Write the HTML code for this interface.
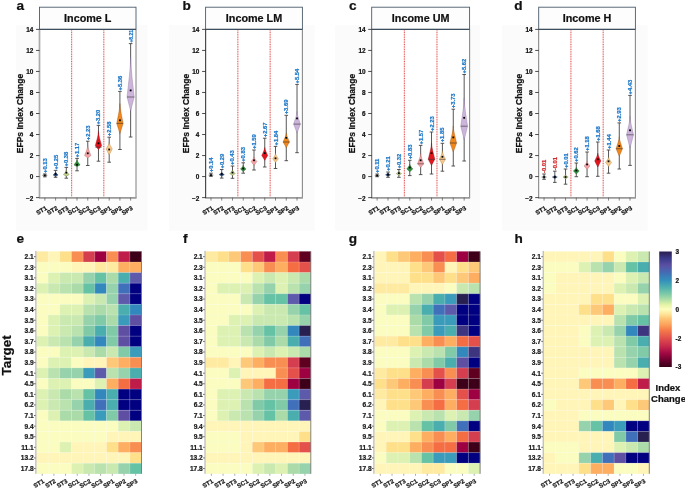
<!DOCTYPE html>
<html><head><meta charset="utf-8"><style>
html,body{margin:0;padding:0;background:#fff;overflow:hidden;}
svg{display:block;will-change:transform;}
text{font-family:"Liberation Sans", sans-serif;}
</style></head><body>
<svg width="685" height="489" viewBox="0 0 685 489">
<rect x="0" y="0" width="685" height="489" fill="#fff"/>
<rect x="16" y="25.2" width="131.5" height="205.5" fill="#fbfbfb"/>
<rect x="169" y="25.2" width="145.7" height="205.5" fill="#fbfbfb"/>
<rect x="335.2" y="25.2" width="144.8" height="205.5" fill="#fbfbfb"/>
<rect x="502" y="25.2" width="145.6" height="205.5" fill="#fbfbfb"/>
<rect x="39.50" y="29.40" width="96.50" height="168.20" fill="#fff"/>
<rect x="39.50" y="7.2" width="96.50" height="22.20" fill="#fdfdfd" stroke="#4a5b6b" stroke-width="0.9"/>
<text x="87.75" y="22.4" font-family="Liberation Sans" font-weight="bold" font-size="10.8" text-anchor="middle" fill="#111" stroke="#111" stroke-width="0.22">Income L</text>
<text x="16.6" y="10.4" font-family="Liberation Sans" font-weight="bold" font-size="13.6" fill="#111" stroke="#111" stroke-width="0.22">a</text>
<line x1="71.67" y1="30.4" x2="71.67" y2="197.6" stroke="#e02828" stroke-width="0.9" stroke-dasharray="1,0.7"/>
<line x1="103.83" y1="30.4" x2="103.83" y2="197.6" stroke="#e02828" stroke-width="0.9" stroke-dasharray="1,0.7"/>
<line x1="136.00" y1="29.4" x2="136.00" y2="198.1" stroke="#8a8a8a" stroke-width="1.1"/>
<line x1="39.00" y1="197.9" x2="136.50" y2="197.9" stroke="#9a9a9a" stroke-width="1.7"/>
<line x1="39.50" y1="29.4" x2="39.50" y2="198.1" stroke="#aaaaaa" stroke-width="1.7"/>
<line x1="39.50" y1="29.4" x2="136.00" y2="29.4" stroke="#3d4f5f" stroke-width="1.1"/>
<line x1="36.00" y1="197.60" x2="39.50" y2="197.60" stroke="#222" stroke-width="0.8"/>
<text x="33.30" y="200.50" font-family="Liberation Sans" font-weight="bold" font-size="6.4" text-anchor="end" fill="#111" stroke="#111" stroke-width="0.22">−2</text>
<line x1="36.00" y1="176.57" x2="39.50" y2="176.57" stroke="#222" stroke-width="0.8"/>
<text x="33.30" y="179.47" font-family="Liberation Sans" font-weight="bold" font-size="6.4" text-anchor="end" fill="#111" stroke="#111" stroke-width="0.22">0</text>
<line x1="36.00" y1="155.55" x2="39.50" y2="155.55" stroke="#222" stroke-width="0.8"/>
<text x="33.30" y="158.45" font-family="Liberation Sans" font-weight="bold" font-size="6.4" text-anchor="end" fill="#111" stroke="#111" stroke-width="0.22">2</text>
<line x1="36.00" y1="134.53" x2="39.50" y2="134.53" stroke="#222" stroke-width="0.8"/>
<text x="33.30" y="137.43" font-family="Liberation Sans" font-weight="bold" font-size="6.4" text-anchor="end" fill="#111" stroke="#111" stroke-width="0.22">4</text>
<line x1="36.00" y1="113.50" x2="39.50" y2="113.50" stroke="#222" stroke-width="0.8"/>
<text x="33.30" y="116.40" font-family="Liberation Sans" font-weight="bold" font-size="6.4" text-anchor="end" fill="#111" stroke="#111" stroke-width="0.22">6</text>
<line x1="36.00" y1="92.47" x2="39.50" y2="92.47" stroke="#222" stroke-width="0.8"/>
<text x="33.30" y="95.38" font-family="Liberation Sans" font-weight="bold" font-size="6.4" text-anchor="end" fill="#111" stroke="#111" stroke-width="0.22">8</text>
<line x1="36.00" y1="71.45" x2="39.50" y2="71.45" stroke="#222" stroke-width="0.8"/>
<text x="33.30" y="74.35" font-family="Liberation Sans" font-weight="bold" font-size="6.4" text-anchor="end" fill="#111" stroke="#111" stroke-width="0.22">10</text>
<line x1="36.00" y1="50.43" x2="39.50" y2="50.43" stroke="#222" stroke-width="0.8"/>
<text x="33.30" y="53.33" font-family="Liberation Sans" font-weight="bold" font-size="6.4" text-anchor="end" fill="#111" stroke="#111" stroke-width="0.22">12</text>
<line x1="36.00" y1="29.40" x2="39.50" y2="29.40" stroke="#222" stroke-width="0.8"/>
<text x="33.30" y="32.30" font-family="Liberation Sans" font-weight="bold" font-size="6.4" text-anchor="end" fill="#111" stroke="#111" stroke-width="0.22">14</text>
<text transform="translate(22.90,113.5) rotate(-90)" font-family="Liberation Sans" font-weight="bold" font-size="8.5" text-anchor="middle" fill="#111" stroke="#111" stroke-width="0.22">EFPs Index Change</text>
<line x1="44.86" y1="197.6" x2="44.86" y2="200.6" stroke="#555" stroke-width="0.7"/>
<text transform="translate(47.46,209.40) rotate(-30)" font-family="Liberation Sans" font-weight="bold" font-size="6.1" text-anchor="end" fill="#111" stroke="#111" stroke-width="0.22">ST1</text>
<line x1="55.58" y1="197.6" x2="55.58" y2="200.6" stroke="#555" stroke-width="0.7"/>
<text transform="translate(58.18,209.40) rotate(-30)" font-family="Liberation Sans" font-weight="bold" font-size="6.1" text-anchor="end" fill="#111" stroke="#111" stroke-width="0.22">ST2</text>
<line x1="66.31" y1="197.6" x2="66.31" y2="200.6" stroke="#555" stroke-width="0.7"/>
<text transform="translate(68.91,209.40) rotate(-30)" font-family="Liberation Sans" font-weight="bold" font-size="6.1" text-anchor="end" fill="#111" stroke="#111" stroke-width="0.22">ST3</text>
<line x1="77.03" y1="197.6" x2="77.03" y2="200.6" stroke="#555" stroke-width="0.7"/>
<text transform="translate(79.63,209.40) rotate(-30)" font-family="Liberation Sans" font-weight="bold" font-size="6.1" text-anchor="end" fill="#111" stroke="#111" stroke-width="0.22">SC1</text>
<line x1="87.75" y1="197.6" x2="87.75" y2="200.6" stroke="#555" stroke-width="0.7"/>
<text transform="translate(90.35,209.40) rotate(-30)" font-family="Liberation Sans" font-weight="bold" font-size="6.1" text-anchor="end" fill="#111" stroke="#111" stroke-width="0.22">SC2</text>
<line x1="98.47" y1="197.6" x2="98.47" y2="200.6" stroke="#555" stroke-width="0.7"/>
<text transform="translate(101.07,209.40) rotate(-30)" font-family="Liberation Sans" font-weight="bold" font-size="6.1" text-anchor="end" fill="#111" stroke="#111" stroke-width="0.22">SC3</text>
<line x1="109.19" y1="197.6" x2="109.19" y2="200.6" stroke="#555" stroke-width="0.7"/>
<text transform="translate(111.79,209.40) rotate(-30)" font-family="Liberation Sans" font-weight="bold" font-size="6.1" text-anchor="end" fill="#111" stroke="#111" stroke-width="0.22">SP1</text>
<line x1="119.92" y1="197.6" x2="119.92" y2="200.6" stroke="#555" stroke-width="0.7"/>
<text transform="translate(122.52,209.40) rotate(-30)" font-family="Liberation Sans" font-weight="bold" font-size="6.1" text-anchor="end" fill="#111" stroke="#111" stroke-width="0.22">SP2</text>
<line x1="130.64" y1="197.6" x2="130.64" y2="200.6" stroke="#555" stroke-width="0.7"/>
<text transform="translate(133.24,209.40) rotate(-30)" font-family="Liberation Sans" font-weight="bold" font-size="6.1" text-anchor="end" fill="#111" stroke="#111" stroke-width="0.22">SP3</text>
<line x1="44.86" y1="174.00" x2="44.86" y2="176.80" stroke="#444" stroke-width="0.9"/>
<line x1="43.06" y1="174.00" x2="46.66" y2="174.00" stroke="#444" stroke-width="0.9"/>
<line x1="43.06" y1="176.80" x2="46.66" y2="176.80" stroke="#444" stroke-width="0.9"/>
<path d="M44.86,173.80 C44.98,174.28 46.30,174.84 47.26,175.40 L44.86,177.00 L42.46,175.40 C43.42,174.84 44.74,174.28 44.86,173.80 Z" fill="#9a9a9a" stroke="#555" stroke-width="0.4"/>
<rect x="43.96" y="174.50" width="1.8" height="1.8" fill="#000"/>
<text transform="translate(46.86,173.00) rotate(-90)" font-family="Liberation Sans" font-weight="bold" font-size="5.8" text-anchor="start" fill="#1f78c8" stroke="#1f78c8" stroke-width="0.22">+0.13</text>
<line x1="55.58" y1="170.40" x2="55.58" y2="177.30" stroke="#444" stroke-width="0.9"/>
<line x1="53.78" y1="170.40" x2="57.38" y2="170.40" stroke="#444" stroke-width="0.9"/>
<line x1="53.78" y1="177.30" x2="57.38" y2="177.30" stroke="#444" stroke-width="0.9"/>
<path d="M55.58,172.00 C55.71,172.90 57.08,173.95 58.08,175.00 L55.58,176.60 L53.08,175.00 C54.08,173.95 55.46,172.90 55.58,172.00 Z" fill="#2b4f86" stroke="#1a2a4a" stroke-width="0.4"/>
<rect x="54.68" y="173.10" width="1.8" height="1.8" fill="#000"/>
<text transform="translate(57.58,169.40) rotate(-90)" font-family="Liberation Sans" font-weight="bold" font-size="5.8" text-anchor="start" fill="#1f78c8" stroke="#1f78c8" stroke-width="0.22">+0.25</text>
<line x1="66.31" y1="167.40" x2="66.31" y2="178.20" stroke="#444" stroke-width="0.9"/>
<line x1="64.51" y1="167.40" x2="68.11" y2="167.40" stroke="#444" stroke-width="0.9"/>
<line x1="64.51" y1="178.20" x2="68.11" y2="178.20" stroke="#444" stroke-width="0.9"/>
<path d="M66.31,170.50 C66.45,171.73 67.99,173.16 69.11,174.60 L66.31,176.20 L63.51,174.60 C64.63,173.16 66.17,171.73 66.31,170.50 Z" fill="#c9d78e" stroke="#556b2f" stroke-width="0.4"/>
<rect x="65.41" y="171.80" width="1.8" height="1.8" fill="#000"/>
<text transform="translate(68.31,166.40) rotate(-90)" font-family="Liberation Sans" font-weight="bold" font-size="5.8" text-anchor="start" fill="#1f78c8" stroke="#1f78c8" stroke-width="0.22">+0.38</text>
<line x1="77.03" y1="158.40" x2="77.03" y2="170.80" stroke="#444" stroke-width="0.9"/>
<line x1="75.23" y1="158.40" x2="78.83" y2="158.40" stroke="#444" stroke-width="0.9"/>
<line x1="75.23" y1="170.80" x2="78.83" y2="170.80" stroke="#444" stroke-width="0.9"/>
<path d="M77.03,159.80 C77.18,161.36 78.83,163.18 80.03,165.00 L77.03,166.60 L74.03,165.00 C75.23,163.18 76.88,161.36 77.03,159.80 Z" fill="#2f8f3a" stroke="#1d5a24" stroke-width="0.4"/>
<rect x="76.13" y="163.80" width="1.8" height="1.8" fill="#000"/>
<text transform="translate(79.03,157.40) rotate(-90)" font-family="Liberation Sans" font-weight="bold" font-size="5.8" text-anchor="start" fill="#1f78c8" stroke="#1f78c8" stroke-width="0.22">+1.17</text>
<line x1="87.75" y1="141.20" x2="87.75" y2="165.50" stroke="#444" stroke-width="0.9"/>
<line x1="85.95" y1="141.20" x2="89.55" y2="141.20" stroke="#444" stroke-width="0.9"/>
<line x1="85.95" y1="165.50" x2="89.55" y2="165.50" stroke="#444" stroke-width="0.9"/>
<path d="M87.75,145.60 C87.91,148.57 89.67,152.03 90.95,155.50 L87.75,157.90 L84.55,155.50 C85.83,152.03 87.59,148.57 87.75,145.60 Z" fill="#f4a3a6" stroke="#b06a70" stroke-width="0.4"/>
<rect x="86.85" y="152.40" width="1.8" height="1.8" fill="#000"/>
<text transform="translate(89.75,140.20) rotate(-90)" font-family="Liberation Sans" font-weight="bold" font-size="5.8" text-anchor="start" fill="#1f78c8" stroke="#1f78c8" stroke-width="0.22">+2.23</text>
<line x1="98.47" y1="125.40" x2="98.47" y2="161.20" stroke="#444" stroke-width="0.9"/>
<line x1="96.67" y1="125.40" x2="100.27" y2="125.40" stroke="#444" stroke-width="0.9"/>
<line x1="96.67" y1="161.20" x2="100.27" y2="161.20" stroke="#444" stroke-width="0.9"/>
<path d="M98.47,131.50 C98.63,135.79 100.39,140.80 101.67,145.80 L98.47,149.50 L95.27,145.80 C96.55,140.80 98.31,135.79 98.47,131.50 Z" fill="#e3161f" stroke="#8a0f14" stroke-width="0.4"/>
<line x1="95.27" y1="147.20" x2="101.67" y2="147.20" stroke="#333" stroke-width="0.6"/>
<rect x="97.57" y="142.40" width="1.8" height="1.8" fill="#000"/>
<text transform="translate(100.47,124.40) rotate(-90)" font-family="Liberation Sans" font-weight="bold" font-size="5.8" text-anchor="start" fill="#1f78c8" stroke="#1f78c8" stroke-width="0.22">+3.20</text>
<line x1="109.19" y1="137.20" x2="109.19" y2="162.20" stroke="#444" stroke-width="0.9"/>
<line x1="107.39" y1="137.20" x2="110.99" y2="137.20" stroke="#444" stroke-width="0.9"/>
<line x1="107.39" y1="162.20" x2="110.99" y2="162.20" stroke="#444" stroke-width="0.9"/>
<path d="M109.19,142.40 C109.35,144.35 111.05,146.62 112.29,148.90 L109.19,155.00 L106.09,148.90 C107.33,146.62 109.04,144.35 109.19,142.40 Z" fill="#f7c98b" stroke="#b08040" stroke-width="0.4"/>
<rect x="108.29" y="148.60" width="1.8" height="1.8" fill="#000"/>
<text transform="translate(111.19,136.20) rotate(-90)" font-family="Liberation Sans" font-weight="bold" font-size="5.8" text-anchor="start" fill="#1f78c8" stroke="#1f78c8" stroke-width="0.22">+2.58</text>
<line x1="119.92" y1="91.40" x2="119.92" y2="149.50" stroke="#444" stroke-width="0.9"/>
<line x1="118.12" y1="91.40" x2="121.72" y2="91.40" stroke="#444" stroke-width="0.9"/>
<line x1="118.12" y1="149.50" x2="121.72" y2="149.50" stroke="#444" stroke-width="0.9"/>
<path d="M119.92,103.50 C120.08,109.47 121.84,116.44 123.12,123.40 L119.92,133.60 L116.72,123.40 C118.00,116.44 119.76,109.47 119.92,103.50 Z" fill="#f2871c" stroke="#9a5210" stroke-width="0.4"/>
<line x1="116.72" y1="123.40" x2="123.12" y2="123.40" stroke="#333" stroke-width="0.6"/>
<rect x="119.02" y="119.40" width="1.8" height="1.8" fill="#000"/>
<text transform="translate(121.92,90.40) rotate(-90)" font-family="Liberation Sans" font-weight="bold" font-size="5.8" text-anchor="start" fill="#1f78c8" stroke="#1f78c8" stroke-width="0.22">+5.36</text>
<line x1="130.64" y1="43.60" x2="130.64" y2="137.00" stroke="#444" stroke-width="0.9"/>
<line x1="128.84" y1="43.60" x2="132.44" y2="43.60" stroke="#444" stroke-width="0.9"/>
<line x1="128.84" y1="137.00" x2="132.44" y2="137.00" stroke="#444" stroke-width="0.9"/>
<path d="M130.64,57.50 C130.82,69.35 132.80,83.17 134.24,97.00 L130.64,110.80 L127.04,97.00 C128.48,83.17 130.46,69.35 130.64,57.50 Z" fill="#cdb4da" stroke="#8a7aa0" stroke-width="0.4"/>
<line x1="127.04" y1="97.00" x2="134.24" y2="97.00" stroke="#333" stroke-width="0.6"/>
<rect x="129.74" y="89.50" width="1.8" height="1.8" fill="#000"/>
<text transform="translate(132.64,42.60) rotate(-90)" font-family="Liberation Sans" font-weight="bold" font-size="5.0" text-anchor="start" fill="#1f78c8" stroke="#1f78c8" stroke-width="0.22">+8.21</text>
<rect x="205.60" y="29.40" width="96.80" height="168.20" fill="#fff"/>
<rect x="205.60" y="7.2" width="96.80" height="22.20" fill="#fdfdfd" stroke="#4a5b6b" stroke-width="0.9"/>
<text x="254.00" y="22.4" font-family="Liberation Sans" font-weight="bold" font-size="10.8" text-anchor="middle" fill="#111" stroke="#111" stroke-width="0.22">Income LM</text>
<text x="182.6" y="10.4" font-family="Liberation Sans" font-weight="bold" font-size="13.6" fill="#111" stroke="#111" stroke-width="0.22">b</text>
<line x1="237.87" y1="30.4" x2="237.87" y2="197.6" stroke="#e02828" stroke-width="0.9" stroke-dasharray="1,0.7"/>
<line x1="270.13" y1="30.4" x2="270.13" y2="197.6" stroke="#e02828" stroke-width="0.9" stroke-dasharray="1,0.7"/>
<line x1="302.40" y1="29.4" x2="302.40" y2="198.1" stroke="#8a8a8a" stroke-width="1.1"/>
<line x1="205.10" y1="197.9" x2="302.90" y2="197.9" stroke="#9a9a9a" stroke-width="1.7"/>
<line x1="205.60" y1="29.4" x2="205.60" y2="198.1" stroke="#4a4a4a" stroke-width="1.2"/>
<line x1="205.60" y1="29.4" x2="302.40" y2="29.4" stroke="#3d4f5f" stroke-width="1.1"/>
<line x1="202.10" y1="197.60" x2="205.60" y2="197.60" stroke="#222" stroke-width="0.8"/>
<text x="199.40" y="200.50" font-family="Liberation Sans" font-weight="bold" font-size="6.4" text-anchor="end" fill="#111" stroke="#111" stroke-width="0.22">−2</text>
<line x1="202.10" y1="176.57" x2="205.60" y2="176.57" stroke="#222" stroke-width="0.8"/>
<text x="199.40" y="179.47" font-family="Liberation Sans" font-weight="bold" font-size="6.4" text-anchor="end" fill="#111" stroke="#111" stroke-width="0.22">0</text>
<line x1="202.10" y1="155.55" x2="205.60" y2="155.55" stroke="#222" stroke-width="0.8"/>
<text x="199.40" y="158.45" font-family="Liberation Sans" font-weight="bold" font-size="6.4" text-anchor="end" fill="#111" stroke="#111" stroke-width="0.22">2</text>
<line x1="202.10" y1="134.53" x2="205.60" y2="134.53" stroke="#222" stroke-width="0.8"/>
<text x="199.40" y="137.43" font-family="Liberation Sans" font-weight="bold" font-size="6.4" text-anchor="end" fill="#111" stroke="#111" stroke-width="0.22">4</text>
<line x1="202.10" y1="113.50" x2="205.60" y2="113.50" stroke="#222" stroke-width="0.8"/>
<text x="199.40" y="116.40" font-family="Liberation Sans" font-weight="bold" font-size="6.4" text-anchor="end" fill="#111" stroke="#111" stroke-width="0.22">6</text>
<line x1="202.10" y1="92.47" x2="205.60" y2="92.47" stroke="#222" stroke-width="0.8"/>
<text x="199.40" y="95.38" font-family="Liberation Sans" font-weight="bold" font-size="6.4" text-anchor="end" fill="#111" stroke="#111" stroke-width="0.22">8</text>
<line x1="202.10" y1="71.45" x2="205.60" y2="71.45" stroke="#222" stroke-width="0.8"/>
<text x="199.40" y="74.35" font-family="Liberation Sans" font-weight="bold" font-size="6.4" text-anchor="end" fill="#111" stroke="#111" stroke-width="0.22">10</text>
<line x1="202.10" y1="50.43" x2="205.60" y2="50.43" stroke="#222" stroke-width="0.8"/>
<text x="199.40" y="53.33" font-family="Liberation Sans" font-weight="bold" font-size="6.4" text-anchor="end" fill="#111" stroke="#111" stroke-width="0.22">12</text>
<line x1="202.10" y1="29.40" x2="205.60" y2="29.40" stroke="#222" stroke-width="0.8"/>
<text x="199.40" y="32.30" font-family="Liberation Sans" font-weight="bold" font-size="6.4" text-anchor="end" fill="#111" stroke="#111" stroke-width="0.22">14</text>
<text transform="translate(189.00,113.5) rotate(-90)" font-family="Liberation Sans" font-weight="bold" font-size="8.5" text-anchor="middle" fill="#111" stroke="#111" stroke-width="0.22">EFPs Index Change</text>
<line x1="210.98" y1="197.6" x2="210.98" y2="200.6" stroke="#555" stroke-width="0.7"/>
<text transform="translate(213.58,209.40) rotate(-30)" font-family="Liberation Sans" font-weight="bold" font-size="6.1" text-anchor="end" fill="#111" stroke="#111" stroke-width="0.22">ST1</text>
<line x1="221.73" y1="197.6" x2="221.73" y2="200.6" stroke="#555" stroke-width="0.7"/>
<text transform="translate(224.33,209.40) rotate(-30)" font-family="Liberation Sans" font-weight="bold" font-size="6.1" text-anchor="end" fill="#111" stroke="#111" stroke-width="0.22">ST2</text>
<line x1="232.49" y1="197.6" x2="232.49" y2="200.6" stroke="#555" stroke-width="0.7"/>
<text transform="translate(235.09,209.40) rotate(-30)" font-family="Liberation Sans" font-weight="bold" font-size="6.1" text-anchor="end" fill="#111" stroke="#111" stroke-width="0.22">ST3</text>
<line x1="243.24" y1="197.6" x2="243.24" y2="200.6" stroke="#555" stroke-width="0.7"/>
<text transform="translate(245.84,209.40) rotate(-30)" font-family="Liberation Sans" font-weight="bold" font-size="6.1" text-anchor="end" fill="#111" stroke="#111" stroke-width="0.22">SC1</text>
<line x1="254.00" y1="197.6" x2="254.00" y2="200.6" stroke="#555" stroke-width="0.7"/>
<text transform="translate(256.60,209.40) rotate(-30)" font-family="Liberation Sans" font-weight="bold" font-size="6.1" text-anchor="end" fill="#111" stroke="#111" stroke-width="0.22">SC2</text>
<line x1="264.76" y1="197.6" x2="264.76" y2="200.6" stroke="#555" stroke-width="0.7"/>
<text transform="translate(267.36,209.40) rotate(-30)" font-family="Liberation Sans" font-weight="bold" font-size="6.1" text-anchor="end" fill="#111" stroke="#111" stroke-width="0.22">SC3</text>
<line x1="275.51" y1="197.6" x2="275.51" y2="200.6" stroke="#555" stroke-width="0.7"/>
<text transform="translate(278.11,209.40) rotate(-30)" font-family="Liberation Sans" font-weight="bold" font-size="6.1" text-anchor="end" fill="#111" stroke="#111" stroke-width="0.22">SP1</text>
<line x1="286.27" y1="197.6" x2="286.27" y2="200.6" stroke="#555" stroke-width="0.7"/>
<text transform="translate(288.87,209.40) rotate(-30)" font-family="Liberation Sans" font-weight="bold" font-size="6.1" text-anchor="end" fill="#111" stroke="#111" stroke-width="0.22">SP2</text>
<line x1="297.02" y1="197.6" x2="297.02" y2="200.6" stroke="#555" stroke-width="0.7"/>
<text transform="translate(299.62,209.40) rotate(-30)" font-family="Liberation Sans" font-weight="bold" font-size="6.1" text-anchor="end" fill="#111" stroke="#111" stroke-width="0.22">SP3</text>
<line x1="210.98" y1="173.20" x2="210.98" y2="176.30" stroke="#444" stroke-width="0.9"/>
<line x1="209.18" y1="173.20" x2="212.78" y2="173.20" stroke="#444" stroke-width="0.9"/>
<line x1="209.18" y1="176.30" x2="212.78" y2="176.30" stroke="#444" stroke-width="0.9"/>
<path d="M210.98,173.60 C211.09,174.08 212.36,174.64 213.28,175.20 L210.98,176.60 L208.68,175.20 C209.60,174.64 210.86,174.08 210.98,173.60 Z" fill="#9a9a9a" stroke="#555" stroke-width="0.4"/>
<rect x="210.08" y="174.30" width="1.8" height="1.8" fill="#000"/>
<text transform="translate(212.98,172.20) rotate(-90)" font-family="Liberation Sans" font-weight="bold" font-size="5.8" text-anchor="start" fill="#1f78c8" stroke="#1f78c8" stroke-width="0.22">+0.14</text>
<line x1="221.73" y1="169.50" x2="221.73" y2="178.10" stroke="#444" stroke-width="0.9"/>
<line x1="219.93" y1="169.50" x2="223.53" y2="169.50" stroke="#444" stroke-width="0.9"/>
<line x1="219.93" y1="178.10" x2="223.53" y2="178.10" stroke="#444" stroke-width="0.9"/>
<path d="M221.73,172.40 C221.86,173.06 223.29,173.83 224.33,174.60 L221.73,176.20 L219.13,174.60 C220.17,173.83 221.60,173.06 221.73,172.40 Z" fill="#2b4f86" stroke="#1a2a4a" stroke-width="0.4"/>
<rect x="220.83" y="173.10" width="1.8" height="1.8" fill="#000"/>
<text transform="translate(223.73,168.50) rotate(-90)" font-family="Liberation Sans" font-weight="bold" font-size="5.8" text-anchor="start" fill="#1f78c8" stroke="#1f78c8" stroke-width="0.22">+0.29</text>
<line x1="232.49" y1="166.00" x2="232.49" y2="178.30" stroke="#444" stroke-width="0.9"/>
<line x1="230.69" y1="166.00" x2="234.29" y2="166.00" stroke="#444" stroke-width="0.9"/>
<line x1="230.69" y1="178.30" x2="234.29" y2="178.30" stroke="#444" stroke-width="0.9"/>
<path d="M232.49,170.00 C232.62,171.08 234.11,172.34 235.19,173.60 L232.49,175.60 L229.79,173.60 C230.87,172.34 232.35,171.08 232.49,170.00 Z" fill="#c9d78e" stroke="#556b2f" stroke-width="0.4"/>
<rect x="231.59" y="171.70" width="1.8" height="1.8" fill="#000"/>
<text transform="translate(234.49,165.00) rotate(-90)" font-family="Liberation Sans" font-weight="bold" font-size="5.8" text-anchor="start" fill="#1f78c8" stroke="#1f78c8" stroke-width="0.22">+0.43</text>
<line x1="243.24" y1="162.80" x2="243.24" y2="173.20" stroke="#444" stroke-width="0.9"/>
<line x1="241.44" y1="162.80" x2="245.04" y2="162.80" stroke="#444" stroke-width="0.9"/>
<line x1="241.44" y1="173.20" x2="245.04" y2="173.20" stroke="#444" stroke-width="0.9"/>
<path d="M243.24,165.40 C243.38,166.48 244.92,167.74 246.04,169.00 L243.24,171.60 L240.44,169.00 C241.56,167.74 243.10,166.48 243.24,165.40 Z" fill="#2f8f3a" stroke="#1d5a24" stroke-width="0.4"/>
<rect x="242.34" y="167.60" width="1.8" height="1.8" fill="#000"/>
<text transform="translate(245.24,161.80) rotate(-90)" font-family="Liberation Sans" font-weight="bold" font-size="5.8" text-anchor="start" fill="#1f78c8" stroke="#1f78c8" stroke-width="0.22">+0.83</text>
<line x1="254.00" y1="150.00" x2="254.00" y2="170.00" stroke="#444" stroke-width="0.9"/>
<line x1="252.20" y1="150.00" x2="255.80" y2="150.00" stroke="#444" stroke-width="0.9"/>
<line x1="252.20" y1="170.00" x2="255.80" y2="170.00" stroke="#444" stroke-width="0.9"/>
<path d="M254.00,157.00 C254.15,158.35 255.74,159.93 256.90,161.50 L254.00,165.40 L251.10,161.50 C252.26,159.93 253.85,158.35 254.00,157.00 Z" fill="#f4a3a6" stroke="#b06a70" stroke-width="0.4"/>
<rect x="253.10" y="159.40" width="1.8" height="1.8" fill="#000"/>
<text transform="translate(256.00,149.00) rotate(-90)" font-family="Liberation Sans" font-weight="bold" font-size="5.8" text-anchor="start" fill="#1f78c8" stroke="#1f78c8" stroke-width="0.22">+1.59</text>
<line x1="264.76" y1="138.20" x2="264.76" y2="167.00" stroke="#444" stroke-width="0.9"/>
<line x1="262.96" y1="138.20" x2="266.56" y2="138.20" stroke="#444" stroke-width="0.9"/>
<line x1="262.96" y1="167.00" x2="266.56" y2="167.00" stroke="#444" stroke-width="0.9"/>
<path d="M264.76,147.50 C264.91,149.90 266.56,152.70 267.76,155.50 L264.76,160.30 L261.76,155.50 C262.96,152.70 264.61,149.90 264.76,147.50 Z" fill="#e3161f" stroke="#8a0f14" stroke-width="0.4"/>
<rect x="263.86" y="152.30" width="1.8" height="1.8" fill="#000"/>
<text transform="translate(266.76,137.20) rotate(-90)" font-family="Liberation Sans" font-weight="bold" font-size="5.8" text-anchor="start" fill="#1f78c8" stroke="#1f78c8" stroke-width="0.22">+2.67</text>
<line x1="275.51" y1="146.40" x2="275.51" y2="168.50" stroke="#444" stroke-width="0.9"/>
<line x1="273.71" y1="146.40" x2="277.31" y2="146.40" stroke="#444" stroke-width="0.9"/>
<line x1="273.71" y1="168.50" x2="277.31" y2="168.50" stroke="#444" stroke-width="0.9"/>
<path d="M275.51,153.50 C275.66,155.09 277.25,156.95 278.41,158.80 L275.51,162.40 L272.61,158.80 C273.77,156.95 275.37,155.09 275.51,153.50 Z" fill="#f7c98b" stroke="#b08040" stroke-width="0.4"/>
<rect x="274.61" y="157.40" width="1.8" height="1.8" fill="#000"/>
<text transform="translate(277.51,145.40) rotate(-90)" font-family="Liberation Sans" font-weight="bold" font-size="5.8" text-anchor="start" fill="#1f78c8" stroke="#1f78c8" stroke-width="0.22">+1.84</text>
<line x1="286.27" y1="115.30" x2="286.27" y2="160.70" stroke="#444" stroke-width="0.9"/>
<line x1="284.47" y1="115.30" x2="288.07" y2="115.30" stroke="#444" stroke-width="0.9"/>
<line x1="284.47" y1="160.70" x2="288.07" y2="160.70" stroke="#444" stroke-width="0.9"/>
<path d="M286.27,133.00 C286.43,135.70 288.19,138.85 289.47,142.00 L286.27,147.60 L283.07,142.00 C284.35,138.85 286.11,135.70 286.27,133.00 Z" fill="#f2871c" stroke="#9a5210" stroke-width="0.4"/>
<line x1="283.07" y1="142.00" x2="289.47" y2="142.00" stroke="#333" stroke-width="0.6"/>
<rect x="285.37" y="136.90" width="1.8" height="1.8" fill="#000"/>
<text transform="translate(288.27,114.30) rotate(-90)" font-family="Liberation Sans" font-weight="bold" font-size="5.8" text-anchor="start" fill="#1f78c8" stroke="#1f78c8" stroke-width="0.22">+3.69</text>
<line x1="297.02" y1="84.40" x2="297.02" y2="152.70" stroke="#444" stroke-width="0.9"/>
<line x1="295.22" y1="84.40" x2="298.82" y2="84.40" stroke="#444" stroke-width="0.9"/>
<line x1="295.22" y1="152.70" x2="298.82" y2="152.70" stroke="#444" stroke-width="0.9"/>
<path d="M297.02,111.50 C297.19,115.28 299.06,119.69 300.42,124.10 L297.02,133.00 L293.62,124.10 C294.98,119.69 296.85,115.28 297.02,111.50 Z" fill="#cdb4da" stroke="#8a7aa0" stroke-width="0.4"/>
<line x1="293.62" y1="124.10" x2="300.42" y2="124.10" stroke="#333" stroke-width="0.6"/>
<rect x="296.12" y="117.50" width="1.8" height="1.8" fill="#000"/>
<text transform="translate(299.02,83.40) rotate(-90)" font-family="Liberation Sans" font-weight="bold" font-size="5.8" text-anchor="start" fill="#1f78c8" stroke="#1f78c8" stroke-width="0.22">+5.54</text>
<rect x="371.70" y="29.40" width="97.90" height="168.20" fill="#fff"/>
<rect x="371.70" y="7.2" width="97.90" height="22.20" fill="#fdfdfd" stroke="#4a5b6b" stroke-width="0.9"/>
<text x="420.65" y="22.4" font-family="Liberation Sans" font-weight="bold" font-size="10.8" text-anchor="middle" fill="#111" stroke="#111" stroke-width="0.22">Income UM</text>
<text x="348.9" y="10.4" font-family="Liberation Sans" font-weight="bold" font-size="13.6" fill="#111" stroke="#111" stroke-width="0.22">c</text>
<line x1="404.33" y1="30.4" x2="404.33" y2="197.6" stroke="#e02828" stroke-width="0.9" stroke-dasharray="1,0.7"/>
<line x1="436.97" y1="30.4" x2="436.97" y2="197.6" stroke="#e02828" stroke-width="0.9" stroke-dasharray="1,0.7"/>
<line x1="469.60" y1="29.4" x2="469.60" y2="198.1" stroke="#8a8a8a" stroke-width="1.1"/>
<line x1="371.20" y1="197.9" x2="470.10" y2="197.9" stroke="#9a9a9a" stroke-width="1.7"/>
<line x1="371.70" y1="29.4" x2="371.70" y2="198.1" stroke="#666" stroke-width="1.1"/>
<line x1="371.70" y1="29.4" x2="469.60" y2="29.4" stroke="#3d4f5f" stroke-width="1.1"/>
<line x1="368.20" y1="197.60" x2="371.70" y2="197.60" stroke="#222" stroke-width="0.8"/>
<text x="365.50" y="200.50" font-family="Liberation Sans" font-weight="bold" font-size="6.4" text-anchor="end" fill="#111" stroke="#111" stroke-width="0.22">−2</text>
<line x1="368.20" y1="176.57" x2="371.70" y2="176.57" stroke="#222" stroke-width="0.8"/>
<text x="365.50" y="179.47" font-family="Liberation Sans" font-weight="bold" font-size="6.4" text-anchor="end" fill="#111" stroke="#111" stroke-width="0.22">0</text>
<line x1="368.20" y1="155.55" x2="371.70" y2="155.55" stroke="#222" stroke-width="0.8"/>
<text x="365.50" y="158.45" font-family="Liberation Sans" font-weight="bold" font-size="6.4" text-anchor="end" fill="#111" stroke="#111" stroke-width="0.22">2</text>
<line x1="368.20" y1="134.53" x2="371.70" y2="134.53" stroke="#222" stroke-width="0.8"/>
<text x="365.50" y="137.43" font-family="Liberation Sans" font-weight="bold" font-size="6.4" text-anchor="end" fill="#111" stroke="#111" stroke-width="0.22">4</text>
<line x1="368.20" y1="113.50" x2="371.70" y2="113.50" stroke="#222" stroke-width="0.8"/>
<text x="365.50" y="116.40" font-family="Liberation Sans" font-weight="bold" font-size="6.4" text-anchor="end" fill="#111" stroke="#111" stroke-width="0.22">6</text>
<line x1="368.20" y1="92.47" x2="371.70" y2="92.47" stroke="#222" stroke-width="0.8"/>
<text x="365.50" y="95.38" font-family="Liberation Sans" font-weight="bold" font-size="6.4" text-anchor="end" fill="#111" stroke="#111" stroke-width="0.22">8</text>
<line x1="368.20" y1="71.45" x2="371.70" y2="71.45" stroke="#222" stroke-width="0.8"/>
<text x="365.50" y="74.35" font-family="Liberation Sans" font-weight="bold" font-size="6.4" text-anchor="end" fill="#111" stroke="#111" stroke-width="0.22">10</text>
<line x1="368.20" y1="50.43" x2="371.70" y2="50.43" stroke="#222" stroke-width="0.8"/>
<text x="365.50" y="53.33" font-family="Liberation Sans" font-weight="bold" font-size="6.4" text-anchor="end" fill="#111" stroke="#111" stroke-width="0.22">12</text>
<line x1="368.20" y1="29.40" x2="371.70" y2="29.40" stroke="#222" stroke-width="0.8"/>
<text x="365.50" y="32.30" font-family="Liberation Sans" font-weight="bold" font-size="6.4" text-anchor="end" fill="#111" stroke="#111" stroke-width="0.22">14</text>
<text transform="translate(355.10,113.5) rotate(-90)" font-family="Liberation Sans" font-weight="bold" font-size="8.5" text-anchor="middle" fill="#111" stroke="#111" stroke-width="0.22">EFPs Index Change</text>
<line x1="377.14" y1="197.6" x2="377.14" y2="200.6" stroke="#555" stroke-width="0.7"/>
<text transform="translate(379.74,209.40) rotate(-30)" font-family="Liberation Sans" font-weight="bold" font-size="6.1" text-anchor="end" fill="#111" stroke="#111" stroke-width="0.22">ST1</text>
<line x1="388.02" y1="197.6" x2="388.02" y2="200.6" stroke="#555" stroke-width="0.7"/>
<text transform="translate(390.62,209.40) rotate(-30)" font-family="Liberation Sans" font-weight="bold" font-size="6.1" text-anchor="end" fill="#111" stroke="#111" stroke-width="0.22">ST2</text>
<line x1="398.89" y1="197.6" x2="398.89" y2="200.6" stroke="#555" stroke-width="0.7"/>
<text transform="translate(401.49,209.40) rotate(-30)" font-family="Liberation Sans" font-weight="bold" font-size="6.1" text-anchor="end" fill="#111" stroke="#111" stroke-width="0.22">ST3</text>
<line x1="409.77" y1="197.6" x2="409.77" y2="200.6" stroke="#555" stroke-width="0.7"/>
<text transform="translate(412.37,209.40) rotate(-30)" font-family="Liberation Sans" font-weight="bold" font-size="6.1" text-anchor="end" fill="#111" stroke="#111" stroke-width="0.22">SC1</text>
<line x1="420.65" y1="197.6" x2="420.65" y2="200.6" stroke="#555" stroke-width="0.7"/>
<text transform="translate(423.25,209.40) rotate(-30)" font-family="Liberation Sans" font-weight="bold" font-size="6.1" text-anchor="end" fill="#111" stroke="#111" stroke-width="0.22">SC2</text>
<line x1="431.53" y1="197.6" x2="431.53" y2="200.6" stroke="#555" stroke-width="0.7"/>
<text transform="translate(434.13,209.40) rotate(-30)" font-family="Liberation Sans" font-weight="bold" font-size="6.1" text-anchor="end" fill="#111" stroke="#111" stroke-width="0.22">SC3</text>
<line x1="442.41" y1="197.6" x2="442.41" y2="200.6" stroke="#555" stroke-width="0.7"/>
<text transform="translate(445.01,209.40) rotate(-30)" font-family="Liberation Sans" font-weight="bold" font-size="6.1" text-anchor="end" fill="#111" stroke="#111" stroke-width="0.22">SP1</text>
<line x1="453.28" y1="197.6" x2="453.28" y2="200.6" stroke="#555" stroke-width="0.7"/>
<text transform="translate(455.88,209.40) rotate(-30)" font-family="Liberation Sans" font-weight="bold" font-size="6.1" text-anchor="end" fill="#111" stroke="#111" stroke-width="0.22">SP2</text>
<line x1="464.16" y1="197.6" x2="464.16" y2="200.6" stroke="#555" stroke-width="0.7"/>
<text transform="translate(466.76,209.40) rotate(-30)" font-family="Liberation Sans" font-weight="bold" font-size="6.1" text-anchor="end" fill="#111" stroke="#111" stroke-width="0.22">SP3</text>
<line x1="377.14" y1="174.00" x2="377.14" y2="176.70" stroke="#444" stroke-width="0.9"/>
<line x1="375.34" y1="174.00" x2="378.94" y2="174.00" stroke="#444" stroke-width="0.9"/>
<line x1="375.34" y1="176.70" x2="378.94" y2="176.70" stroke="#444" stroke-width="0.9"/>
<path d="M377.14,174.20 C377.25,174.62 378.52,175.11 379.44,175.60 L377.14,176.80 L374.84,175.60 C375.76,175.11 377.02,174.62 377.14,174.20 Z" fill="#9a9a9a" stroke="#555" stroke-width="0.4"/>
<rect x="376.24" y="174.70" width="1.8" height="1.8" fill="#000"/>
<text transform="translate(379.14,173.00) rotate(-90)" font-family="Liberation Sans" font-weight="bold" font-size="5.8" text-anchor="start" fill="#1f78c8" stroke="#1f78c8" stroke-width="0.22">+0.11</text>
<line x1="388.02" y1="172.00" x2="388.02" y2="177.30" stroke="#444" stroke-width="0.9"/>
<line x1="386.22" y1="172.00" x2="389.82" y2="172.00" stroke="#444" stroke-width="0.9"/>
<line x1="386.22" y1="177.30" x2="389.82" y2="177.30" stroke="#444" stroke-width="0.9"/>
<path d="M388.02,173.00 C388.14,173.54 389.52,174.17 390.52,174.80 L388.02,176.40 L385.52,174.80 C386.52,174.17 387.89,173.54 388.02,173.00 Z" fill="#2b4f86" stroke="#1a2a4a" stroke-width="0.4"/>
<rect x="387.12" y="173.70" width="1.8" height="1.8" fill="#000"/>
<text transform="translate(390.02,171.00) rotate(-90)" font-family="Liberation Sans" font-weight="bold" font-size="5.8" text-anchor="start" fill="#1f78c8" stroke="#1f78c8" stroke-width="0.22">+0.21</text>
<line x1="398.89" y1="169.50" x2="398.89" y2="177.30" stroke="#444" stroke-width="0.9"/>
<line x1="397.09" y1="169.50" x2="400.69" y2="169.50" stroke="#444" stroke-width="0.9"/>
<line x1="397.09" y1="177.30" x2="400.69" y2="177.30" stroke="#444" stroke-width="0.9"/>
<path d="M398.89,171.50 C399.02,172.13 400.45,172.87 401.49,173.60 L398.89,175.50 L396.29,173.60 C397.33,172.87 398.76,172.13 398.89,171.50 Z" fill="#c9d78e" stroke="#556b2f" stroke-width="0.4"/>
<rect x="397.99" y="172.30" width="1.8" height="1.8" fill="#000"/>
<text transform="translate(400.89,168.50) rotate(-90)" font-family="Liberation Sans" font-weight="bold" font-size="5.8" text-anchor="start" fill="#1f78c8" stroke="#1f78c8" stroke-width="0.22">+0.32</text>
<line x1="409.77" y1="160.30" x2="409.77" y2="175.60" stroke="#444" stroke-width="0.9"/>
<line x1="407.97" y1="160.30" x2="411.57" y2="160.30" stroke="#444" stroke-width="0.9"/>
<line x1="407.97" y1="175.60" x2="411.57" y2="175.60" stroke="#444" stroke-width="0.9"/>
<path d="M409.77,164.20 C409.92,165.64 411.57,167.32 412.77,169.00 L409.77,171.80 L406.77,169.00 C407.97,167.32 409.62,165.64 409.77,164.20 Z" fill="#2f8f3a" stroke="#1d5a24" stroke-width="0.4"/>
<rect x="408.87" y="166.60" width="1.8" height="1.8" fill="#000"/>
<text transform="translate(411.77,159.30) rotate(-90)" font-family="Liberation Sans" font-weight="bold" font-size="5.8" text-anchor="start" fill="#1f78c8" stroke="#1f78c8" stroke-width="0.22">+0.83</text>
<line x1="420.65" y1="145.40" x2="420.65" y2="174.60" stroke="#444" stroke-width="0.9"/>
<line x1="418.85" y1="145.40" x2="422.45" y2="145.40" stroke="#444" stroke-width="0.9"/>
<line x1="418.85" y1="174.60" x2="422.45" y2="174.60" stroke="#444" stroke-width="0.9"/>
<path d="M420.65,153.50 C420.80,156.59 422.51,160.20 423.75,163.80 L420.65,167.50 L417.55,163.80 C418.79,160.20 420.50,156.59 420.65,153.50 Z" fill="#f4a3a6" stroke="#b06a70" stroke-width="0.4"/>
<line x1="417.55" y1="163.80" x2="423.75" y2="163.80" stroke="#333" stroke-width="0.6"/>
<rect x="419.75" y="159.40" width="1.8" height="1.8" fill="#000"/>
<text transform="translate(422.65,144.40) rotate(-90)" font-family="Liberation Sans" font-weight="bold" font-size="5.8" text-anchor="start" fill="#1f78c8" stroke="#1f78c8" stroke-width="0.22">+1.57</text>
<line x1="431.53" y1="132.00" x2="431.53" y2="174.00" stroke="#444" stroke-width="0.9"/>
<line x1="429.73" y1="132.00" x2="433.33" y2="132.00" stroke="#444" stroke-width="0.9"/>
<line x1="429.73" y1="174.00" x2="433.33" y2="174.00" stroke="#444" stroke-width="0.9"/>
<path d="M431.53,143.00 C431.69,147.89 433.51,153.59 434.83,159.30 L431.53,165.40 L428.23,159.30 C429.55,153.59 431.36,147.89 431.53,143.00 Z" fill="#e3161f" stroke="#8a0f14" stroke-width="0.4"/>
<line x1="428.23" y1="159.30" x2="434.83" y2="159.30" stroke="#333" stroke-width="0.6"/>
<rect x="430.63" y="152.30" width="1.8" height="1.8" fill="#000"/>
<text transform="translate(433.53,131.00) rotate(-90)" font-family="Liberation Sans" font-weight="bold" font-size="5.8" text-anchor="start" fill="#1f78c8" stroke="#1f78c8" stroke-width="0.22">+2.23</text>
<line x1="442.41" y1="143.30" x2="442.41" y2="171.20" stroke="#444" stroke-width="0.9"/>
<line x1="440.61" y1="143.30" x2="444.21" y2="143.30" stroke="#444" stroke-width="0.9"/>
<line x1="440.61" y1="171.20" x2="444.21" y2="171.20" stroke="#444" stroke-width="0.9"/>
<path d="M442.41,151.00 C442.56,153.49 444.21,156.40 445.41,159.30 L442.41,164.40 L439.41,159.30 C440.61,156.40 442.26,153.49 442.41,151.00 Z" fill="#f7c98b" stroke="#b08040" stroke-width="0.4"/>
<line x1="439.41" y1="159.30" x2="445.41" y2="159.30" stroke="#333" stroke-width="0.6"/>
<rect x="441.51" y="155.90" width="1.8" height="1.8" fill="#000"/>
<text transform="translate(444.41,142.30) rotate(-90)" font-family="Liberation Sans" font-weight="bold" font-size="5.8" text-anchor="start" fill="#1f78c8" stroke="#1f78c8" stroke-width="0.22">+1.85</text>
<line x1="453.28" y1="109.20" x2="453.28" y2="166.00" stroke="#444" stroke-width="0.9"/>
<line x1="451.48" y1="109.20" x2="455.08" y2="109.20" stroke="#444" stroke-width="0.9"/>
<line x1="451.48" y1="166.00" x2="455.08" y2="166.00" stroke="#444" stroke-width="0.9"/>
<path d="M453.28,126.00 C453.45,131.10 455.26,137.05 456.58,143.00 L453.28,152.00 L449.98,143.00 C451.30,137.05 453.12,131.10 453.28,126.00 Z" fill="#f2871c" stroke="#9a5210" stroke-width="0.4"/>
<line x1="449.98" y1="143.00" x2="456.58" y2="143.00" stroke="#333" stroke-width="0.6"/>
<rect x="452.38" y="136.50" width="1.8" height="1.8" fill="#000"/>
<text transform="translate(455.28,108.20) rotate(-90)" font-family="Liberation Sans" font-weight="bold" font-size="5.8" text-anchor="start" fill="#1f78c8" stroke="#1f78c8" stroke-width="0.22">+3.73</text>
<line x1="464.16" y1="74.50" x2="464.16" y2="161.00" stroke="#444" stroke-width="0.9"/>
<line x1="462.36" y1="74.50" x2="465.96" y2="74.50" stroke="#444" stroke-width="0.9"/>
<line x1="462.36" y1="161.00" x2="465.96" y2="161.00" stroke="#444" stroke-width="0.9"/>
<path d="M464.16,98.00 C464.33,106.46 466.20,116.33 467.56,126.20 L464.16,140.00 L460.76,126.20 C462.12,116.33 463.99,106.46 464.16,98.00 Z" fill="#cdb4da" stroke="#8a7aa0" stroke-width="0.4"/>
<line x1="460.76" y1="126.20" x2="467.56" y2="126.20" stroke="#333" stroke-width="0.6"/>
<rect x="463.26" y="116.90" width="1.8" height="1.8" fill="#000"/>
<text transform="translate(466.16,73.50) rotate(-90)" font-family="Liberation Sans" font-weight="bold" font-size="5.8" text-anchor="start" fill="#1f78c8" stroke="#1f78c8" stroke-width="0.22">+5.62</text>
<rect x="538.70" y="29.40" width="96.70" height="168.20" fill="#fff"/>
<rect x="538.70" y="7.2" width="96.70" height="22.20" fill="#fdfdfd" stroke="#4a5b6b" stroke-width="0.9"/>
<text x="587.05" y="22.4" font-family="Liberation Sans" font-weight="bold" font-size="10.8" text-anchor="middle" fill="#111" stroke="#111" stroke-width="0.22">Income H</text>
<text x="514.2" y="10.4" font-family="Liberation Sans" font-weight="bold" font-size="13.6" fill="#111" stroke="#111" stroke-width="0.22">d</text>
<line x1="570.93" y1="30.4" x2="570.93" y2="197.6" stroke="#e02828" stroke-width="0.9" stroke-dasharray="1,0.7"/>
<line x1="603.17" y1="30.4" x2="603.17" y2="197.6" stroke="#e02828" stroke-width="0.9" stroke-dasharray="1,0.7"/>
<line x1="635.40" y1="29.4" x2="635.40" y2="198.1" stroke="#8a8a8a" stroke-width="1.1"/>
<line x1="538.20" y1="197.9" x2="635.90" y2="197.9" stroke="#9a9a9a" stroke-width="1.7"/>
<line x1="538.70" y1="29.4" x2="538.70" y2="198.1" stroke="#7a7a7a" stroke-width="1.0"/>
<line x1="538.70" y1="29.4" x2="635.40" y2="29.4" stroke="#3d4f5f" stroke-width="1.1"/>
<line x1="535.20" y1="197.60" x2="538.70" y2="197.60" stroke="#222" stroke-width="0.8"/>
<text x="532.50" y="200.50" font-family="Liberation Sans" font-weight="bold" font-size="6.4" text-anchor="end" fill="#111" stroke="#111" stroke-width="0.22">−2</text>
<line x1="535.20" y1="176.57" x2="538.70" y2="176.57" stroke="#222" stroke-width="0.8"/>
<text x="532.50" y="179.47" font-family="Liberation Sans" font-weight="bold" font-size="6.4" text-anchor="end" fill="#111" stroke="#111" stroke-width="0.22">0</text>
<line x1="535.20" y1="155.55" x2="538.70" y2="155.55" stroke="#222" stroke-width="0.8"/>
<text x="532.50" y="158.45" font-family="Liberation Sans" font-weight="bold" font-size="6.4" text-anchor="end" fill="#111" stroke="#111" stroke-width="0.22">2</text>
<line x1="535.20" y1="134.53" x2="538.70" y2="134.53" stroke="#222" stroke-width="0.8"/>
<text x="532.50" y="137.43" font-family="Liberation Sans" font-weight="bold" font-size="6.4" text-anchor="end" fill="#111" stroke="#111" stroke-width="0.22">4</text>
<line x1="535.20" y1="113.50" x2="538.70" y2="113.50" stroke="#222" stroke-width="0.8"/>
<text x="532.50" y="116.40" font-family="Liberation Sans" font-weight="bold" font-size="6.4" text-anchor="end" fill="#111" stroke="#111" stroke-width="0.22">6</text>
<line x1="535.20" y1="92.47" x2="538.70" y2="92.47" stroke="#222" stroke-width="0.8"/>
<text x="532.50" y="95.38" font-family="Liberation Sans" font-weight="bold" font-size="6.4" text-anchor="end" fill="#111" stroke="#111" stroke-width="0.22">8</text>
<line x1="535.20" y1="71.45" x2="538.70" y2="71.45" stroke="#222" stroke-width="0.8"/>
<text x="532.50" y="74.35" font-family="Liberation Sans" font-weight="bold" font-size="6.4" text-anchor="end" fill="#111" stroke="#111" stroke-width="0.22">10</text>
<line x1="535.20" y1="50.43" x2="538.70" y2="50.43" stroke="#222" stroke-width="0.8"/>
<text x="532.50" y="53.33" font-family="Liberation Sans" font-weight="bold" font-size="6.4" text-anchor="end" fill="#111" stroke="#111" stroke-width="0.22">12</text>
<line x1="535.20" y1="29.40" x2="538.70" y2="29.40" stroke="#222" stroke-width="0.8"/>
<text x="532.50" y="32.30" font-family="Liberation Sans" font-weight="bold" font-size="6.4" text-anchor="end" fill="#111" stroke="#111" stroke-width="0.22">14</text>
<text transform="translate(522.10,113.5) rotate(-90)" font-family="Liberation Sans" font-weight="bold" font-size="8.5" text-anchor="middle" fill="#111" stroke="#111" stroke-width="0.22">EFPs Index Change</text>
<line x1="544.07" y1="197.6" x2="544.07" y2="200.6" stroke="#555" stroke-width="0.7"/>
<text transform="translate(546.67,209.40) rotate(-30)" font-family="Liberation Sans" font-weight="bold" font-size="6.1" text-anchor="end" fill="#111" stroke="#111" stroke-width="0.22">ST1</text>
<line x1="554.82" y1="197.6" x2="554.82" y2="200.6" stroke="#555" stroke-width="0.7"/>
<text transform="translate(557.42,209.40) rotate(-30)" font-family="Liberation Sans" font-weight="bold" font-size="6.1" text-anchor="end" fill="#111" stroke="#111" stroke-width="0.22">ST2</text>
<line x1="565.56" y1="197.6" x2="565.56" y2="200.6" stroke="#555" stroke-width="0.7"/>
<text transform="translate(568.16,209.40) rotate(-30)" font-family="Liberation Sans" font-weight="bold" font-size="6.1" text-anchor="end" fill="#111" stroke="#111" stroke-width="0.22">ST3</text>
<line x1="576.31" y1="197.6" x2="576.31" y2="200.6" stroke="#555" stroke-width="0.7"/>
<text transform="translate(578.91,209.40) rotate(-30)" font-family="Liberation Sans" font-weight="bold" font-size="6.1" text-anchor="end" fill="#111" stroke="#111" stroke-width="0.22">SC1</text>
<line x1="587.05" y1="197.6" x2="587.05" y2="200.6" stroke="#555" stroke-width="0.7"/>
<text transform="translate(589.65,209.40) rotate(-30)" font-family="Liberation Sans" font-weight="bold" font-size="6.1" text-anchor="end" fill="#111" stroke="#111" stroke-width="0.22">SC2</text>
<line x1="597.79" y1="197.6" x2="597.79" y2="200.6" stroke="#555" stroke-width="0.7"/>
<text transform="translate(600.39,209.40) rotate(-30)" font-family="Liberation Sans" font-weight="bold" font-size="6.1" text-anchor="end" fill="#111" stroke="#111" stroke-width="0.22">SC3</text>
<line x1="608.54" y1="197.6" x2="608.54" y2="200.6" stroke="#555" stroke-width="0.7"/>
<text transform="translate(611.14,209.40) rotate(-30)" font-family="Liberation Sans" font-weight="bold" font-size="6.1" text-anchor="end" fill="#111" stroke="#111" stroke-width="0.22">SP1</text>
<line x1="619.28" y1="197.6" x2="619.28" y2="200.6" stroke="#555" stroke-width="0.7"/>
<text transform="translate(621.88,209.40) rotate(-30)" font-family="Liberation Sans" font-weight="bold" font-size="6.1" text-anchor="end" fill="#111" stroke="#111" stroke-width="0.22">SP2</text>
<line x1="630.03" y1="197.6" x2="630.03" y2="200.6" stroke="#555" stroke-width="0.7"/>
<text transform="translate(632.63,209.40) rotate(-30)" font-family="Liberation Sans" font-weight="bold" font-size="6.1" text-anchor="end" fill="#111" stroke="#111" stroke-width="0.22">SP3</text>
<line x1="544.07" y1="174.00" x2="544.07" y2="179.30" stroke="#444" stroke-width="0.9"/>
<line x1="542.27" y1="174.00" x2="545.87" y2="174.00" stroke="#444" stroke-width="0.9"/>
<line x1="542.27" y1="179.30" x2="545.87" y2="179.30" stroke="#444" stroke-width="0.9"/>
<path d="M544.07,175.40 C544.19,175.88 545.51,176.44 546.47,177.00 L544.07,178.60 L541.67,177.00 C542.63,176.44 543.95,175.88 544.07,175.40 Z" fill="#9a9a9a" stroke="#555" stroke-width="0.4"/>
<rect x="543.17" y="176.10" width="1.8" height="1.8" fill="#000"/>
<text transform="translate(546.07,173.00) rotate(-90)" font-family="Liberation Sans" font-weight="bold" font-size="5.8" text-anchor="start" fill="#d42a2a" stroke="#d42a2a" stroke-width="0.22">-0.01</text>
<line x1="554.82" y1="171.20" x2="554.82" y2="182.40" stroke="#444" stroke-width="0.9"/>
<line x1="553.02" y1="171.20" x2="556.62" y2="171.20" stroke="#444" stroke-width="0.9"/>
<line x1="553.02" y1="182.40" x2="556.62" y2="182.40" stroke="#444" stroke-width="0.9"/>
<path d="M554.82,175.40 C554.94,175.88 556.32,176.44 557.32,177.00 L554.82,178.60 L552.32,177.00 C553.32,176.44 554.69,175.88 554.82,175.40 Z" fill="#2b4f86" stroke="#1a2a4a" stroke-width="0.4"/>
<rect x="553.92" y="176.10" width="1.8" height="1.8" fill="#000"/>
<text transform="translate(556.82,170.20) rotate(-90)" font-family="Liberation Sans" font-weight="bold" font-size="5.8" text-anchor="start" fill="#d42a2a" stroke="#d42a2a" stroke-width="0.22">-0.01</text>
<line x1="565.56" y1="169.00" x2="565.56" y2="184.20" stroke="#444" stroke-width="0.9"/>
<line x1="563.76" y1="169.00" x2="567.36" y2="169.00" stroke="#444" stroke-width="0.9"/>
<line x1="563.76" y1="184.20" x2="567.36" y2="184.20" stroke="#444" stroke-width="0.9"/>
<path d="M565.56,175.00 C565.69,175.60 567.12,176.30 568.16,177.00 L565.56,178.80 L562.96,177.00 C564.00,176.30 565.43,175.60 565.56,175.00 Z" fill="#c9d78e" stroke="#556b2f" stroke-width="0.4"/>
<rect x="564.66" y="176.10" width="1.8" height="1.8" fill="#000"/>
<text transform="translate(567.56,168.00) rotate(-90)" font-family="Liberation Sans" font-weight="bold" font-size="5.8" text-anchor="start" fill="#1f78c8" stroke="#1f78c8" stroke-width="0.22">+0.01</text>
<line x1="576.31" y1="163.00" x2="576.31" y2="176.70" stroke="#444" stroke-width="0.9"/>
<line x1="574.51" y1="163.00" x2="578.11" y2="163.00" stroke="#444" stroke-width="0.9"/>
<line x1="574.51" y1="176.70" x2="578.11" y2="176.70" stroke="#444" stroke-width="0.9"/>
<path d="M576.31,167.50 C576.45,168.55 578.05,169.78 579.21,171.00 L576.31,174.00 L573.41,171.00 C574.57,169.78 576.16,168.55 576.31,167.50 Z" fill="#2f8f3a" stroke="#1d5a24" stroke-width="0.4"/>
<rect x="575.41" y="169.60" width="1.8" height="1.8" fill="#000"/>
<text transform="translate(578.31,162.00) rotate(-90)" font-family="Liberation Sans" font-weight="bold" font-size="5.8" text-anchor="start" fill="#1f78c8" stroke="#1f78c8" stroke-width="0.22">+0.62</text>
<line x1="587.05" y1="152.00" x2="587.05" y2="176.70" stroke="#444" stroke-width="0.9"/>
<line x1="585.25" y1="152.00" x2="588.85" y2="152.00" stroke="#444" stroke-width="0.9"/>
<line x1="585.25" y1="176.70" x2="588.85" y2="176.70" stroke="#444" stroke-width="0.9"/>
<path d="M587.05,161.30 C587.19,162.71 588.79,164.36 589.95,166.00 L587.05,169.50 L584.15,166.00 C585.31,164.36 586.90,162.71 587.05,161.30 Z" fill="#f4a3a6" stroke="#b06a70" stroke-width="0.4"/>
<rect x="586.15" y="163.50" width="1.8" height="1.8" fill="#000"/>
<text transform="translate(589.05,151.00) rotate(-90)" font-family="Liberation Sans" font-weight="bold" font-size="5.8" text-anchor="start" fill="#1f78c8" stroke="#1f78c8" stroke-width="0.22">+1.18</text>
<line x1="597.79" y1="142.00" x2="597.79" y2="176.30" stroke="#444" stroke-width="0.9"/>
<line x1="595.99" y1="142.00" x2="599.59" y2="142.00" stroke="#444" stroke-width="0.9"/>
<line x1="595.99" y1="176.30" x2="599.59" y2="176.30" stroke="#444" stroke-width="0.9"/>
<path d="M597.79,153.20 C597.95,155.54 599.65,158.27 600.89,161.00 L597.79,167.00 L594.69,161.00 C595.93,158.27 597.64,155.54 597.79,153.20 Z" fill="#e3161f" stroke="#8a0f14" stroke-width="0.4"/>
<rect x="596.89" y="158.40" width="1.8" height="1.8" fill="#000"/>
<text transform="translate(599.79,141.00) rotate(-90)" font-family="Liberation Sans" font-weight="bold" font-size="5.8" text-anchor="start" fill="#1f78c8" stroke="#1f78c8" stroke-width="0.22">+1.68</text>
<line x1="608.54" y1="150.00" x2="608.54" y2="173.20" stroke="#444" stroke-width="0.9"/>
<line x1="606.74" y1="150.00" x2="610.34" y2="150.00" stroke="#444" stroke-width="0.9"/>
<line x1="606.74" y1="173.20" x2="610.34" y2="173.20" stroke="#444" stroke-width="0.9"/>
<path d="M608.54,157.20 C608.69,158.79 610.34,160.65 611.54,162.50 L608.54,166.40 L605.54,162.50 C606.74,160.65 608.39,158.79 608.54,157.20 Z" fill="#f7c98b" stroke="#b08040" stroke-width="0.4"/>
<rect x="607.64" y="160.40" width="1.8" height="1.8" fill="#000"/>
<text transform="translate(610.54,149.00) rotate(-90)" font-family="Liberation Sans" font-weight="bold" font-size="5.8" text-anchor="start" fill="#1f78c8" stroke="#1f78c8" stroke-width="0.22">+1.44</text>
<line x1="619.28" y1="122.90" x2="619.28" y2="169.00" stroke="#444" stroke-width="0.9"/>
<line x1="617.48" y1="122.90" x2="621.08" y2="122.90" stroke="#444" stroke-width="0.9"/>
<line x1="617.48" y1="169.00" x2="621.08" y2="169.00" stroke="#444" stroke-width="0.9"/>
<path d="M619.28,136.80 C619.44,140.37 621.20,144.53 622.48,148.70 L619.28,156.20 L616.08,148.70 C617.36,144.53 619.12,140.37 619.28,136.80 Z" fill="#f2871c" stroke="#9a5210" stroke-width="0.4"/>
<line x1="616.08" y1="148.70" x2="622.48" y2="148.70" stroke="#333" stroke-width="0.6"/>
<rect x="618.38" y="145.10" width="1.8" height="1.8" fill="#000"/>
<text transform="translate(621.28,121.90) rotate(-90)" font-family="Liberation Sans" font-weight="bold" font-size="5.8" text-anchor="start" fill="#1f78c8" stroke="#1f78c8" stroke-width="0.22">+2.93</text>
<line x1="630.03" y1="95.40" x2="630.03" y2="165.40" stroke="#444" stroke-width="0.9"/>
<line x1="628.23" y1="95.40" x2="631.83" y2="95.40" stroke="#444" stroke-width="0.9"/>
<line x1="628.23" y1="165.40" x2="631.83" y2="165.40" stroke="#444" stroke-width="0.9"/>
<path d="M630.03,116.40 C630.20,121.92 632.13,128.36 633.53,134.80 L630.03,148.00 L626.53,134.80 C627.93,128.36 629.85,121.92 630.03,116.40 Z" fill="#cdb4da" stroke="#8a7aa0" stroke-width="0.4"/>
<line x1="626.53" y1="134.80" x2="633.53" y2="134.80" stroke="#333" stroke-width="0.6"/>
<rect x="629.13" y="129.40" width="1.8" height="1.8" fill="#000"/>
<text transform="translate(632.03,94.40) rotate(-90)" font-family="Liberation Sans" font-weight="bold" font-size="5.8" text-anchor="start" fill="#1f78c8" stroke="#1f78c8" stroke-width="0.22">+4.43</text>
<rect x="36.40" y="251.40" width="11.73" height="10.64" fill="#feeaa0"/>
<rect x="48.08" y="251.40" width="11.73" height="10.64" fill="#fff5b8"/>
<rect x="59.76" y="251.40" width="11.73" height="10.64" fill="#fee08b"/>
<rect x="71.43" y="251.40" width="11.73" height="10.64" fill="#f98e52"/>
<rect x="83.11" y="251.40" width="11.73" height="10.64" fill="#d53e4f"/>
<rect x="94.79" y="251.40" width="11.73" height="10.64" fill="#9e0142"/>
<rect x="106.47" y="251.40" width="11.73" height="10.64" fill="#f98e52"/>
<rect x="118.14" y="251.40" width="11.73" height="10.64" fill="#c01c4a"/>
<rect x="129.82" y="251.40" width="11.73" height="10.64" fill="#3d0018"/>
<rect x="36.40" y="261.99" width="11.73" height="10.64" fill="#fafcc0"/>
<rect x="48.08" y="261.99" width="11.73" height="10.64" fill="#fafcc0"/>
<rect x="59.76" y="261.99" width="11.73" height="10.64" fill="#fafcc0"/>
<rect x="71.43" y="261.99" width="11.73" height="10.64" fill="#fff5b8"/>
<rect x="83.11" y="261.99" width="11.73" height="10.64" fill="#fff5b8"/>
<rect x="94.79" y="261.99" width="11.73" height="10.64" fill="#feeaa0"/>
<rect x="106.47" y="261.99" width="11.73" height="10.64" fill="#feeaa0"/>
<rect x="118.14" y="261.99" width="11.73" height="10.64" fill="#fdae61"/>
<rect x="129.82" y="261.99" width="11.73" height="10.64" fill="#fdae61"/>
<rect x="36.40" y="272.58" width="11.73" height="10.64" fill="#fafcc0"/>
<rect x="48.08" y="272.58" width="11.73" height="10.64" fill="#ddf2b2"/>
<rect x="59.76" y="272.58" width="11.73" height="10.64" fill="#cae9b1"/>
<rect x="71.43" y="272.58" width="11.73" height="10.64" fill="#cae9b1"/>
<rect x="83.11" y="272.58" width="11.73" height="10.64" fill="#96d2ab"/>
<rect x="94.79" y="272.58" width="11.73" height="10.64" fill="#66c2a5"/>
<rect x="106.47" y="272.58" width="11.73" height="10.64" fill="#abdba8"/>
<rect x="118.14" y="272.58" width="11.73" height="10.64" fill="#4aadae"/>
<rect x="129.82" y="272.58" width="11.73" height="10.64" fill="#5e5aab"/>
<rect x="36.40" y="283.17" width="11.73" height="10.64" fill="#ddf2b2"/>
<rect x="48.08" y="283.17" width="11.73" height="10.64" fill="#cae9b1"/>
<rect x="59.76" y="283.17" width="11.73" height="10.64" fill="#b9e2ae"/>
<rect x="71.43" y="283.17" width="11.73" height="10.64" fill="#abdba8"/>
<rect x="83.11" y="283.17" width="11.73" height="10.64" fill="#66c2a5"/>
<rect x="94.79" y="283.17" width="11.73" height="10.64" fill="#3288bd"/>
<rect x="106.47" y="283.17" width="11.73" height="10.64" fill="#96d2ab"/>
<rect x="118.14" y="283.17" width="11.73" height="10.64" fill="#4170bb"/>
<rect x="129.82" y="283.17" width="11.73" height="10.64" fill="#000080"/>
<rect x="36.40" y="293.76" width="11.73" height="10.64" fill="#fafcc0"/>
<rect x="48.08" y="293.76" width="11.73" height="10.64" fill="#fafcc0"/>
<rect x="59.76" y="293.76" width="11.73" height="10.64" fill="#fafcc0"/>
<rect x="71.43" y="293.76" width="11.73" height="10.64" fill="#fafcc0"/>
<rect x="83.11" y="293.76" width="11.73" height="10.64" fill="#ddf2b2"/>
<rect x="94.79" y="293.76" width="11.73" height="10.64" fill="#cae9b1"/>
<rect x="106.47" y="293.76" width="11.73" height="10.64" fill="#96d2ab"/>
<rect x="118.14" y="293.76" width="11.73" height="10.64" fill="#5e5aab"/>
<rect x="129.82" y="293.76" width="11.73" height="10.64" fill="#000080"/>
<rect x="36.40" y="304.35" width="11.73" height="10.64" fill="#fafcc0"/>
<rect x="48.08" y="304.35" width="11.73" height="10.64" fill="#fafcc0"/>
<rect x="59.76" y="304.35" width="11.73" height="10.64" fill="#ddf2b2"/>
<rect x="71.43" y="304.35" width="11.73" height="10.64" fill="#ddf2b2"/>
<rect x="83.11" y="304.35" width="11.73" height="10.64" fill="#b9e2ae"/>
<rect x="94.79" y="304.35" width="11.73" height="10.64" fill="#abdba8"/>
<rect x="106.47" y="304.35" width="11.73" height="10.64" fill="#b9e2ae"/>
<rect x="118.14" y="304.35" width="11.73" height="10.64" fill="#4aadae"/>
<rect x="129.82" y="304.35" width="11.73" height="10.64" fill="#3288bd"/>
<rect x="36.40" y="314.94" width="11.73" height="10.64" fill="#fafcc0"/>
<rect x="48.08" y="314.94" width="11.73" height="10.64" fill="#ddf2b2"/>
<rect x="59.76" y="314.94" width="11.73" height="10.64" fill="#cae9b1"/>
<rect x="71.43" y="314.94" width="11.73" height="10.64" fill="#cae9b1"/>
<rect x="83.11" y="314.94" width="11.73" height="10.64" fill="#96d2ab"/>
<rect x="94.79" y="314.94" width="11.73" height="10.64" fill="#80caa8"/>
<rect x="106.47" y="314.94" width="11.73" height="10.64" fill="#abdba8"/>
<rect x="118.14" y="314.94" width="11.73" height="10.64" fill="#3b9bbb"/>
<rect x="129.82" y="314.94" width="11.73" height="10.64" fill="#5e4fa2"/>
<rect x="36.40" y="325.53" width="11.73" height="10.64" fill="#fafcc0"/>
<rect x="48.08" y="325.53" width="11.73" height="10.64" fill="#ddf2b2"/>
<rect x="59.76" y="325.53" width="11.73" height="10.64" fill="#cae9b1"/>
<rect x="71.43" y="325.53" width="11.73" height="10.64" fill="#b9e2ae"/>
<rect x="83.11" y="325.53" width="11.73" height="10.64" fill="#80caa8"/>
<rect x="94.79" y="325.53" width="11.73" height="10.64" fill="#4aadae"/>
<rect x="106.47" y="325.53" width="11.73" height="10.64" fill="#80caa8"/>
<rect x="118.14" y="325.53" width="11.73" height="10.64" fill="#5e4fa2"/>
<rect x="129.82" y="325.53" width="11.73" height="10.64" fill="#000080"/>
<rect x="36.40" y="336.12" width="11.73" height="10.64" fill="#ddf2b2"/>
<rect x="48.08" y="336.12" width="11.73" height="10.64" fill="#cae9b1"/>
<rect x="59.76" y="336.12" width="11.73" height="10.64" fill="#b9e2ae"/>
<rect x="71.43" y="336.12" width="11.73" height="10.64" fill="#96d2ab"/>
<rect x="83.11" y="336.12" width="11.73" height="10.64" fill="#4aadae"/>
<rect x="94.79" y="336.12" width="11.73" height="10.64" fill="#3288bd"/>
<rect x="106.47" y="336.12" width="11.73" height="10.64" fill="#80caa8"/>
<rect x="118.14" y="336.12" width="11.73" height="10.64" fill="#5e4fa2"/>
<rect x="129.82" y="336.12" width="11.73" height="10.64" fill="#000080"/>
<rect x="36.40" y="346.71" width="11.73" height="10.64" fill="#fafcc0"/>
<rect x="48.08" y="346.71" width="11.73" height="10.64" fill="#fafcc0"/>
<rect x="59.76" y="346.71" width="11.73" height="10.64" fill="#ddf2b2"/>
<rect x="71.43" y="346.71" width="11.73" height="10.64" fill="#ddf2b2"/>
<rect x="83.11" y="346.71" width="11.73" height="10.64" fill="#cae9b1"/>
<rect x="94.79" y="346.71" width="11.73" height="10.64" fill="#abdba8"/>
<rect x="106.47" y="346.71" width="11.73" height="10.64" fill="#cae9b1"/>
<rect x="118.14" y="346.71" width="11.73" height="10.64" fill="#80caa8"/>
<rect x="129.82" y="346.71" width="11.73" height="10.64" fill="#3b9bbb"/>
<rect x="36.40" y="357.30" width="11.73" height="10.64" fill="#fafcc0"/>
<rect x="48.08" y="357.30" width="11.73" height="10.64" fill="#ddf2b2"/>
<rect x="59.76" y="357.30" width="11.73" height="10.64" fill="#ddf2b2"/>
<rect x="71.43" y="357.30" width="11.73" height="10.64" fill="#fafcc0"/>
<rect x="83.11" y="357.30" width="11.73" height="10.64" fill="#fff5b8"/>
<rect x="94.79" y="357.30" width="11.73" height="10.64" fill="#fff5b8"/>
<rect x="106.47" y="357.30" width="11.73" height="10.64" fill="#fdc878"/>
<rect x="118.14" y="357.30" width="11.73" height="10.64" fill="#fdae61"/>
<rect x="129.82" y="357.30" width="11.73" height="10.64" fill="#f98e52"/>
<rect x="36.40" y="367.90" width="11.73" height="10.64" fill="#ddf2b2"/>
<rect x="48.08" y="367.90" width="11.73" height="10.64" fill="#b9e2ae"/>
<rect x="59.76" y="367.90" width="11.73" height="10.64" fill="#96d2ab"/>
<rect x="71.43" y="367.90" width="11.73" height="10.64" fill="#96d2ab"/>
<rect x="83.11" y="367.90" width="11.73" height="10.64" fill="#3b9bbb"/>
<rect x="94.79" y="367.90" width="11.73" height="10.64" fill="#5e5aab"/>
<rect x="106.47" y="367.90" width="11.73" height="10.64" fill="#b9e2ae"/>
<rect x="118.14" y="367.90" width="11.73" height="10.64" fill="#96d2ab"/>
<rect x="129.82" y="367.90" width="11.73" height="10.64" fill="#4aadae"/>
<rect x="36.40" y="378.49" width="11.73" height="10.64" fill="#fafcc0"/>
<rect x="48.08" y="378.49" width="11.73" height="10.64" fill="#ddf2b2"/>
<rect x="59.76" y="378.49" width="11.73" height="10.64" fill="#ddf2b2"/>
<rect x="71.43" y="378.49" width="11.73" height="10.64" fill="#fafcc0"/>
<rect x="83.11" y="378.49" width="11.73" height="10.64" fill="#fafcc0"/>
<rect x="94.79" y="378.49" width="11.73" height="10.64" fill="#ddf2b2"/>
<rect x="106.47" y="378.49" width="11.73" height="10.64" fill="#fdae61"/>
<rect x="118.14" y="378.49" width="11.73" height="10.64" fill="#f46d43"/>
<rect x="129.82" y="378.49" width="11.73" height="10.64" fill="#c01c4a"/>
<rect x="36.40" y="389.08" width="11.73" height="10.64" fill="#ddf2b2"/>
<rect x="48.08" y="389.08" width="11.73" height="10.64" fill="#cae9b1"/>
<rect x="59.76" y="389.08" width="11.73" height="10.64" fill="#abdba8"/>
<rect x="71.43" y="389.08" width="11.73" height="10.64" fill="#b9e2ae"/>
<rect x="83.11" y="389.08" width="11.73" height="10.64" fill="#66c2a5"/>
<rect x="94.79" y="389.08" width="11.73" height="10.64" fill="#3288bd"/>
<rect x="106.47" y="389.08" width="11.73" height="10.64" fill="#4aadae"/>
<rect x="118.14" y="389.08" width="11.73" height="10.64" fill="#000080"/>
<rect x="129.82" y="389.08" width="11.73" height="10.64" fill="#000080"/>
<rect x="36.40" y="399.67" width="11.73" height="10.64" fill="#ddf2b2"/>
<rect x="48.08" y="399.67" width="11.73" height="10.64" fill="#cae9b1"/>
<rect x="59.76" y="399.67" width="11.73" height="10.64" fill="#b9e2ae"/>
<rect x="71.43" y="399.67" width="11.73" height="10.64" fill="#96d2ab"/>
<rect x="83.11" y="399.67" width="11.73" height="10.64" fill="#4aadae"/>
<rect x="94.79" y="399.67" width="11.73" height="10.64" fill="#4170bb"/>
<rect x="106.47" y="399.67" width="11.73" height="10.64" fill="#4aadae"/>
<rect x="118.14" y="399.67" width="11.73" height="10.64" fill="#000080"/>
<rect x="129.82" y="399.67" width="11.73" height="10.64" fill="#000080"/>
<rect x="36.40" y="410.26" width="11.73" height="10.64" fill="#fafcc0"/>
<rect x="48.08" y="410.26" width="11.73" height="10.64" fill="#ddf2b2"/>
<rect x="59.76" y="410.26" width="11.73" height="10.64" fill="#abdba8"/>
<rect x="71.43" y="410.26" width="11.73" height="10.64" fill="#abdba8"/>
<rect x="83.11" y="410.26" width="11.73" height="10.64" fill="#66c2a5"/>
<rect x="94.79" y="410.26" width="11.73" height="10.64" fill="#3b9bbb"/>
<rect x="106.47" y="410.26" width="11.73" height="10.64" fill="#80caa8"/>
<rect x="118.14" y="410.26" width="11.73" height="10.64" fill="#5e4fa2"/>
<rect x="129.82" y="410.26" width="11.73" height="10.64" fill="#000080"/>
<rect x="36.40" y="420.85" width="11.73" height="10.64" fill="#fafcc0"/>
<rect x="48.08" y="420.85" width="11.73" height="10.64" fill="#fafcc0"/>
<rect x="59.76" y="420.85" width="11.73" height="10.64" fill="#fafcc0"/>
<rect x="71.43" y="420.85" width="11.73" height="10.64" fill="#fafcc0"/>
<rect x="83.11" y="420.85" width="11.73" height="10.64" fill="#fafcc0"/>
<rect x="94.79" y="420.85" width="11.73" height="10.64" fill="#fafcc0"/>
<rect x="106.47" y="420.85" width="11.73" height="10.64" fill="#fafcc0"/>
<rect x="118.14" y="420.85" width="11.73" height="10.64" fill="#ddf2b2"/>
<rect x="129.82" y="420.85" width="11.73" height="10.64" fill="#cae9b1"/>
<rect x="36.40" y="431.44" width="11.73" height="10.64" fill="#fafcc0"/>
<rect x="48.08" y="431.44" width="11.73" height="10.64" fill="#fafcc0"/>
<rect x="59.76" y="431.44" width="11.73" height="10.64" fill="#fafcc0"/>
<rect x="71.43" y="431.44" width="11.73" height="10.64" fill="#fafcc0"/>
<rect x="83.11" y="431.44" width="11.73" height="10.64" fill="#fafcc0"/>
<rect x="94.79" y="431.44" width="11.73" height="10.64" fill="#fafcc0"/>
<rect x="106.47" y="431.44" width="11.73" height="10.64" fill="#fff5b8"/>
<rect x="118.14" y="431.44" width="11.73" height="10.64" fill="#fff5b8"/>
<rect x="129.82" y="431.44" width="11.73" height="10.64" fill="#fff5b8"/>
<rect x="36.40" y="442.03" width="11.73" height="10.64" fill="#fafcc0"/>
<rect x="48.08" y="442.03" width="11.73" height="10.64" fill="#fafcc0"/>
<rect x="59.76" y="442.03" width="11.73" height="10.64" fill="#ddf2b2"/>
<rect x="71.43" y="442.03" width="11.73" height="10.64" fill="#fff5b8"/>
<rect x="83.11" y="442.03" width="11.73" height="10.64" fill="#fff5b8"/>
<rect x="94.79" y="442.03" width="11.73" height="10.64" fill="#fff5b8"/>
<rect x="106.47" y="442.03" width="11.73" height="10.64" fill="#fee08b"/>
<rect x="118.14" y="442.03" width="11.73" height="10.64" fill="#fdae61"/>
<rect x="129.82" y="442.03" width="11.73" height="10.64" fill="#f98e52"/>
<rect x="36.40" y="452.62" width="11.73" height="10.64" fill="#fff5b8"/>
<rect x="48.08" y="452.62" width="11.73" height="10.64" fill="#fff5b8"/>
<rect x="59.76" y="452.62" width="11.73" height="10.64" fill="#fff5b8"/>
<rect x="71.43" y="452.62" width="11.73" height="10.64" fill="#fff5b8"/>
<rect x="83.11" y="452.62" width="11.73" height="10.64" fill="#fff5b8"/>
<rect x="94.79" y="452.62" width="11.73" height="10.64" fill="#fff5b8"/>
<rect x="106.47" y="452.62" width="11.73" height="10.64" fill="#fff5b8"/>
<rect x="118.14" y="452.62" width="11.73" height="10.64" fill="#fff5b8"/>
<rect x="129.82" y="452.62" width="11.73" height="10.64" fill="#fee08b"/>
<rect x="36.40" y="463.21" width="11.73" height="10.64" fill="#fafcc0"/>
<rect x="48.08" y="463.21" width="11.73" height="10.64" fill="#fafcc0"/>
<rect x="59.76" y="463.21" width="11.73" height="10.64" fill="#fafcc0"/>
<rect x="71.43" y="463.21" width="11.73" height="10.64" fill="#ddf2b2"/>
<rect x="83.11" y="463.21" width="11.73" height="10.64" fill="#cae9b1"/>
<rect x="94.79" y="463.21" width="11.73" height="10.64" fill="#b9e2ae"/>
<rect x="106.47" y="463.21" width="11.73" height="10.64" fill="#cae9b1"/>
<rect x="118.14" y="463.21" width="11.73" height="10.64" fill="#96d2ab"/>
<rect x="129.82" y="463.21" width="11.73" height="10.64" fill="#66c2a5"/>
<line x1="48.08" y1="251.4" x2="48.08" y2="473.8" stroke="#fff" stroke-opacity="0.3" stroke-width="0.6"/>
<line x1="59.76" y1="251.4" x2="59.76" y2="473.8" stroke="#fff" stroke-opacity="0.3" stroke-width="0.6"/>
<line x1="71.43" y1="251.4" x2="71.43" y2="473.8" stroke="#fff" stroke-opacity="0.3" stroke-width="0.6"/>
<line x1="83.11" y1="251.4" x2="83.11" y2="473.8" stroke="#fff" stroke-opacity="0.3" stroke-width="0.6"/>
<line x1="94.79" y1="251.4" x2="94.79" y2="473.8" stroke="#fff" stroke-opacity="0.3" stroke-width="0.6"/>
<line x1="106.47" y1="251.4" x2="106.47" y2="473.8" stroke="#fff" stroke-opacity="0.3" stroke-width="0.6"/>
<line x1="118.14" y1="251.4" x2="118.14" y2="473.8" stroke="#fff" stroke-opacity="0.3" stroke-width="0.6"/>
<line x1="129.82" y1="251.4" x2="129.82" y2="473.8" stroke="#fff" stroke-opacity="0.3" stroke-width="0.6"/>
<line x1="36.4" y1="261.99" x2="141.5" y2="261.99" stroke="#fff" stroke-opacity="0.3" stroke-width="0.6"/>
<line x1="36.4" y1="272.58" x2="141.5" y2="272.58" stroke="#fff" stroke-opacity="0.3" stroke-width="0.6"/>
<line x1="36.4" y1="283.17" x2="141.5" y2="283.17" stroke="#fff" stroke-opacity="0.3" stroke-width="0.6"/>
<line x1="36.4" y1="293.76" x2="141.5" y2="293.76" stroke="#fff" stroke-opacity="0.3" stroke-width="0.6"/>
<line x1="36.4" y1="304.35" x2="141.5" y2="304.35" stroke="#fff" stroke-opacity="0.3" stroke-width="0.6"/>
<line x1="36.4" y1="314.94" x2="141.5" y2="314.94" stroke="#fff" stroke-opacity="0.3" stroke-width="0.6"/>
<line x1="36.4" y1="325.53" x2="141.5" y2="325.53" stroke="#fff" stroke-opacity="0.3" stroke-width="0.6"/>
<line x1="36.4" y1="336.12" x2="141.5" y2="336.12" stroke="#fff" stroke-opacity="0.3" stroke-width="0.6"/>
<line x1="36.4" y1="346.71" x2="141.5" y2="346.71" stroke="#fff" stroke-opacity="0.3" stroke-width="0.6"/>
<line x1="36.4" y1="357.30" x2="141.5" y2="357.30" stroke="#fff" stroke-opacity="0.3" stroke-width="0.6"/>
<line x1="36.4" y1="367.90" x2="141.5" y2="367.90" stroke="#fff" stroke-opacity="0.3" stroke-width="0.6"/>
<line x1="36.4" y1="378.49" x2="141.5" y2="378.49" stroke="#fff" stroke-opacity="0.3" stroke-width="0.6"/>
<line x1="36.4" y1="389.08" x2="141.5" y2="389.08" stroke="#fff" stroke-opacity="0.3" stroke-width="0.6"/>
<line x1="36.4" y1="399.67" x2="141.5" y2="399.67" stroke="#fff" stroke-opacity="0.3" stroke-width="0.6"/>
<line x1="36.4" y1="410.26" x2="141.5" y2="410.26" stroke="#fff" stroke-opacity="0.3" stroke-width="0.6"/>
<line x1="36.4" y1="420.85" x2="141.5" y2="420.85" stroke="#fff" stroke-opacity="0.3" stroke-width="0.6"/>
<line x1="36.4" y1="431.44" x2="141.5" y2="431.44" stroke="#fff" stroke-opacity="0.3" stroke-width="0.6"/>
<line x1="36.4" y1="442.03" x2="141.5" y2="442.03" stroke="#fff" stroke-opacity="0.3" stroke-width="0.6"/>
<line x1="36.4" y1="452.62" x2="141.5" y2="452.62" stroke="#fff" stroke-opacity="0.3" stroke-width="0.6"/>
<line x1="36.4" y1="463.21" x2="141.5" y2="463.21" stroke="#fff" stroke-opacity="0.3" stroke-width="0.6"/>
<line x1="141.50" y1="251.4" x2="141.50" y2="473.8" stroke="#777" stroke-width="0.9"/>
<line x1="35.9" y1="250.9" x2="35.9" y2="473.8" stroke="#aaa" stroke-width="1"/>
<line x1="34.0" y1="256.70" x2="35.6" y2="256.70" stroke="#444" stroke-width="0.8"/>
<text x="33.70" y="259.10" font-family="Liberation Sans" font-weight="bold" font-size="6.6" text-anchor="end" fill="#1a1a1a" stroke="#1a1a1a" stroke-width="0.22">2.1</text>
<line x1="34.0" y1="267.29" x2="35.6" y2="267.29" stroke="#444" stroke-width="0.8"/>
<text x="33.70" y="269.69" font-family="Liberation Sans" font-weight="bold" font-size="6.6" text-anchor="end" fill="#1a1a1a" stroke="#1a1a1a" stroke-width="0.22">2.3</text>
<line x1="34.0" y1="277.88" x2="35.6" y2="277.88" stroke="#444" stroke-width="0.8"/>
<text x="33.70" y="280.28" font-family="Liberation Sans" font-weight="bold" font-size="6.6" text-anchor="end" fill="#1a1a1a" stroke="#1a1a1a" stroke-width="0.22">3.1</text>
<line x1="34.0" y1="288.47" x2="35.6" y2="288.47" stroke="#444" stroke-width="0.8"/>
<text x="33.70" y="290.87" font-family="Liberation Sans" font-weight="bold" font-size="6.6" text-anchor="end" fill="#1a1a1a" stroke="#1a1a1a" stroke-width="0.22">3.2</text>
<line x1="34.0" y1="299.06" x2="35.6" y2="299.06" stroke="#444" stroke-width="0.8"/>
<text x="33.70" y="301.46" font-family="Liberation Sans" font-weight="bold" font-size="6.6" text-anchor="end" fill="#1a1a1a" stroke="#1a1a1a" stroke-width="0.22">3.3</text>
<line x1="34.0" y1="309.65" x2="35.6" y2="309.65" stroke="#444" stroke-width="0.8"/>
<text x="33.70" y="312.05" font-family="Liberation Sans" font-weight="bold" font-size="6.6" text-anchor="end" fill="#1a1a1a" stroke="#1a1a1a" stroke-width="0.22">3.4</text>
<line x1="34.0" y1="320.24" x2="35.6" y2="320.24" stroke="#444" stroke-width="0.8"/>
<text x="33.70" y="322.64" font-family="Liberation Sans" font-weight="bold" font-size="6.6" text-anchor="end" fill="#1a1a1a" stroke="#1a1a1a" stroke-width="0.22">3.5</text>
<line x1="34.0" y1="330.83" x2="35.6" y2="330.83" stroke="#444" stroke-width="0.8"/>
<text x="33.70" y="333.23" font-family="Liberation Sans" font-weight="bold" font-size="6.6" text-anchor="end" fill="#1a1a1a" stroke="#1a1a1a" stroke-width="0.22">3.6</text>
<line x1="34.0" y1="341.42" x2="35.6" y2="341.42" stroke="#444" stroke-width="0.8"/>
<text x="33.70" y="343.82" font-family="Liberation Sans" font-weight="bold" font-size="6.6" text-anchor="end" fill="#1a1a1a" stroke="#1a1a1a" stroke-width="0.22">3.7</text>
<line x1="34.0" y1="352.01" x2="35.6" y2="352.01" stroke="#444" stroke-width="0.8"/>
<text x="33.70" y="354.41" font-family="Liberation Sans" font-weight="bold" font-size="6.6" text-anchor="end" fill="#1a1a1a" stroke="#1a1a1a" stroke-width="0.22">3.8</text>
<line x1="34.0" y1="362.60" x2="35.6" y2="362.60" stroke="#444" stroke-width="0.8"/>
<text x="33.70" y="365.00" font-family="Liberation Sans" font-weight="bold" font-size="6.6" text-anchor="end" fill="#1a1a1a" stroke="#1a1a1a" stroke-width="0.22">3.9</text>
<line x1="34.0" y1="373.19" x2="35.6" y2="373.19" stroke="#444" stroke-width="0.8"/>
<text x="33.70" y="375.59" font-family="Liberation Sans" font-weight="bold" font-size="6.6" text-anchor="end" fill="#1a1a1a" stroke="#1a1a1a" stroke-width="0.22">4.1</text>
<line x1="34.0" y1="383.78" x2="35.6" y2="383.78" stroke="#444" stroke-width="0.8"/>
<text x="33.70" y="386.18" font-family="Liberation Sans" font-weight="bold" font-size="6.6" text-anchor="end" fill="#1a1a1a" stroke="#1a1a1a" stroke-width="0.22">4.5</text>
<line x1="34.0" y1="394.37" x2="35.6" y2="394.37" stroke="#444" stroke-width="0.8"/>
<text x="33.70" y="396.77" font-family="Liberation Sans" font-weight="bold" font-size="6.6" text-anchor="end" fill="#1a1a1a" stroke="#1a1a1a" stroke-width="0.22">6.1</text>
<line x1="34.0" y1="404.96" x2="35.6" y2="404.96" stroke="#444" stroke-width="0.8"/>
<text x="33.70" y="407.36" font-family="Liberation Sans" font-weight="bold" font-size="6.6" text-anchor="end" fill="#1a1a1a" stroke="#1a1a1a" stroke-width="0.22">6.2</text>
<line x1="34.0" y1="415.55" x2="35.6" y2="415.55" stroke="#444" stroke-width="0.8"/>
<text x="33.70" y="417.95" font-family="Liberation Sans" font-weight="bold" font-size="6.6" text-anchor="end" fill="#1a1a1a" stroke="#1a1a1a" stroke-width="0.22">7.1</text>
<line x1="34.0" y1="426.14" x2="35.6" y2="426.14" stroke="#444" stroke-width="0.8"/>
<text x="33.70" y="428.54" font-family="Liberation Sans" font-weight="bold" font-size="6.6" text-anchor="end" fill="#1a1a1a" stroke="#1a1a1a" stroke-width="0.22">9.4</text>
<line x1="34.0" y1="436.73" x2="35.6" y2="436.73" stroke="#444" stroke-width="0.8"/>
<text x="33.70" y="439.13" font-family="Liberation Sans" font-weight="bold" font-size="6.6" text-anchor="end" fill="#1a1a1a" stroke="#1a1a1a" stroke-width="0.22">9.5</text>
<line x1="34.0" y1="447.32" x2="35.6" y2="447.32" stroke="#444" stroke-width="0.8"/>
<text x="33.70" y="449.72" font-family="Liberation Sans" font-weight="bold" font-size="6.6" text-anchor="end" fill="#1a1a1a" stroke="#1a1a1a" stroke-width="0.22">11.1</text>
<line x1="34.0" y1="457.91" x2="35.6" y2="457.91" stroke="#444" stroke-width="0.8"/>
<text x="33.70" y="460.31" font-family="Liberation Sans" font-weight="bold" font-size="6.6" text-anchor="end" fill="#1a1a1a" stroke="#1a1a1a" stroke-width="0.22">13.2</text>
<line x1="34.0" y1="468.50" x2="35.6" y2="468.50" stroke="#444" stroke-width="0.8"/>
<text x="33.70" y="470.90" font-family="Liberation Sans" font-weight="bold" font-size="6.6" text-anchor="end" fill="#1a1a1a" stroke="#1a1a1a" stroke-width="0.22">17.8</text>
<line x1="42.24" y1="473.8" x2="42.24" y2="475.8" stroke="#777" stroke-width="0.6"/>
<text transform="translate(44.64,482.40) rotate(-30)" font-family="Liberation Sans" font-weight="bold" font-size="6.1" text-anchor="end" fill="#1a1a1a" stroke="#1a1a1a" stroke-width="0.22">ST1</text>
<line x1="53.92" y1="473.8" x2="53.92" y2="475.8" stroke="#777" stroke-width="0.6"/>
<text transform="translate(56.32,482.40) rotate(-30)" font-family="Liberation Sans" font-weight="bold" font-size="6.1" text-anchor="end" fill="#1a1a1a" stroke="#1a1a1a" stroke-width="0.22">ST2</text>
<line x1="65.59" y1="473.8" x2="65.59" y2="475.8" stroke="#777" stroke-width="0.6"/>
<text transform="translate(67.99,482.40) rotate(-30)" font-family="Liberation Sans" font-weight="bold" font-size="6.1" text-anchor="end" fill="#1a1a1a" stroke="#1a1a1a" stroke-width="0.22">ST3</text>
<line x1="77.27" y1="473.8" x2="77.27" y2="475.8" stroke="#777" stroke-width="0.6"/>
<text transform="translate(79.67,482.40) rotate(-30)" font-family="Liberation Sans" font-weight="bold" font-size="6.1" text-anchor="end" fill="#1a1a1a" stroke="#1a1a1a" stroke-width="0.22">SC1</text>
<line x1="88.95" y1="473.8" x2="88.95" y2="475.8" stroke="#777" stroke-width="0.6"/>
<text transform="translate(91.35,482.40) rotate(-30)" font-family="Liberation Sans" font-weight="bold" font-size="6.1" text-anchor="end" fill="#1a1a1a" stroke="#1a1a1a" stroke-width="0.22">SC2</text>
<line x1="100.63" y1="473.8" x2="100.63" y2="475.8" stroke="#777" stroke-width="0.6"/>
<text transform="translate(103.03,482.40) rotate(-30)" font-family="Liberation Sans" font-weight="bold" font-size="6.1" text-anchor="end" fill="#1a1a1a" stroke="#1a1a1a" stroke-width="0.22">SC3</text>
<line x1="112.31" y1="473.8" x2="112.31" y2="475.8" stroke="#777" stroke-width="0.6"/>
<text transform="translate(114.71,482.40) rotate(-30)" font-family="Liberation Sans" font-weight="bold" font-size="6.1" text-anchor="end" fill="#1a1a1a" stroke="#1a1a1a" stroke-width="0.22">SP1</text>
<line x1="123.98" y1="473.8" x2="123.98" y2="475.8" stroke="#777" stroke-width="0.6"/>
<text transform="translate(126.38,482.40) rotate(-30)" font-family="Liberation Sans" font-weight="bold" font-size="6.1" text-anchor="end" fill="#1a1a1a" stroke="#1a1a1a" stroke-width="0.22">SP2</text>
<line x1="135.66" y1="473.8" x2="135.66" y2="475.8" stroke="#777" stroke-width="0.6"/>
<text transform="translate(138.06,482.40) rotate(-30)" font-family="Liberation Sans" font-weight="bold" font-size="6.1" text-anchor="end" fill="#1a1a1a" stroke="#1a1a1a" stroke-width="0.22">SP3</text>
<rect x="205.50" y="251.40" width="11.75" height="10.64" fill="#feeaa0"/>
<rect x="217.20" y="251.40" width="11.75" height="10.64" fill="#fee08b"/>
<rect x="228.90" y="251.40" width="11.75" height="10.64" fill="#fdc878"/>
<rect x="240.60" y="251.40" width="11.75" height="10.64" fill="#f98e52"/>
<rect x="252.30" y="251.40" width="11.75" height="10.64" fill="#e4504a"/>
<rect x="264.00" y="251.40" width="11.75" height="10.64" fill="#c01c4a"/>
<rect x="275.70" y="251.40" width="11.75" height="10.64" fill="#f98e52"/>
<rect x="287.40" y="251.40" width="11.75" height="10.64" fill="#d53e4f"/>
<rect x="299.10" y="251.40" width="11.75" height="10.64" fill="#600020"/>
<rect x="205.50" y="261.99" width="11.75" height="10.64" fill="#fafcc0"/>
<rect x="217.20" y="261.99" width="11.75" height="10.64" fill="#fafcc0"/>
<rect x="228.90" y="261.99" width="11.75" height="10.64" fill="#fafcc0"/>
<rect x="240.60" y="261.99" width="11.75" height="10.64" fill="#fee08b"/>
<rect x="252.30" y="261.99" width="11.75" height="10.64" fill="#fdc878"/>
<rect x="264.00" y="261.99" width="11.75" height="10.64" fill="#f98e52"/>
<rect x="275.70" y="261.99" width="11.75" height="10.64" fill="#fdae61"/>
<rect x="287.40" y="261.99" width="11.75" height="10.64" fill="#f46d43"/>
<rect x="299.10" y="261.99" width="11.75" height="10.64" fill="#e4504a"/>
<rect x="205.50" y="272.58" width="11.75" height="10.64" fill="#fafcc0"/>
<rect x="217.20" y="272.58" width="11.75" height="10.64" fill="#fafcc0"/>
<rect x="228.90" y="272.58" width="11.75" height="10.64" fill="#fafcc0"/>
<rect x="240.60" y="272.58" width="11.75" height="10.64" fill="#fafcc0"/>
<rect x="252.30" y="272.58" width="11.75" height="10.64" fill="#ddf2b2"/>
<rect x="264.00" y="272.58" width="11.75" height="10.64" fill="#cae9b1"/>
<rect x="275.70" y="272.58" width="11.75" height="10.64" fill="#ddf2b2"/>
<rect x="287.40" y="272.58" width="11.75" height="10.64" fill="#cae9b1"/>
<rect x="299.10" y="272.58" width="11.75" height="10.64" fill="#abdba8"/>
<rect x="205.50" y="283.17" width="11.75" height="10.64" fill="#fafcc0"/>
<rect x="217.20" y="283.17" width="11.75" height="10.64" fill="#ddf2b2"/>
<rect x="228.90" y="283.17" width="11.75" height="10.64" fill="#ddf2b2"/>
<rect x="240.60" y="283.17" width="11.75" height="10.64" fill="#ddf2b2"/>
<rect x="252.30" y="283.17" width="11.75" height="10.64" fill="#b9e2ae"/>
<rect x="264.00" y="283.17" width="11.75" height="10.64" fill="#96d2ab"/>
<rect x="275.70" y="283.17" width="11.75" height="10.64" fill="#ddf2b2"/>
<rect x="287.40" y="283.17" width="11.75" height="10.64" fill="#b9e2ae"/>
<rect x="299.10" y="283.17" width="11.75" height="10.64" fill="#96d2ab"/>
<rect x="205.50" y="293.76" width="11.75" height="10.64" fill="#fafcc0"/>
<rect x="217.20" y="293.76" width="11.75" height="10.64" fill="#fafcc0"/>
<rect x="228.90" y="293.76" width="11.75" height="10.64" fill="#fafcc0"/>
<rect x="240.60" y="293.76" width="11.75" height="10.64" fill="#cae9b1"/>
<rect x="252.30" y="293.76" width="11.75" height="10.64" fill="#96d2ab"/>
<rect x="264.00" y="293.76" width="11.75" height="10.64" fill="#66c2a5"/>
<rect x="275.70" y="293.76" width="11.75" height="10.64" fill="#66c2a5"/>
<rect x="287.40" y="293.76" width="11.75" height="10.64" fill="#5e5aab"/>
<rect x="299.10" y="293.76" width="11.75" height="10.64" fill="#000080"/>
<rect x="205.50" y="304.35" width="11.75" height="10.64" fill="#fafcc0"/>
<rect x="217.20" y="304.35" width="11.75" height="10.64" fill="#fafcc0"/>
<rect x="228.90" y="304.35" width="11.75" height="10.64" fill="#fafcc0"/>
<rect x="240.60" y="304.35" width="11.75" height="10.64" fill="#fafcc0"/>
<rect x="252.30" y="304.35" width="11.75" height="10.64" fill="#ddf2b2"/>
<rect x="264.00" y="304.35" width="11.75" height="10.64" fill="#cae9b1"/>
<rect x="275.70" y="304.35" width="11.75" height="10.64" fill="#cae9b1"/>
<rect x="287.40" y="304.35" width="11.75" height="10.64" fill="#96d2ab"/>
<rect x="299.10" y="304.35" width="11.75" height="10.64" fill="#66c2a5"/>
<rect x="205.50" y="314.94" width="11.75" height="10.64" fill="#fafcc0"/>
<rect x="217.20" y="314.94" width="11.75" height="10.64" fill="#fafcc0"/>
<rect x="228.90" y="314.94" width="11.75" height="10.64" fill="#ddf2b2"/>
<rect x="240.60" y="314.94" width="11.75" height="10.64" fill="#ddf2b2"/>
<rect x="252.30" y="314.94" width="11.75" height="10.64" fill="#cae9b1"/>
<rect x="264.00" y="314.94" width="11.75" height="10.64" fill="#cae9b1"/>
<rect x="275.70" y="314.94" width="11.75" height="10.64" fill="#cae9b1"/>
<rect x="287.40" y="314.94" width="11.75" height="10.64" fill="#b9e2ae"/>
<rect x="299.10" y="314.94" width="11.75" height="10.64" fill="#96d2ab"/>
<rect x="205.50" y="325.53" width="11.75" height="10.64" fill="#fafcc0"/>
<rect x="217.20" y="325.53" width="11.75" height="10.64" fill="#ddf2b2"/>
<rect x="228.90" y="325.53" width="11.75" height="10.64" fill="#ddf2b2"/>
<rect x="240.60" y="325.53" width="11.75" height="10.64" fill="#b9e2ae"/>
<rect x="252.30" y="325.53" width="11.75" height="10.64" fill="#96d2ab"/>
<rect x="264.00" y="325.53" width="11.75" height="10.64" fill="#66c2a5"/>
<rect x="275.70" y="325.53" width="11.75" height="10.64" fill="#96d2ab"/>
<rect x="287.40" y="325.53" width="11.75" height="10.64" fill="#3288bd"/>
<rect x="299.10" y="325.53" width="11.75" height="10.64" fill="#282050"/>
<rect x="205.50" y="336.12" width="11.75" height="10.64" fill="#fafcc0"/>
<rect x="217.20" y="336.12" width="11.75" height="10.64" fill="#ddf2b2"/>
<rect x="228.90" y="336.12" width="11.75" height="10.64" fill="#ddf2b2"/>
<rect x="240.60" y="336.12" width="11.75" height="10.64" fill="#cae9b1"/>
<rect x="252.30" y="336.12" width="11.75" height="10.64" fill="#abdba8"/>
<rect x="264.00" y="336.12" width="11.75" height="10.64" fill="#80caa8"/>
<rect x="275.70" y="336.12" width="11.75" height="10.64" fill="#abdba8"/>
<rect x="287.40" y="336.12" width="11.75" height="10.64" fill="#4aadae"/>
<rect x="299.10" y="336.12" width="11.75" height="10.64" fill="#4170bb"/>
<rect x="205.50" y="346.71" width="11.75" height="10.64" fill="#fafcc0"/>
<rect x="217.20" y="346.71" width="11.75" height="10.64" fill="#fafcc0"/>
<rect x="228.90" y="346.71" width="11.75" height="10.64" fill="#fafcc0"/>
<rect x="240.60" y="346.71" width="11.75" height="10.64" fill="#fafcc0"/>
<rect x="252.30" y="346.71" width="11.75" height="10.64" fill="#ddf2b2"/>
<rect x="264.00" y="346.71" width="11.75" height="10.64" fill="#cae9b1"/>
<rect x="275.70" y="346.71" width="11.75" height="10.64" fill="#ddf2b2"/>
<rect x="287.40" y="346.71" width="11.75" height="10.64" fill="#cae9b1"/>
<rect x="299.10" y="346.71" width="11.75" height="10.64" fill="#abdba8"/>
<rect x="205.50" y="357.30" width="11.75" height="10.64" fill="#feeaa0"/>
<rect x="217.20" y="357.30" width="11.75" height="10.64" fill="#feeaa0"/>
<rect x="228.90" y="357.30" width="11.75" height="10.64" fill="#fff5b8"/>
<rect x="240.60" y="357.30" width="11.75" height="10.64" fill="#fdc878"/>
<rect x="252.30" y="357.30" width="11.75" height="10.64" fill="#fdae61"/>
<rect x="264.00" y="357.30" width="11.75" height="10.64" fill="#f98e52"/>
<rect x="275.70" y="357.30" width="11.75" height="10.64" fill="#f98e52"/>
<rect x="287.40" y="357.30" width="11.75" height="10.64" fill="#d53e4f"/>
<rect x="299.10" y="357.30" width="11.75" height="10.64" fill="#600020"/>
<rect x="205.50" y="367.90" width="11.75" height="10.64" fill="#fafcc0"/>
<rect x="217.20" y="367.90" width="11.75" height="10.64" fill="#fafcc0"/>
<rect x="228.90" y="367.90" width="11.75" height="10.64" fill="#ddf2b2"/>
<rect x="240.60" y="367.90" width="11.75" height="10.64" fill="#fff5b8"/>
<rect x="252.30" y="367.90" width="11.75" height="10.64" fill="#fff5b8"/>
<rect x="264.00" y="367.90" width="11.75" height="10.64" fill="#fff5b8"/>
<rect x="275.70" y="367.90" width="11.75" height="10.64" fill="#f98e52"/>
<rect x="287.40" y="367.90" width="11.75" height="10.64" fill="#e4504a"/>
<rect x="299.10" y="367.90" width="11.75" height="10.64" fill="#9e0142"/>
<rect x="205.50" y="378.49" width="11.75" height="10.64" fill="#fafcc0"/>
<rect x="217.20" y="378.49" width="11.75" height="10.64" fill="#fafcc0"/>
<rect x="228.90" y="378.49" width="11.75" height="10.64" fill="#fafcc0"/>
<rect x="240.60" y="378.49" width="11.75" height="10.64" fill="#fdc878"/>
<rect x="252.30" y="378.49" width="11.75" height="10.64" fill="#fdae61"/>
<rect x="264.00" y="378.49" width="11.75" height="10.64" fill="#f46d43"/>
<rect x="275.70" y="378.49" width="11.75" height="10.64" fill="#f46d43"/>
<rect x="287.40" y="378.49" width="11.75" height="10.64" fill="#9e0142"/>
<rect x="299.10" y="378.49" width="11.75" height="10.64" fill="#3d0018"/>
<rect x="205.50" y="389.08" width="11.75" height="10.64" fill="#fafcc0"/>
<rect x="217.20" y="389.08" width="11.75" height="10.64" fill="#ddf2b2"/>
<rect x="228.90" y="389.08" width="11.75" height="10.64" fill="#ddf2b2"/>
<rect x="240.60" y="389.08" width="11.75" height="10.64" fill="#cae9b1"/>
<rect x="252.30" y="389.08" width="11.75" height="10.64" fill="#b9e2ae"/>
<rect x="264.00" y="389.08" width="11.75" height="10.64" fill="#96d2ab"/>
<rect x="275.70" y="389.08" width="11.75" height="10.64" fill="#96d2ab"/>
<rect x="287.40" y="389.08" width="11.75" height="10.64" fill="#3b9bbb"/>
<rect x="299.10" y="389.08" width="11.75" height="10.64" fill="#5e5aab"/>
<rect x="205.50" y="399.67" width="11.75" height="10.64" fill="#fafcc0"/>
<rect x="217.20" y="399.67" width="11.75" height="10.64" fill="#ddf2b2"/>
<rect x="228.90" y="399.67" width="11.75" height="10.64" fill="#ddf2b2"/>
<rect x="240.60" y="399.67" width="11.75" height="10.64" fill="#b9e2ae"/>
<rect x="252.30" y="399.67" width="11.75" height="10.64" fill="#80caa8"/>
<rect x="264.00" y="399.67" width="11.75" height="10.64" fill="#66c2a5"/>
<rect x="275.70" y="399.67" width="11.75" height="10.64" fill="#80caa8"/>
<rect x="287.40" y="399.67" width="11.75" height="10.64" fill="#4170bb"/>
<rect x="299.10" y="399.67" width="11.75" height="10.64" fill="#282050"/>
<rect x="205.50" y="410.26" width="11.75" height="10.64" fill="#fafcc0"/>
<rect x="217.20" y="410.26" width="11.75" height="10.64" fill="#ddf2b2"/>
<rect x="228.90" y="410.26" width="11.75" height="10.64" fill="#cae9b1"/>
<rect x="240.60" y="410.26" width="11.75" height="10.64" fill="#b9e2ae"/>
<rect x="252.30" y="410.26" width="11.75" height="10.64" fill="#96d2ab"/>
<rect x="264.00" y="410.26" width="11.75" height="10.64" fill="#66c2a5"/>
<rect x="275.70" y="410.26" width="11.75" height="10.64" fill="#abdba8"/>
<rect x="287.40" y="410.26" width="11.75" height="10.64" fill="#4aadae"/>
<rect x="299.10" y="410.26" width="11.75" height="10.64" fill="#5e5aab"/>
<rect x="205.50" y="420.85" width="11.75" height="10.64" fill="#fff5b8"/>
<rect x="217.20" y="420.85" width="11.75" height="10.64" fill="#fff5b8"/>
<rect x="228.90" y="420.85" width="11.75" height="10.64" fill="#fff5b8"/>
<rect x="240.60" y="420.85" width="11.75" height="10.64" fill="#fff5b8"/>
<rect x="252.30" y="420.85" width="11.75" height="10.64" fill="#fff5b8"/>
<rect x="264.00" y="420.85" width="11.75" height="10.64" fill="#fff5b8"/>
<rect x="275.70" y="420.85" width="11.75" height="10.64" fill="#fff5b8"/>
<rect x="287.40" y="420.85" width="11.75" height="10.64" fill="#fff5b8"/>
<rect x="299.10" y="420.85" width="11.75" height="10.64" fill="#fff5b8"/>
<rect x="205.50" y="431.44" width="11.75" height="10.64" fill="#fafcc0"/>
<rect x="217.20" y="431.44" width="11.75" height="10.64" fill="#fafcc0"/>
<rect x="228.90" y="431.44" width="11.75" height="10.64" fill="#fafcc0"/>
<rect x="240.60" y="431.44" width="11.75" height="10.64" fill="#fff5b8"/>
<rect x="252.30" y="431.44" width="11.75" height="10.64" fill="#fff5b8"/>
<rect x="264.00" y="431.44" width="11.75" height="10.64" fill="#fff5b8"/>
<rect x="275.70" y="431.44" width="11.75" height="10.64" fill="#fff5b8"/>
<rect x="287.40" y="431.44" width="11.75" height="10.64" fill="#fff5b8"/>
<rect x="299.10" y="431.44" width="11.75" height="10.64" fill="#fee08b"/>
<rect x="205.50" y="442.03" width="11.75" height="10.64" fill="#fafcc0"/>
<rect x="217.20" y="442.03" width="11.75" height="10.64" fill="#fafcc0"/>
<rect x="228.90" y="442.03" width="11.75" height="10.64" fill="#fafcc0"/>
<rect x="240.60" y="442.03" width="11.75" height="10.64" fill="#fff5b8"/>
<rect x="252.30" y="442.03" width="11.75" height="10.64" fill="#fdc878"/>
<rect x="264.00" y="442.03" width="11.75" height="10.64" fill="#fdae61"/>
<rect x="275.70" y="442.03" width="11.75" height="10.64" fill="#fdae61"/>
<rect x="287.40" y="442.03" width="11.75" height="10.64" fill="#f46d43"/>
<rect x="299.10" y="442.03" width="11.75" height="10.64" fill="#e4504a"/>
<rect x="205.50" y="452.62" width="11.75" height="10.64" fill="#fff5b8"/>
<rect x="217.20" y="452.62" width="11.75" height="10.64" fill="#fff5b8"/>
<rect x="228.90" y="452.62" width="11.75" height="10.64" fill="#fff5b8"/>
<rect x="240.60" y="452.62" width="11.75" height="10.64" fill="#fff5b8"/>
<rect x="252.30" y="452.62" width="11.75" height="10.64" fill="#fff5b8"/>
<rect x="264.00" y="452.62" width="11.75" height="10.64" fill="#fff5b8"/>
<rect x="275.70" y="452.62" width="11.75" height="10.64" fill="#fff5b8"/>
<rect x="287.40" y="452.62" width="11.75" height="10.64" fill="#fff5b8"/>
<rect x="299.10" y="452.62" width="11.75" height="10.64" fill="#fff5b8"/>
<rect x="205.50" y="463.21" width="11.75" height="10.64" fill="#fafcc0"/>
<rect x="217.20" y="463.21" width="11.75" height="10.64" fill="#fafcc0"/>
<rect x="228.90" y="463.21" width="11.75" height="10.64" fill="#fafcc0"/>
<rect x="240.60" y="463.21" width="11.75" height="10.64" fill="#fafcc0"/>
<rect x="252.30" y="463.21" width="11.75" height="10.64" fill="#ddf2b2"/>
<rect x="264.00" y="463.21" width="11.75" height="10.64" fill="#cae9b1"/>
<rect x="275.70" y="463.21" width="11.75" height="10.64" fill="#ddf2b2"/>
<rect x="287.40" y="463.21" width="11.75" height="10.64" fill="#abdba8"/>
<rect x="299.10" y="463.21" width="11.75" height="10.64" fill="#96d2ab"/>
<line x1="217.20" y1="251.4" x2="217.20" y2="473.8" stroke="#fff" stroke-opacity="0.3" stroke-width="0.6"/>
<line x1="228.90" y1="251.4" x2="228.90" y2="473.8" stroke="#fff" stroke-opacity="0.3" stroke-width="0.6"/>
<line x1="240.60" y1="251.4" x2="240.60" y2="473.8" stroke="#fff" stroke-opacity="0.3" stroke-width="0.6"/>
<line x1="252.30" y1="251.4" x2="252.30" y2="473.8" stroke="#fff" stroke-opacity="0.3" stroke-width="0.6"/>
<line x1="264.00" y1="251.4" x2="264.00" y2="473.8" stroke="#fff" stroke-opacity="0.3" stroke-width="0.6"/>
<line x1="275.70" y1="251.4" x2="275.70" y2="473.8" stroke="#fff" stroke-opacity="0.3" stroke-width="0.6"/>
<line x1="287.40" y1="251.4" x2="287.40" y2="473.8" stroke="#fff" stroke-opacity="0.3" stroke-width="0.6"/>
<line x1="299.10" y1="251.4" x2="299.10" y2="473.8" stroke="#fff" stroke-opacity="0.3" stroke-width="0.6"/>
<line x1="205.5" y1="261.99" x2="310.8" y2="261.99" stroke="#fff" stroke-opacity="0.3" stroke-width="0.6"/>
<line x1="205.5" y1="272.58" x2="310.8" y2="272.58" stroke="#fff" stroke-opacity="0.3" stroke-width="0.6"/>
<line x1="205.5" y1="283.17" x2="310.8" y2="283.17" stroke="#fff" stroke-opacity="0.3" stroke-width="0.6"/>
<line x1="205.5" y1="293.76" x2="310.8" y2="293.76" stroke="#fff" stroke-opacity="0.3" stroke-width="0.6"/>
<line x1="205.5" y1="304.35" x2="310.8" y2="304.35" stroke="#fff" stroke-opacity="0.3" stroke-width="0.6"/>
<line x1="205.5" y1="314.94" x2="310.8" y2="314.94" stroke="#fff" stroke-opacity="0.3" stroke-width="0.6"/>
<line x1="205.5" y1="325.53" x2="310.8" y2="325.53" stroke="#fff" stroke-opacity="0.3" stroke-width="0.6"/>
<line x1="205.5" y1="336.12" x2="310.8" y2="336.12" stroke="#fff" stroke-opacity="0.3" stroke-width="0.6"/>
<line x1="205.5" y1="346.71" x2="310.8" y2="346.71" stroke="#fff" stroke-opacity="0.3" stroke-width="0.6"/>
<line x1="205.5" y1="357.30" x2="310.8" y2="357.30" stroke="#fff" stroke-opacity="0.3" stroke-width="0.6"/>
<line x1="205.5" y1="367.90" x2="310.8" y2="367.90" stroke="#fff" stroke-opacity="0.3" stroke-width="0.6"/>
<line x1="205.5" y1="378.49" x2="310.8" y2="378.49" stroke="#fff" stroke-opacity="0.3" stroke-width="0.6"/>
<line x1="205.5" y1="389.08" x2="310.8" y2="389.08" stroke="#fff" stroke-opacity="0.3" stroke-width="0.6"/>
<line x1="205.5" y1="399.67" x2="310.8" y2="399.67" stroke="#fff" stroke-opacity="0.3" stroke-width="0.6"/>
<line x1="205.5" y1="410.26" x2="310.8" y2="410.26" stroke="#fff" stroke-opacity="0.3" stroke-width="0.6"/>
<line x1="205.5" y1="420.85" x2="310.8" y2="420.85" stroke="#fff" stroke-opacity="0.3" stroke-width="0.6"/>
<line x1="205.5" y1="431.44" x2="310.8" y2="431.44" stroke="#fff" stroke-opacity="0.3" stroke-width="0.6"/>
<line x1="205.5" y1="442.03" x2="310.8" y2="442.03" stroke="#fff" stroke-opacity="0.3" stroke-width="0.6"/>
<line x1="205.5" y1="452.62" x2="310.8" y2="452.62" stroke="#fff" stroke-opacity="0.3" stroke-width="0.6"/>
<line x1="205.5" y1="463.21" x2="310.8" y2="463.21" stroke="#fff" stroke-opacity="0.3" stroke-width="0.6"/>
<line x1="310.80" y1="251.4" x2="310.80" y2="473.8" stroke="#777" stroke-width="0.9"/>
<line x1="205.0" y1="250.9" x2="205.0" y2="473.8" stroke="#aaa" stroke-width="1"/>
<line x1="203.1" y1="256.70" x2="204.7" y2="256.70" stroke="#444" stroke-width="0.8"/>
<text x="202.80" y="259.10" font-family="Liberation Sans" font-weight="bold" font-size="6.6" text-anchor="end" fill="#1a1a1a" stroke="#1a1a1a" stroke-width="0.22">2.1</text>
<line x1="203.1" y1="267.29" x2="204.7" y2="267.29" stroke="#444" stroke-width="0.8"/>
<text x="202.80" y="269.69" font-family="Liberation Sans" font-weight="bold" font-size="6.6" text-anchor="end" fill="#1a1a1a" stroke="#1a1a1a" stroke-width="0.22">2.3</text>
<line x1="203.1" y1="277.88" x2="204.7" y2="277.88" stroke="#444" stroke-width="0.8"/>
<text x="202.80" y="280.28" font-family="Liberation Sans" font-weight="bold" font-size="6.6" text-anchor="end" fill="#1a1a1a" stroke="#1a1a1a" stroke-width="0.22">3.1</text>
<line x1="203.1" y1="288.47" x2="204.7" y2="288.47" stroke="#444" stroke-width="0.8"/>
<text x="202.80" y="290.87" font-family="Liberation Sans" font-weight="bold" font-size="6.6" text-anchor="end" fill="#1a1a1a" stroke="#1a1a1a" stroke-width="0.22">3.2</text>
<line x1="203.1" y1="299.06" x2="204.7" y2="299.06" stroke="#444" stroke-width="0.8"/>
<text x="202.80" y="301.46" font-family="Liberation Sans" font-weight="bold" font-size="6.6" text-anchor="end" fill="#1a1a1a" stroke="#1a1a1a" stroke-width="0.22">3.3</text>
<line x1="203.1" y1="309.65" x2="204.7" y2="309.65" stroke="#444" stroke-width="0.8"/>
<text x="202.80" y="312.05" font-family="Liberation Sans" font-weight="bold" font-size="6.6" text-anchor="end" fill="#1a1a1a" stroke="#1a1a1a" stroke-width="0.22">3.4</text>
<line x1="203.1" y1="320.24" x2="204.7" y2="320.24" stroke="#444" stroke-width="0.8"/>
<text x="202.80" y="322.64" font-family="Liberation Sans" font-weight="bold" font-size="6.6" text-anchor="end" fill="#1a1a1a" stroke="#1a1a1a" stroke-width="0.22">3.5</text>
<line x1="203.1" y1="330.83" x2="204.7" y2="330.83" stroke="#444" stroke-width="0.8"/>
<text x="202.80" y="333.23" font-family="Liberation Sans" font-weight="bold" font-size="6.6" text-anchor="end" fill="#1a1a1a" stroke="#1a1a1a" stroke-width="0.22">3.6</text>
<line x1="203.1" y1="341.42" x2="204.7" y2="341.42" stroke="#444" stroke-width="0.8"/>
<text x="202.80" y="343.82" font-family="Liberation Sans" font-weight="bold" font-size="6.6" text-anchor="end" fill="#1a1a1a" stroke="#1a1a1a" stroke-width="0.22">3.7</text>
<line x1="203.1" y1="352.01" x2="204.7" y2="352.01" stroke="#444" stroke-width="0.8"/>
<text x="202.80" y="354.41" font-family="Liberation Sans" font-weight="bold" font-size="6.6" text-anchor="end" fill="#1a1a1a" stroke="#1a1a1a" stroke-width="0.22">3.8</text>
<line x1="203.1" y1="362.60" x2="204.7" y2="362.60" stroke="#444" stroke-width="0.8"/>
<text x="202.80" y="365.00" font-family="Liberation Sans" font-weight="bold" font-size="6.6" text-anchor="end" fill="#1a1a1a" stroke="#1a1a1a" stroke-width="0.22">3.9</text>
<line x1="203.1" y1="373.19" x2="204.7" y2="373.19" stroke="#444" stroke-width="0.8"/>
<text x="202.80" y="375.59" font-family="Liberation Sans" font-weight="bold" font-size="6.6" text-anchor="end" fill="#1a1a1a" stroke="#1a1a1a" stroke-width="0.22">4.1</text>
<line x1="203.1" y1="383.78" x2="204.7" y2="383.78" stroke="#444" stroke-width="0.8"/>
<text x="202.80" y="386.18" font-family="Liberation Sans" font-weight="bold" font-size="6.6" text-anchor="end" fill="#1a1a1a" stroke="#1a1a1a" stroke-width="0.22">4.5</text>
<line x1="203.1" y1="394.37" x2="204.7" y2="394.37" stroke="#444" stroke-width="0.8"/>
<text x="202.80" y="396.77" font-family="Liberation Sans" font-weight="bold" font-size="6.6" text-anchor="end" fill="#1a1a1a" stroke="#1a1a1a" stroke-width="0.22">6.1</text>
<line x1="203.1" y1="404.96" x2="204.7" y2="404.96" stroke="#444" stroke-width="0.8"/>
<text x="202.80" y="407.36" font-family="Liberation Sans" font-weight="bold" font-size="6.6" text-anchor="end" fill="#1a1a1a" stroke="#1a1a1a" stroke-width="0.22">6.2</text>
<line x1="203.1" y1="415.55" x2="204.7" y2="415.55" stroke="#444" stroke-width="0.8"/>
<text x="202.80" y="417.95" font-family="Liberation Sans" font-weight="bold" font-size="6.6" text-anchor="end" fill="#1a1a1a" stroke="#1a1a1a" stroke-width="0.22">7.1</text>
<line x1="203.1" y1="426.14" x2="204.7" y2="426.14" stroke="#444" stroke-width="0.8"/>
<text x="202.80" y="428.54" font-family="Liberation Sans" font-weight="bold" font-size="6.6" text-anchor="end" fill="#1a1a1a" stroke="#1a1a1a" stroke-width="0.22">9.4</text>
<line x1="203.1" y1="436.73" x2="204.7" y2="436.73" stroke="#444" stroke-width="0.8"/>
<text x="202.80" y="439.13" font-family="Liberation Sans" font-weight="bold" font-size="6.6" text-anchor="end" fill="#1a1a1a" stroke="#1a1a1a" stroke-width="0.22">9.5</text>
<line x1="203.1" y1="447.32" x2="204.7" y2="447.32" stroke="#444" stroke-width="0.8"/>
<text x="202.80" y="449.72" font-family="Liberation Sans" font-weight="bold" font-size="6.6" text-anchor="end" fill="#1a1a1a" stroke="#1a1a1a" stroke-width="0.22">11.1</text>
<line x1="203.1" y1="457.91" x2="204.7" y2="457.91" stroke="#444" stroke-width="0.8"/>
<text x="202.80" y="460.31" font-family="Liberation Sans" font-weight="bold" font-size="6.6" text-anchor="end" fill="#1a1a1a" stroke="#1a1a1a" stroke-width="0.22">13.2</text>
<line x1="203.1" y1="468.50" x2="204.7" y2="468.50" stroke="#444" stroke-width="0.8"/>
<text x="202.80" y="470.90" font-family="Liberation Sans" font-weight="bold" font-size="6.6" text-anchor="end" fill="#1a1a1a" stroke="#1a1a1a" stroke-width="0.22">17.8</text>
<line x1="211.35" y1="473.8" x2="211.35" y2="475.8" stroke="#777" stroke-width="0.6"/>
<text transform="translate(213.75,482.40) rotate(-30)" font-family="Liberation Sans" font-weight="bold" font-size="6.1" text-anchor="end" fill="#1a1a1a" stroke="#1a1a1a" stroke-width="0.22">ST1</text>
<line x1="223.05" y1="473.8" x2="223.05" y2="475.8" stroke="#777" stroke-width="0.6"/>
<text transform="translate(225.45,482.40) rotate(-30)" font-family="Liberation Sans" font-weight="bold" font-size="6.1" text-anchor="end" fill="#1a1a1a" stroke="#1a1a1a" stroke-width="0.22">ST2</text>
<line x1="234.75" y1="473.8" x2="234.75" y2="475.8" stroke="#777" stroke-width="0.6"/>
<text transform="translate(237.15,482.40) rotate(-30)" font-family="Liberation Sans" font-weight="bold" font-size="6.1" text-anchor="end" fill="#1a1a1a" stroke="#1a1a1a" stroke-width="0.22">ST3</text>
<line x1="246.45" y1="473.8" x2="246.45" y2="475.8" stroke="#777" stroke-width="0.6"/>
<text transform="translate(248.85,482.40) rotate(-30)" font-family="Liberation Sans" font-weight="bold" font-size="6.1" text-anchor="end" fill="#1a1a1a" stroke="#1a1a1a" stroke-width="0.22">SC1</text>
<line x1="258.15" y1="473.8" x2="258.15" y2="475.8" stroke="#777" stroke-width="0.6"/>
<text transform="translate(260.55,482.40) rotate(-30)" font-family="Liberation Sans" font-weight="bold" font-size="6.1" text-anchor="end" fill="#1a1a1a" stroke="#1a1a1a" stroke-width="0.22">SC2</text>
<line x1="269.85" y1="473.8" x2="269.85" y2="475.8" stroke="#777" stroke-width="0.6"/>
<text transform="translate(272.25,482.40) rotate(-30)" font-family="Liberation Sans" font-weight="bold" font-size="6.1" text-anchor="end" fill="#1a1a1a" stroke="#1a1a1a" stroke-width="0.22">SC3</text>
<line x1="281.55" y1="473.8" x2="281.55" y2="475.8" stroke="#777" stroke-width="0.6"/>
<text transform="translate(283.95,482.40) rotate(-30)" font-family="Liberation Sans" font-weight="bold" font-size="6.1" text-anchor="end" fill="#1a1a1a" stroke="#1a1a1a" stroke-width="0.22">SP1</text>
<line x1="293.25" y1="473.8" x2="293.25" y2="475.8" stroke="#777" stroke-width="0.6"/>
<text transform="translate(295.65,482.40) rotate(-30)" font-family="Liberation Sans" font-weight="bold" font-size="6.1" text-anchor="end" fill="#1a1a1a" stroke="#1a1a1a" stroke-width="0.22">SP2</text>
<line x1="304.95" y1="473.8" x2="304.95" y2="475.8" stroke="#777" stroke-width="0.6"/>
<text transform="translate(307.35,482.40) rotate(-30)" font-family="Liberation Sans" font-weight="bold" font-size="6.1" text-anchor="end" fill="#1a1a1a" stroke="#1a1a1a" stroke-width="0.22">SP3</text>
<rect x="374.40" y="251.40" width="11.79" height="10.64" fill="#fff5b8"/>
<rect x="386.14" y="251.40" width="11.79" height="10.64" fill="#fee08b"/>
<rect x="397.89" y="251.40" width="11.79" height="10.64" fill="#fdc878"/>
<rect x="409.63" y="251.40" width="11.79" height="10.64" fill="#fdae61"/>
<rect x="421.38" y="251.40" width="11.79" height="10.64" fill="#f98e52"/>
<rect x="433.12" y="251.40" width="11.79" height="10.64" fill="#e4504a"/>
<rect x="444.87" y="251.40" width="11.79" height="10.64" fill="#f46d43"/>
<rect x="456.61" y="251.40" width="11.79" height="10.64" fill="#9e0142"/>
<rect x="468.36" y="251.40" width="11.79" height="10.64" fill="#3d0018"/>
<rect x="374.40" y="261.99" width="11.79" height="10.64" fill="#fff5b8"/>
<rect x="386.14" y="261.99" width="11.79" height="10.64" fill="#fff5b8"/>
<rect x="397.89" y="261.99" width="11.79" height="10.64" fill="#fff5b8"/>
<rect x="409.63" y="261.99" width="11.79" height="10.64" fill="#fee08b"/>
<rect x="421.38" y="261.99" width="11.79" height="10.64" fill="#fdc878"/>
<rect x="433.12" y="261.99" width="11.79" height="10.64" fill="#f98e52"/>
<rect x="444.87" y="261.99" width="11.79" height="10.64" fill="#fff5b8"/>
<rect x="456.61" y="261.99" width="11.79" height="10.64" fill="#fee08b"/>
<rect x="468.36" y="261.99" width="11.79" height="10.64" fill="#fdc878"/>
<rect x="374.40" y="272.58" width="11.79" height="10.64" fill="#fff5b8"/>
<rect x="386.14" y="272.58" width="11.79" height="10.64" fill="#fff5b8"/>
<rect x="397.89" y="272.58" width="11.79" height="10.64" fill="#fff5b8"/>
<rect x="409.63" y="272.58" width="11.79" height="10.64" fill="#fee08b"/>
<rect x="421.38" y="272.58" width="11.79" height="10.64" fill="#fee08b"/>
<rect x="433.12" y="272.58" width="11.79" height="10.64" fill="#fdc878"/>
<rect x="444.87" y="272.58" width="11.79" height="10.64" fill="#fee08b"/>
<rect x="456.61" y="272.58" width="11.79" height="10.64" fill="#fdc878"/>
<rect x="468.36" y="272.58" width="11.79" height="10.64" fill="#fdae61"/>
<rect x="374.40" y="283.17" width="11.79" height="10.64" fill="#feeaa0"/>
<rect x="386.14" y="283.17" width="11.79" height="10.64" fill="#feeaa0"/>
<rect x="397.89" y="283.17" width="11.79" height="10.64" fill="#feeaa0"/>
<rect x="409.63" y="283.17" width="11.79" height="10.64" fill="#fff5b8"/>
<rect x="421.38" y="283.17" width="11.79" height="10.64" fill="#fff5b8"/>
<rect x="433.12" y="283.17" width="11.79" height="10.64" fill="#fff5b8"/>
<rect x="444.87" y="283.17" width="11.79" height="10.64" fill="#fafcc0"/>
<rect x="456.61" y="283.17" width="11.79" height="10.64" fill="#cae9b1"/>
<rect x="468.36" y="283.17" width="11.79" height="10.64" fill="#b9e2ae"/>
<rect x="374.40" y="293.76" width="11.79" height="10.64" fill="#fafcc0"/>
<rect x="386.14" y="293.76" width="11.79" height="10.64" fill="#fafcc0"/>
<rect x="397.89" y="293.76" width="11.79" height="10.64" fill="#fafcc0"/>
<rect x="409.63" y="293.76" width="11.79" height="10.64" fill="#b9e2ae"/>
<rect x="421.38" y="293.76" width="11.79" height="10.64" fill="#96d2ab"/>
<rect x="433.12" y="293.76" width="11.79" height="10.64" fill="#4aadae"/>
<rect x="444.87" y="293.76" width="11.79" height="10.64" fill="#3b9bbb"/>
<rect x="456.61" y="293.76" width="11.79" height="10.64" fill="#282050"/>
<rect x="468.36" y="293.76" width="11.79" height="10.64" fill="#000080"/>
<rect x="374.40" y="304.35" width="11.79" height="10.64" fill="#fafcc0"/>
<rect x="386.14" y="304.35" width="11.79" height="10.64" fill="#ddf2b2"/>
<rect x="397.89" y="304.35" width="11.79" height="10.64" fill="#ddf2b2"/>
<rect x="409.63" y="304.35" width="11.79" height="10.64" fill="#96d2ab"/>
<rect x="421.38" y="304.35" width="11.79" height="10.64" fill="#4aadae"/>
<rect x="433.12" y="304.35" width="11.79" height="10.64" fill="#4170bb"/>
<rect x="444.87" y="304.35" width="11.79" height="10.64" fill="#5e5aab"/>
<rect x="456.61" y="304.35" width="11.79" height="10.64" fill="#000080"/>
<rect x="468.36" y="304.35" width="11.79" height="10.64" fill="#000080"/>
<rect x="374.40" y="314.94" width="11.79" height="10.64" fill="#fafcc0"/>
<rect x="386.14" y="314.94" width="11.79" height="10.64" fill="#fafcc0"/>
<rect x="397.89" y="314.94" width="11.79" height="10.64" fill="#fafcc0"/>
<rect x="409.63" y="314.94" width="11.79" height="10.64" fill="#abdba8"/>
<rect x="421.38" y="314.94" width="11.79" height="10.64" fill="#80caa8"/>
<rect x="433.12" y="314.94" width="11.79" height="10.64" fill="#3b9bbb"/>
<rect x="444.87" y="314.94" width="11.79" height="10.64" fill="#3b9bbb"/>
<rect x="456.61" y="314.94" width="11.79" height="10.64" fill="#000080"/>
<rect x="468.36" y="314.94" width="11.79" height="10.64" fill="#000080"/>
<rect x="374.40" y="325.53" width="11.79" height="10.64" fill="#fafcc0"/>
<rect x="386.14" y="325.53" width="11.79" height="10.64" fill="#fafcc0"/>
<rect x="397.89" y="325.53" width="11.79" height="10.64" fill="#fafcc0"/>
<rect x="409.63" y="325.53" width="11.79" height="10.64" fill="#b9e2ae"/>
<rect x="421.38" y="325.53" width="11.79" height="10.64" fill="#80caa8"/>
<rect x="433.12" y="325.53" width="11.79" height="10.64" fill="#3b9bbb"/>
<rect x="444.87" y="325.53" width="11.79" height="10.64" fill="#4aadae"/>
<rect x="456.61" y="325.53" width="11.79" height="10.64" fill="#3d3580"/>
<rect x="468.36" y="325.53" width="11.79" height="10.64" fill="#000080"/>
<rect x="374.40" y="336.12" width="11.79" height="10.64" fill="#feeaa0"/>
<rect x="386.14" y="336.12" width="11.79" height="10.64" fill="#feeaa0"/>
<rect x="397.89" y="336.12" width="11.79" height="10.64" fill="#fee08b"/>
<rect x="409.63" y="336.12" width="11.79" height="10.64" fill="#fee08b"/>
<rect x="421.38" y="336.12" width="11.79" height="10.64" fill="#fdae61"/>
<rect x="433.12" y="336.12" width="11.79" height="10.64" fill="#f98e52"/>
<rect x="444.87" y="336.12" width="11.79" height="10.64" fill="#fdae61"/>
<rect x="456.61" y="336.12" width="11.79" height="10.64" fill="#f46d43"/>
<rect x="468.36" y="336.12" width="11.79" height="10.64" fill="#e4504a"/>
<rect x="374.40" y="346.71" width="11.79" height="10.64" fill="#fafcc0"/>
<rect x="386.14" y="346.71" width="11.79" height="10.64" fill="#fafcc0"/>
<rect x="397.89" y="346.71" width="11.79" height="10.64" fill="#fafcc0"/>
<rect x="409.63" y="346.71" width="11.79" height="10.64" fill="#ddf2b2"/>
<rect x="421.38" y="346.71" width="11.79" height="10.64" fill="#cae9b1"/>
<rect x="433.12" y="346.71" width="11.79" height="10.64" fill="#b9e2ae"/>
<rect x="444.87" y="346.71" width="11.79" height="10.64" fill="#80caa8"/>
<rect x="456.61" y="346.71" width="11.79" height="10.64" fill="#3288bd"/>
<rect x="468.36" y="346.71" width="11.79" height="10.64" fill="#3d3580"/>
<rect x="374.40" y="357.30" width="11.79" height="10.64" fill="#fafcc0"/>
<rect x="386.14" y="357.30" width="11.79" height="10.64" fill="#fafcc0"/>
<rect x="397.89" y="357.30" width="11.79" height="10.64" fill="#fafcc0"/>
<rect x="409.63" y="357.30" width="11.79" height="10.64" fill="#cae9b1"/>
<rect x="421.38" y="357.30" width="11.79" height="10.64" fill="#abdba8"/>
<rect x="433.12" y="357.30" width="11.79" height="10.64" fill="#80caa8"/>
<rect x="444.87" y="357.30" width="11.79" height="10.64" fill="#4aadae"/>
<rect x="456.61" y="357.30" width="11.79" height="10.64" fill="#5e4fa2"/>
<rect x="468.36" y="357.30" width="11.79" height="10.64" fill="#000080"/>
<rect x="374.40" y="367.90" width="11.79" height="10.64" fill="#feeaa0"/>
<rect x="386.14" y="367.90" width="11.79" height="10.64" fill="#fee08b"/>
<rect x="397.89" y="367.90" width="11.79" height="10.64" fill="#fee08b"/>
<rect x="409.63" y="367.90" width="11.79" height="10.64" fill="#fdae61"/>
<rect x="421.38" y="367.90" width="11.79" height="10.64" fill="#f98e52"/>
<rect x="433.12" y="367.90" width="11.79" height="10.64" fill="#e4504a"/>
<rect x="444.87" y="367.90" width="11.79" height="10.64" fill="#f98e52"/>
<rect x="456.61" y="367.90" width="11.79" height="10.64" fill="#d53e4f"/>
<rect x="468.36" y="367.90" width="11.79" height="10.64" fill="#600020"/>
<rect x="374.40" y="378.49" width="11.79" height="10.64" fill="#fee08b"/>
<rect x="386.14" y="378.49" width="11.79" height="10.64" fill="#fdc878"/>
<rect x="397.89" y="378.49" width="11.79" height="10.64" fill="#fdae61"/>
<rect x="409.63" y="378.49" width="11.79" height="10.64" fill="#f98e52"/>
<rect x="421.38" y="378.49" width="11.79" height="10.64" fill="#d53e4f"/>
<rect x="433.12" y="378.49" width="11.79" height="10.64" fill="#9e0142"/>
<rect x="444.87" y="378.49" width="11.79" height="10.64" fill="#d53e4f"/>
<rect x="456.61" y="378.49" width="11.79" height="10.64" fill="#3d0018"/>
<rect x="468.36" y="378.49" width="11.79" height="10.64" fill="#3d0018"/>
<rect x="374.40" y="389.08" width="11.79" height="10.64" fill="#feeaa0"/>
<rect x="386.14" y="389.08" width="11.79" height="10.64" fill="#fee08b"/>
<rect x="397.89" y="389.08" width="11.79" height="10.64" fill="#fee08b"/>
<rect x="409.63" y="389.08" width="11.79" height="10.64" fill="#fdc878"/>
<rect x="421.38" y="389.08" width="11.79" height="10.64" fill="#fdae61"/>
<rect x="433.12" y="389.08" width="11.79" height="10.64" fill="#f98e52"/>
<rect x="444.87" y="389.08" width="11.79" height="10.64" fill="#fdae61"/>
<rect x="456.61" y="389.08" width="11.79" height="10.64" fill="#e4504a"/>
<rect x="468.36" y="389.08" width="11.79" height="10.64" fill="#9e0142"/>
<rect x="374.40" y="399.67" width="11.79" height="10.64" fill="#fff5b8"/>
<rect x="386.14" y="399.67" width="11.79" height="10.64" fill="#fee08b"/>
<rect x="397.89" y="399.67" width="11.79" height="10.64" fill="#fee08b"/>
<rect x="409.63" y="399.67" width="11.79" height="10.64" fill="#fdc878"/>
<rect x="421.38" y="399.67" width="11.79" height="10.64" fill="#f98e52"/>
<rect x="433.12" y="399.67" width="11.79" height="10.64" fill="#f46d43"/>
<rect x="444.87" y="399.67" width="11.79" height="10.64" fill="#fdae61"/>
<rect x="456.61" y="399.67" width="11.79" height="10.64" fill="#f46d43"/>
<rect x="468.36" y="399.67" width="11.79" height="10.64" fill="#d53e4f"/>
<rect x="374.40" y="410.26" width="11.79" height="10.64" fill="#fafcc0"/>
<rect x="386.14" y="410.26" width="11.79" height="10.64" fill="#fafcc0"/>
<rect x="397.89" y="410.26" width="11.79" height="10.64" fill="#fafcc0"/>
<rect x="409.63" y="410.26" width="11.79" height="10.64" fill="#ddf2b2"/>
<rect x="421.38" y="410.26" width="11.79" height="10.64" fill="#cae9b1"/>
<rect x="433.12" y="410.26" width="11.79" height="10.64" fill="#b9e2ae"/>
<rect x="444.87" y="410.26" width="11.79" height="10.64" fill="#ddf2b2"/>
<rect x="456.61" y="410.26" width="11.79" height="10.64" fill="#cae9b1"/>
<rect x="468.36" y="410.26" width="11.79" height="10.64" fill="#96d2ab"/>
<rect x="374.40" y="420.85" width="11.79" height="10.64" fill="#fafcc0"/>
<rect x="386.14" y="420.85" width="11.79" height="10.64" fill="#ddf2b2"/>
<rect x="397.89" y="420.85" width="11.79" height="10.64" fill="#ddf2b2"/>
<rect x="409.63" y="420.85" width="11.79" height="10.64" fill="#b9e2ae"/>
<rect x="421.38" y="420.85" width="11.79" height="10.64" fill="#66c2a5"/>
<rect x="433.12" y="420.85" width="11.79" height="10.64" fill="#4aadae"/>
<rect x="444.87" y="420.85" width="11.79" height="10.64" fill="#80caa8"/>
<rect x="456.61" y="420.85" width="11.79" height="10.64" fill="#4170bb"/>
<rect x="468.36" y="420.85" width="11.79" height="10.64" fill="#000080"/>
<rect x="374.40" y="431.44" width="11.79" height="10.64" fill="#fff5b8"/>
<rect x="386.14" y="431.44" width="11.79" height="10.64" fill="#fff5b8"/>
<rect x="397.89" y="431.44" width="11.79" height="10.64" fill="#fff5b8"/>
<rect x="409.63" y="431.44" width="11.79" height="10.64" fill="#fee08b"/>
<rect x="421.38" y="431.44" width="11.79" height="10.64" fill="#fdae61"/>
<rect x="433.12" y="431.44" width="11.79" height="10.64" fill="#f98e52"/>
<rect x="444.87" y="431.44" width="11.79" height="10.64" fill="#fdae61"/>
<rect x="456.61" y="431.44" width="11.79" height="10.64" fill="#f46d43"/>
<rect x="468.36" y="431.44" width="11.79" height="10.64" fill="#d53e4f"/>
<rect x="374.40" y="442.03" width="11.79" height="10.64" fill="#fff5b8"/>
<rect x="386.14" y="442.03" width="11.79" height="10.64" fill="#fee08b"/>
<rect x="397.89" y="442.03" width="11.79" height="10.64" fill="#fee08b"/>
<rect x="409.63" y="442.03" width="11.79" height="10.64" fill="#fdae61"/>
<rect x="421.38" y="442.03" width="11.79" height="10.64" fill="#f98e52"/>
<rect x="433.12" y="442.03" width="11.79" height="10.64" fill="#f46d43"/>
<rect x="444.87" y="442.03" width="11.79" height="10.64" fill="#f46d43"/>
<rect x="456.61" y="442.03" width="11.79" height="10.64" fill="#9e0142"/>
<rect x="468.36" y="442.03" width="11.79" height="10.64" fill="#3d0018"/>
<rect x="374.40" y="452.62" width="11.79" height="10.64" fill="#fafcc0"/>
<rect x="386.14" y="452.62" width="11.79" height="10.64" fill="#ddf2b2"/>
<rect x="397.89" y="452.62" width="11.79" height="10.64" fill="#ddf2b2"/>
<rect x="409.63" y="452.62" width="11.79" height="10.64" fill="#b9e2ae"/>
<rect x="421.38" y="452.62" width="11.79" height="10.64" fill="#66c2a5"/>
<rect x="433.12" y="452.62" width="11.79" height="10.64" fill="#3b9bbb"/>
<rect x="444.87" y="452.62" width="11.79" height="10.64" fill="#3b9bbb"/>
<rect x="456.61" y="452.62" width="11.79" height="10.64" fill="#000080"/>
<rect x="468.36" y="452.62" width="11.79" height="10.64" fill="#000080"/>
<rect x="374.40" y="463.21" width="11.79" height="10.64" fill="#fff5b8"/>
<rect x="386.14" y="463.21" width="11.79" height="10.64" fill="#fff5b8"/>
<rect x="397.89" y="463.21" width="11.79" height="10.64" fill="#fff5b8"/>
<rect x="409.63" y="463.21" width="11.79" height="10.64" fill="#fff5b8"/>
<rect x="421.38" y="463.21" width="11.79" height="10.64" fill="#feeaa0"/>
<rect x="433.12" y="463.21" width="11.79" height="10.64" fill="#feeaa0"/>
<rect x="444.87" y="463.21" width="11.79" height="10.64" fill="#fafcc0"/>
<rect x="456.61" y="463.21" width="11.79" height="10.64" fill="#fafcc0"/>
<rect x="468.36" y="463.21" width="11.79" height="10.64" fill="#ddf2b2"/>
<line x1="386.14" y1="251.4" x2="386.14" y2="473.8" stroke="#fff" stroke-opacity="0.3" stroke-width="0.6"/>
<line x1="397.89" y1="251.4" x2="397.89" y2="473.8" stroke="#fff" stroke-opacity="0.3" stroke-width="0.6"/>
<line x1="409.63" y1="251.4" x2="409.63" y2="473.8" stroke="#fff" stroke-opacity="0.3" stroke-width="0.6"/>
<line x1="421.38" y1="251.4" x2="421.38" y2="473.8" stroke="#fff" stroke-opacity="0.3" stroke-width="0.6"/>
<line x1="433.12" y1="251.4" x2="433.12" y2="473.8" stroke="#fff" stroke-opacity="0.3" stroke-width="0.6"/>
<line x1="444.87" y1="251.4" x2="444.87" y2="473.8" stroke="#fff" stroke-opacity="0.3" stroke-width="0.6"/>
<line x1="456.61" y1="251.4" x2="456.61" y2="473.8" stroke="#fff" stroke-opacity="0.3" stroke-width="0.6"/>
<line x1="468.36" y1="251.4" x2="468.36" y2="473.8" stroke="#fff" stroke-opacity="0.3" stroke-width="0.6"/>
<line x1="374.4" y1="261.99" x2="480.1" y2="261.99" stroke="#fff" stroke-opacity="0.3" stroke-width="0.6"/>
<line x1="374.4" y1="272.58" x2="480.1" y2="272.58" stroke="#fff" stroke-opacity="0.3" stroke-width="0.6"/>
<line x1="374.4" y1="283.17" x2="480.1" y2="283.17" stroke="#fff" stroke-opacity="0.3" stroke-width="0.6"/>
<line x1="374.4" y1="293.76" x2="480.1" y2="293.76" stroke="#fff" stroke-opacity="0.3" stroke-width="0.6"/>
<line x1="374.4" y1="304.35" x2="480.1" y2="304.35" stroke="#fff" stroke-opacity="0.3" stroke-width="0.6"/>
<line x1="374.4" y1="314.94" x2="480.1" y2="314.94" stroke="#fff" stroke-opacity="0.3" stroke-width="0.6"/>
<line x1="374.4" y1="325.53" x2="480.1" y2="325.53" stroke="#fff" stroke-opacity="0.3" stroke-width="0.6"/>
<line x1="374.4" y1="336.12" x2="480.1" y2="336.12" stroke="#fff" stroke-opacity="0.3" stroke-width="0.6"/>
<line x1="374.4" y1="346.71" x2="480.1" y2="346.71" stroke="#fff" stroke-opacity="0.3" stroke-width="0.6"/>
<line x1="374.4" y1="357.30" x2="480.1" y2="357.30" stroke="#fff" stroke-opacity="0.3" stroke-width="0.6"/>
<line x1="374.4" y1="367.90" x2="480.1" y2="367.90" stroke="#fff" stroke-opacity="0.3" stroke-width="0.6"/>
<line x1="374.4" y1="378.49" x2="480.1" y2="378.49" stroke="#fff" stroke-opacity="0.3" stroke-width="0.6"/>
<line x1="374.4" y1="389.08" x2="480.1" y2="389.08" stroke="#fff" stroke-opacity="0.3" stroke-width="0.6"/>
<line x1="374.4" y1="399.67" x2="480.1" y2="399.67" stroke="#fff" stroke-opacity="0.3" stroke-width="0.6"/>
<line x1="374.4" y1="410.26" x2="480.1" y2="410.26" stroke="#fff" stroke-opacity="0.3" stroke-width="0.6"/>
<line x1="374.4" y1="420.85" x2="480.1" y2="420.85" stroke="#fff" stroke-opacity="0.3" stroke-width="0.6"/>
<line x1="374.4" y1="431.44" x2="480.1" y2="431.44" stroke="#fff" stroke-opacity="0.3" stroke-width="0.6"/>
<line x1="374.4" y1="442.03" x2="480.1" y2="442.03" stroke="#fff" stroke-opacity="0.3" stroke-width="0.6"/>
<line x1="374.4" y1="452.62" x2="480.1" y2="452.62" stroke="#fff" stroke-opacity="0.3" stroke-width="0.6"/>
<line x1="374.4" y1="463.21" x2="480.1" y2="463.21" stroke="#fff" stroke-opacity="0.3" stroke-width="0.6"/>
<line x1="480.10" y1="251.4" x2="480.10" y2="473.8" stroke="#777" stroke-width="0.9"/>
<line x1="373.9" y1="250.9" x2="373.9" y2="473.8" stroke="#aaa" stroke-width="1"/>
<line x1="372.0" y1="256.70" x2="373.59999999999997" y2="256.70" stroke="#444" stroke-width="0.8"/>
<text x="371.70" y="259.10" font-family="Liberation Sans" font-weight="bold" font-size="6.6" text-anchor="end" fill="#1a1a1a" stroke="#1a1a1a" stroke-width="0.22">2.1</text>
<line x1="372.0" y1="267.29" x2="373.59999999999997" y2="267.29" stroke="#444" stroke-width="0.8"/>
<text x="371.70" y="269.69" font-family="Liberation Sans" font-weight="bold" font-size="6.6" text-anchor="end" fill="#1a1a1a" stroke="#1a1a1a" stroke-width="0.22">2.3</text>
<line x1="372.0" y1="277.88" x2="373.59999999999997" y2="277.88" stroke="#444" stroke-width="0.8"/>
<text x="371.70" y="280.28" font-family="Liberation Sans" font-weight="bold" font-size="6.6" text-anchor="end" fill="#1a1a1a" stroke="#1a1a1a" stroke-width="0.22">3.1</text>
<line x1="372.0" y1="288.47" x2="373.59999999999997" y2="288.47" stroke="#444" stroke-width="0.8"/>
<text x="371.70" y="290.87" font-family="Liberation Sans" font-weight="bold" font-size="6.6" text-anchor="end" fill="#1a1a1a" stroke="#1a1a1a" stroke-width="0.22">3.2</text>
<line x1="372.0" y1="299.06" x2="373.59999999999997" y2="299.06" stroke="#444" stroke-width="0.8"/>
<text x="371.70" y="301.46" font-family="Liberation Sans" font-weight="bold" font-size="6.6" text-anchor="end" fill="#1a1a1a" stroke="#1a1a1a" stroke-width="0.22">3.3</text>
<line x1="372.0" y1="309.65" x2="373.59999999999997" y2="309.65" stroke="#444" stroke-width="0.8"/>
<text x="371.70" y="312.05" font-family="Liberation Sans" font-weight="bold" font-size="6.6" text-anchor="end" fill="#1a1a1a" stroke="#1a1a1a" stroke-width="0.22">3.4</text>
<line x1="372.0" y1="320.24" x2="373.59999999999997" y2="320.24" stroke="#444" stroke-width="0.8"/>
<text x="371.70" y="322.64" font-family="Liberation Sans" font-weight="bold" font-size="6.6" text-anchor="end" fill="#1a1a1a" stroke="#1a1a1a" stroke-width="0.22">3.5</text>
<line x1="372.0" y1="330.83" x2="373.59999999999997" y2="330.83" stroke="#444" stroke-width="0.8"/>
<text x="371.70" y="333.23" font-family="Liberation Sans" font-weight="bold" font-size="6.6" text-anchor="end" fill="#1a1a1a" stroke="#1a1a1a" stroke-width="0.22">3.6</text>
<line x1="372.0" y1="341.42" x2="373.59999999999997" y2="341.42" stroke="#444" stroke-width="0.8"/>
<text x="371.70" y="343.82" font-family="Liberation Sans" font-weight="bold" font-size="6.6" text-anchor="end" fill="#1a1a1a" stroke="#1a1a1a" stroke-width="0.22">3.7</text>
<line x1="372.0" y1="352.01" x2="373.59999999999997" y2="352.01" stroke="#444" stroke-width="0.8"/>
<text x="371.70" y="354.41" font-family="Liberation Sans" font-weight="bold" font-size="6.6" text-anchor="end" fill="#1a1a1a" stroke="#1a1a1a" stroke-width="0.22">3.8</text>
<line x1="372.0" y1="362.60" x2="373.59999999999997" y2="362.60" stroke="#444" stroke-width="0.8"/>
<text x="371.70" y="365.00" font-family="Liberation Sans" font-weight="bold" font-size="6.6" text-anchor="end" fill="#1a1a1a" stroke="#1a1a1a" stroke-width="0.22">3.9</text>
<line x1="372.0" y1="373.19" x2="373.59999999999997" y2="373.19" stroke="#444" stroke-width="0.8"/>
<text x="371.70" y="375.59" font-family="Liberation Sans" font-weight="bold" font-size="6.6" text-anchor="end" fill="#1a1a1a" stroke="#1a1a1a" stroke-width="0.22">4.1</text>
<line x1="372.0" y1="383.78" x2="373.59999999999997" y2="383.78" stroke="#444" stroke-width="0.8"/>
<text x="371.70" y="386.18" font-family="Liberation Sans" font-weight="bold" font-size="6.6" text-anchor="end" fill="#1a1a1a" stroke="#1a1a1a" stroke-width="0.22">4.5</text>
<line x1="372.0" y1="394.37" x2="373.59999999999997" y2="394.37" stroke="#444" stroke-width="0.8"/>
<text x="371.70" y="396.77" font-family="Liberation Sans" font-weight="bold" font-size="6.6" text-anchor="end" fill="#1a1a1a" stroke="#1a1a1a" stroke-width="0.22">6.1</text>
<line x1="372.0" y1="404.96" x2="373.59999999999997" y2="404.96" stroke="#444" stroke-width="0.8"/>
<text x="371.70" y="407.36" font-family="Liberation Sans" font-weight="bold" font-size="6.6" text-anchor="end" fill="#1a1a1a" stroke="#1a1a1a" stroke-width="0.22">6.2</text>
<line x1="372.0" y1="415.55" x2="373.59999999999997" y2="415.55" stroke="#444" stroke-width="0.8"/>
<text x="371.70" y="417.95" font-family="Liberation Sans" font-weight="bold" font-size="6.6" text-anchor="end" fill="#1a1a1a" stroke="#1a1a1a" stroke-width="0.22">7.1</text>
<line x1="372.0" y1="426.14" x2="373.59999999999997" y2="426.14" stroke="#444" stroke-width="0.8"/>
<text x="371.70" y="428.54" font-family="Liberation Sans" font-weight="bold" font-size="6.6" text-anchor="end" fill="#1a1a1a" stroke="#1a1a1a" stroke-width="0.22">9.4</text>
<line x1="372.0" y1="436.73" x2="373.59999999999997" y2="436.73" stroke="#444" stroke-width="0.8"/>
<text x="371.70" y="439.13" font-family="Liberation Sans" font-weight="bold" font-size="6.6" text-anchor="end" fill="#1a1a1a" stroke="#1a1a1a" stroke-width="0.22">9.5</text>
<line x1="372.0" y1="447.32" x2="373.59999999999997" y2="447.32" stroke="#444" stroke-width="0.8"/>
<text x="371.70" y="449.72" font-family="Liberation Sans" font-weight="bold" font-size="6.6" text-anchor="end" fill="#1a1a1a" stroke="#1a1a1a" stroke-width="0.22">11.1</text>
<line x1="372.0" y1="457.91" x2="373.59999999999997" y2="457.91" stroke="#444" stroke-width="0.8"/>
<text x="371.70" y="460.31" font-family="Liberation Sans" font-weight="bold" font-size="6.6" text-anchor="end" fill="#1a1a1a" stroke="#1a1a1a" stroke-width="0.22">13.2</text>
<line x1="372.0" y1="468.50" x2="373.59999999999997" y2="468.50" stroke="#444" stroke-width="0.8"/>
<text x="371.70" y="470.90" font-family="Liberation Sans" font-weight="bold" font-size="6.6" text-anchor="end" fill="#1a1a1a" stroke="#1a1a1a" stroke-width="0.22">17.8</text>
<line x1="380.27" y1="473.8" x2="380.27" y2="475.8" stroke="#777" stroke-width="0.6"/>
<text transform="translate(382.67,482.40) rotate(-30)" font-family="Liberation Sans" font-weight="bold" font-size="6.1" text-anchor="end" fill="#1a1a1a" stroke="#1a1a1a" stroke-width="0.22">ST1</text>
<line x1="392.02" y1="473.8" x2="392.02" y2="475.8" stroke="#777" stroke-width="0.6"/>
<text transform="translate(394.42,482.40) rotate(-30)" font-family="Liberation Sans" font-weight="bold" font-size="6.1" text-anchor="end" fill="#1a1a1a" stroke="#1a1a1a" stroke-width="0.22">ST2</text>
<line x1="403.76" y1="473.8" x2="403.76" y2="475.8" stroke="#777" stroke-width="0.6"/>
<text transform="translate(406.16,482.40) rotate(-30)" font-family="Liberation Sans" font-weight="bold" font-size="6.1" text-anchor="end" fill="#1a1a1a" stroke="#1a1a1a" stroke-width="0.22">ST3</text>
<line x1="415.51" y1="473.8" x2="415.51" y2="475.8" stroke="#777" stroke-width="0.6"/>
<text transform="translate(417.91,482.40) rotate(-30)" font-family="Liberation Sans" font-weight="bold" font-size="6.1" text-anchor="end" fill="#1a1a1a" stroke="#1a1a1a" stroke-width="0.22">SC1</text>
<line x1="427.25" y1="473.8" x2="427.25" y2="475.8" stroke="#777" stroke-width="0.6"/>
<text transform="translate(429.65,482.40) rotate(-30)" font-family="Liberation Sans" font-weight="bold" font-size="6.1" text-anchor="end" fill="#1a1a1a" stroke="#1a1a1a" stroke-width="0.22">SC2</text>
<line x1="438.99" y1="473.8" x2="438.99" y2="475.8" stroke="#777" stroke-width="0.6"/>
<text transform="translate(441.39,482.40) rotate(-30)" font-family="Liberation Sans" font-weight="bold" font-size="6.1" text-anchor="end" fill="#1a1a1a" stroke="#1a1a1a" stroke-width="0.22">SC3</text>
<line x1="450.74" y1="473.8" x2="450.74" y2="475.8" stroke="#777" stroke-width="0.6"/>
<text transform="translate(453.14,482.40) rotate(-30)" font-family="Liberation Sans" font-weight="bold" font-size="6.1" text-anchor="end" fill="#1a1a1a" stroke="#1a1a1a" stroke-width="0.22">SP1</text>
<line x1="462.48" y1="473.8" x2="462.48" y2="475.8" stroke="#777" stroke-width="0.6"/>
<text transform="translate(464.88,482.40) rotate(-30)" font-family="Liberation Sans" font-weight="bold" font-size="6.1" text-anchor="end" fill="#1a1a1a" stroke="#1a1a1a" stroke-width="0.22">SP2</text>
<line x1="474.23" y1="473.8" x2="474.23" y2="475.8" stroke="#777" stroke-width="0.6"/>
<text transform="translate(476.63,482.40) rotate(-30)" font-family="Liberation Sans" font-weight="bold" font-size="6.1" text-anchor="end" fill="#1a1a1a" stroke="#1a1a1a" stroke-width="0.22">SP3</text>
<rect x="543.70" y="251.40" width="11.78" height="10.64" fill="#fff5b8"/>
<rect x="555.43" y="251.40" width="11.78" height="10.64" fill="#fff5b8"/>
<rect x="567.17" y="251.40" width="11.78" height="10.64" fill="#fff5b8"/>
<rect x="578.90" y="251.40" width="11.78" height="10.64" fill="#fff5b8"/>
<rect x="590.63" y="251.40" width="11.78" height="10.64" fill="#fff5b8"/>
<rect x="602.37" y="251.40" width="11.78" height="10.64" fill="#fee08b"/>
<rect x="614.10" y="251.40" width="11.78" height="10.64" fill="#fafcc0"/>
<rect x="625.83" y="251.40" width="11.78" height="10.64" fill="#ddf2b2"/>
<rect x="637.57" y="251.40" width="11.78" height="10.64" fill="#cae9b1"/>
<rect x="543.70" y="261.99" width="11.78" height="10.64" fill="#fafcc0"/>
<rect x="555.43" y="261.99" width="11.78" height="10.64" fill="#fafcc0"/>
<rect x="567.17" y="261.99" width="11.78" height="10.64" fill="#fafcc0"/>
<rect x="578.90" y="261.99" width="11.78" height="10.64" fill="#ddf2b2"/>
<rect x="590.63" y="261.99" width="11.78" height="10.64" fill="#b9e2ae"/>
<rect x="602.37" y="261.99" width="11.78" height="10.64" fill="#96d2ab"/>
<rect x="614.10" y="261.99" width="11.78" height="10.64" fill="#cae9b1"/>
<rect x="625.83" y="261.99" width="11.78" height="10.64" fill="#66c2a5"/>
<rect x="637.57" y="261.99" width="11.78" height="10.64" fill="#4aadae"/>
<rect x="543.70" y="272.58" width="11.78" height="10.64" fill="#fafcc0"/>
<rect x="555.43" y="272.58" width="11.78" height="10.64" fill="#fff5b8"/>
<rect x="567.17" y="272.58" width="11.78" height="10.64" fill="#fff5b8"/>
<rect x="578.90" y="272.58" width="11.78" height="10.64" fill="#fff5b8"/>
<rect x="590.63" y="272.58" width="11.78" height="10.64" fill="#fff5b8"/>
<rect x="602.37" y="272.58" width="11.78" height="10.64" fill="#fff5b8"/>
<rect x="614.10" y="272.58" width="11.78" height="10.64" fill="#fafcc0"/>
<rect x="625.83" y="272.58" width="11.78" height="10.64" fill="#ddf2b2"/>
<rect x="637.57" y="272.58" width="11.78" height="10.64" fill="#cae9b1"/>
<rect x="543.70" y="283.17" width="11.78" height="10.64" fill="#fafcc0"/>
<rect x="555.43" y="283.17" width="11.78" height="10.64" fill="#fff5b8"/>
<rect x="567.17" y="283.17" width="11.78" height="10.64" fill="#fff5b8"/>
<rect x="578.90" y="283.17" width="11.78" height="10.64" fill="#fff5b8"/>
<rect x="590.63" y="283.17" width="11.78" height="10.64" fill="#fff5b8"/>
<rect x="602.37" y="283.17" width="11.78" height="10.64" fill="#fff5b8"/>
<rect x="614.10" y="283.17" width="11.78" height="10.64" fill="#ddf2b2"/>
<rect x="625.83" y="283.17" width="11.78" height="10.64" fill="#cae9b1"/>
<rect x="637.57" y="283.17" width="11.78" height="10.64" fill="#96d2ab"/>
<rect x="543.70" y="293.76" width="11.78" height="10.64" fill="#fff5b8"/>
<rect x="555.43" y="293.76" width="11.78" height="10.64" fill="#fff5b8"/>
<rect x="567.17" y="293.76" width="11.78" height="10.64" fill="#fff5b8"/>
<rect x="578.90" y="293.76" width="11.78" height="10.64" fill="#fff5b8"/>
<rect x="590.63" y="293.76" width="11.78" height="10.64" fill="#fee08b"/>
<rect x="602.37" y="293.76" width="11.78" height="10.64" fill="#fee08b"/>
<rect x="614.10" y="293.76" width="11.78" height="10.64" fill="#fafcc0"/>
<rect x="625.83" y="293.76" width="11.78" height="10.64" fill="#fafcc0"/>
<rect x="637.57" y="293.76" width="11.78" height="10.64" fill="#ddf2b2"/>
<rect x="543.70" y="304.35" width="11.78" height="10.64" fill="#fff5b8"/>
<rect x="555.43" y="304.35" width="11.78" height="10.64" fill="#fff5b8"/>
<rect x="567.17" y="304.35" width="11.78" height="10.64" fill="#fff5b8"/>
<rect x="578.90" y="304.35" width="11.78" height="10.64" fill="#fee08b"/>
<rect x="590.63" y="304.35" width="11.78" height="10.64" fill="#fdc878"/>
<rect x="602.37" y="304.35" width="11.78" height="10.64" fill="#fdae61"/>
<rect x="614.10" y="304.35" width="11.78" height="10.64" fill="#ddf2b2"/>
<rect x="625.83" y="304.35" width="11.78" height="10.64" fill="#cae9b1"/>
<rect x="637.57" y="304.35" width="11.78" height="10.64" fill="#b9e2ae"/>
<rect x="543.70" y="314.94" width="11.78" height="10.64" fill="#fff5b8"/>
<rect x="555.43" y="314.94" width="11.78" height="10.64" fill="#fff5b8"/>
<rect x="567.17" y="314.94" width="11.78" height="10.64" fill="#fff5b8"/>
<rect x="578.90" y="314.94" width="11.78" height="10.64" fill="#fff5b8"/>
<rect x="590.63" y="314.94" width="11.78" height="10.64" fill="#fff5b8"/>
<rect x="602.37" y="314.94" width="11.78" height="10.64" fill="#fff5b8"/>
<rect x="614.10" y="314.94" width="11.78" height="10.64" fill="#b9e2ae"/>
<rect x="625.83" y="314.94" width="11.78" height="10.64" fill="#80caa8"/>
<rect x="637.57" y="314.94" width="11.78" height="10.64" fill="#66c2a5"/>
<rect x="543.70" y="325.53" width="11.78" height="10.64" fill="#fff5b8"/>
<rect x="555.43" y="325.53" width="11.78" height="10.64" fill="#fff5b8"/>
<rect x="567.17" y="325.53" width="11.78" height="10.64" fill="#fff5b8"/>
<rect x="578.90" y="325.53" width="11.78" height="10.64" fill="#fafcc0"/>
<rect x="590.63" y="325.53" width="11.78" height="10.64" fill="#ddf2b2"/>
<rect x="602.37" y="325.53" width="11.78" height="10.64" fill="#cae9b1"/>
<rect x="614.10" y="325.53" width="11.78" height="10.64" fill="#96d2ab"/>
<rect x="625.83" y="325.53" width="11.78" height="10.64" fill="#3288bd"/>
<rect x="637.57" y="325.53" width="11.78" height="10.64" fill="#3d3580"/>
<rect x="543.70" y="336.12" width="11.78" height="10.64" fill="#fff5b8"/>
<rect x="555.43" y="336.12" width="11.78" height="10.64" fill="#fff5b8"/>
<rect x="567.17" y="336.12" width="11.78" height="10.64" fill="#fff5b8"/>
<rect x="578.90" y="336.12" width="11.78" height="10.64" fill="#fafcc0"/>
<rect x="590.63" y="336.12" width="11.78" height="10.64" fill="#ddf2b2"/>
<rect x="602.37" y="336.12" width="11.78" height="10.64" fill="#ddf2b2"/>
<rect x="614.10" y="336.12" width="11.78" height="10.64" fill="#b9e2ae"/>
<rect x="625.83" y="336.12" width="11.78" height="10.64" fill="#80caa8"/>
<rect x="637.57" y="336.12" width="11.78" height="10.64" fill="#4aadae"/>
<rect x="543.70" y="346.71" width="11.78" height="10.64" fill="#fff5b8"/>
<rect x="555.43" y="346.71" width="11.78" height="10.64" fill="#fff5b8"/>
<rect x="567.17" y="346.71" width="11.78" height="10.64" fill="#fff5b8"/>
<rect x="578.90" y="346.71" width="11.78" height="10.64" fill="#fff5b8"/>
<rect x="590.63" y="346.71" width="11.78" height="10.64" fill="#fff5b8"/>
<rect x="602.37" y="346.71" width="11.78" height="10.64" fill="#fff5b8"/>
<rect x="614.10" y="346.71" width="11.78" height="10.64" fill="#b9e2ae"/>
<rect x="625.83" y="346.71" width="11.78" height="10.64" fill="#96d2ab"/>
<rect x="637.57" y="346.71" width="11.78" height="10.64" fill="#80caa8"/>
<rect x="543.70" y="357.30" width="11.78" height="10.64" fill="#fff5b8"/>
<rect x="555.43" y="357.30" width="11.78" height="10.64" fill="#fff5b8"/>
<rect x="567.17" y="357.30" width="11.78" height="10.64" fill="#fff5b8"/>
<rect x="578.90" y="357.30" width="11.78" height="10.64" fill="#fff5b8"/>
<rect x="590.63" y="357.30" width="11.78" height="10.64" fill="#fff5b8"/>
<rect x="602.37" y="357.30" width="11.78" height="10.64" fill="#fff5b8"/>
<rect x="614.10" y="357.30" width="11.78" height="10.64" fill="#b9e2ae"/>
<rect x="625.83" y="357.30" width="11.78" height="10.64" fill="#96d2ab"/>
<rect x="637.57" y="357.30" width="11.78" height="10.64" fill="#4aadae"/>
<rect x="543.70" y="367.90" width="11.78" height="10.64" fill="#fff5b8"/>
<rect x="555.43" y="367.90" width="11.78" height="10.64" fill="#fff5b8"/>
<rect x="567.17" y="367.90" width="11.78" height="10.64" fill="#fff5b8"/>
<rect x="578.90" y="367.90" width="11.78" height="10.64" fill="#fafcc0"/>
<rect x="590.63" y="367.90" width="11.78" height="10.64" fill="#fafcc0"/>
<rect x="602.37" y="367.90" width="11.78" height="10.64" fill="#fafcc0"/>
<rect x="614.10" y="367.90" width="11.78" height="10.64" fill="#fafcc0"/>
<rect x="625.83" y="367.90" width="11.78" height="10.64" fill="#fafcc0"/>
<rect x="637.57" y="367.90" width="11.78" height="10.64" fill="#ddf2b2"/>
<rect x="543.70" y="378.49" width="11.78" height="10.64" fill="#fff5b8"/>
<rect x="555.43" y="378.49" width="11.78" height="10.64" fill="#fff5b8"/>
<rect x="567.17" y="378.49" width="11.78" height="10.64" fill="#fff5b8"/>
<rect x="578.90" y="378.49" width="11.78" height="10.64" fill="#fdc878"/>
<rect x="590.63" y="378.49" width="11.78" height="10.64" fill="#f98e52"/>
<rect x="602.37" y="378.49" width="11.78" height="10.64" fill="#f98e52"/>
<rect x="614.10" y="378.49" width="11.78" height="10.64" fill="#fdae61"/>
<rect x="625.83" y="378.49" width="11.78" height="10.64" fill="#f46d43"/>
<rect x="637.57" y="378.49" width="11.78" height="10.64" fill="#c01c4a"/>
<rect x="543.70" y="389.08" width="11.78" height="10.64" fill="#fff5b8"/>
<rect x="555.43" y="389.08" width="11.78" height="10.64" fill="#fff5b8"/>
<rect x="567.17" y="389.08" width="11.78" height="10.64" fill="#fff5b8"/>
<rect x="578.90" y="389.08" width="11.78" height="10.64" fill="#fff5b8"/>
<rect x="590.63" y="389.08" width="11.78" height="10.64" fill="#fff5b8"/>
<rect x="602.37" y="389.08" width="11.78" height="10.64" fill="#fff5b8"/>
<rect x="614.10" y="389.08" width="11.78" height="10.64" fill="#fff5b8"/>
<rect x="625.83" y="389.08" width="11.78" height="10.64" fill="#fff5b8"/>
<rect x="637.57" y="389.08" width="11.78" height="10.64" fill="#fff5b8"/>
<rect x="543.70" y="399.67" width="11.78" height="10.64" fill="#fafcc0"/>
<rect x="555.43" y="399.67" width="11.78" height="10.64" fill="#fff5b8"/>
<rect x="567.17" y="399.67" width="11.78" height="10.64" fill="#fff5b8"/>
<rect x="578.90" y="399.67" width="11.78" height="10.64" fill="#fff5b8"/>
<rect x="590.63" y="399.67" width="11.78" height="10.64" fill="#fee08b"/>
<rect x="602.37" y="399.67" width="11.78" height="10.64" fill="#fdc878"/>
<rect x="614.10" y="399.67" width="11.78" height="10.64" fill="#fff5b8"/>
<rect x="625.83" y="399.67" width="11.78" height="10.64" fill="#fee08b"/>
<rect x="637.57" y="399.67" width="11.78" height="10.64" fill="#fdc878"/>
<rect x="543.70" y="410.26" width="11.78" height="10.64" fill="#fff5b8"/>
<rect x="555.43" y="410.26" width="11.78" height="10.64" fill="#fff5b8"/>
<rect x="567.17" y="410.26" width="11.78" height="10.64" fill="#fff5b8"/>
<rect x="578.90" y="410.26" width="11.78" height="10.64" fill="#fafcc0"/>
<rect x="590.63" y="410.26" width="11.78" height="10.64" fill="#fafcc0"/>
<rect x="602.37" y="410.26" width="11.78" height="10.64" fill="#fafcc0"/>
<rect x="614.10" y="410.26" width="11.78" height="10.64" fill="#fafcc0"/>
<rect x="625.83" y="410.26" width="11.78" height="10.64" fill="#fafcc0"/>
<rect x="637.57" y="410.26" width="11.78" height="10.64" fill="#fafcc0"/>
<rect x="543.70" y="420.85" width="11.78" height="10.64" fill="#fff5b8"/>
<rect x="555.43" y="420.85" width="11.78" height="10.64" fill="#fff5b8"/>
<rect x="567.17" y="420.85" width="11.78" height="10.64" fill="#fff5b8"/>
<rect x="578.90" y="420.85" width="11.78" height="10.64" fill="#96d2ab"/>
<rect x="590.63" y="420.85" width="11.78" height="10.64" fill="#66c2a5"/>
<rect x="602.37" y="420.85" width="11.78" height="10.64" fill="#3288bd"/>
<rect x="614.10" y="420.85" width="11.78" height="10.64" fill="#3b9bbb"/>
<rect x="625.83" y="420.85" width="11.78" height="10.64" fill="#000080"/>
<rect x="637.57" y="420.85" width="11.78" height="10.64" fill="#000080"/>
<rect x="543.70" y="431.44" width="11.78" height="10.64" fill="#fff5b8"/>
<rect x="555.43" y="431.44" width="11.78" height="10.64" fill="#fff5b8"/>
<rect x="567.17" y="431.44" width="11.78" height="10.64" fill="#fff5b8"/>
<rect x="578.90" y="431.44" width="11.78" height="10.64" fill="#fff5b8"/>
<rect x="590.63" y="431.44" width="11.78" height="10.64" fill="#fff5b8"/>
<rect x="602.37" y="431.44" width="11.78" height="10.64" fill="#fff5b8"/>
<rect x="614.10" y="431.44" width="11.78" height="10.64" fill="#80caa8"/>
<rect x="625.83" y="431.44" width="11.78" height="10.64" fill="#4170bb"/>
<rect x="637.57" y="431.44" width="11.78" height="10.64" fill="#282050"/>
<rect x="543.70" y="442.03" width="11.78" height="10.64" fill="#fafcc0"/>
<rect x="555.43" y="442.03" width="11.78" height="10.64" fill="#fafcc0"/>
<rect x="567.17" y="442.03" width="11.78" height="10.64" fill="#fafcc0"/>
<rect x="578.90" y="442.03" width="11.78" height="10.64" fill="#fff5b8"/>
<rect x="590.63" y="442.03" width="11.78" height="10.64" fill="#fff5b8"/>
<rect x="602.37" y="442.03" width="11.78" height="10.64" fill="#fff5b8"/>
<rect x="614.10" y="442.03" width="11.78" height="10.64" fill="#ddf2b2"/>
<rect x="625.83" y="442.03" width="11.78" height="10.64" fill="#cae9b1"/>
<rect x="637.57" y="442.03" width="11.78" height="10.64" fill="#abdba8"/>
<rect x="543.70" y="452.62" width="11.78" height="10.64" fill="#fff5b8"/>
<rect x="555.43" y="452.62" width="11.78" height="10.64" fill="#fafcc0"/>
<rect x="567.17" y="452.62" width="11.78" height="10.64" fill="#fafcc0"/>
<rect x="578.90" y="452.62" width="11.78" height="10.64" fill="#96d2ab"/>
<rect x="590.63" y="452.62" width="11.78" height="10.64" fill="#4aadae"/>
<rect x="602.37" y="452.62" width="11.78" height="10.64" fill="#4170bb"/>
<rect x="614.10" y="452.62" width="11.78" height="10.64" fill="#5e4fa2"/>
<rect x="625.83" y="452.62" width="11.78" height="10.64" fill="#000080"/>
<rect x="637.57" y="452.62" width="11.78" height="10.64" fill="#000080"/>
<rect x="543.70" y="463.21" width="11.78" height="10.64" fill="#fff5b8"/>
<rect x="555.43" y="463.21" width="11.78" height="10.64" fill="#fff5b8"/>
<rect x="567.17" y="463.21" width="11.78" height="10.64" fill="#fff5b8"/>
<rect x="578.90" y="463.21" width="11.78" height="10.64" fill="#fee08b"/>
<rect x="590.63" y="463.21" width="11.78" height="10.64" fill="#fdae61"/>
<rect x="602.37" y="463.21" width="11.78" height="10.64" fill="#fdae61"/>
<rect x="614.10" y="463.21" width="11.78" height="10.64" fill="#fafcc0"/>
<rect x="625.83" y="463.21" width="11.78" height="10.64" fill="#fafcc0"/>
<rect x="637.57" y="463.21" width="11.78" height="10.64" fill="#fff5b8"/>
<line x1="555.43" y1="251.4" x2="555.43" y2="473.8" stroke="#fff" stroke-opacity="0.3" stroke-width="0.6"/>
<line x1="567.17" y1="251.4" x2="567.17" y2="473.8" stroke="#fff" stroke-opacity="0.3" stroke-width="0.6"/>
<line x1="578.90" y1="251.4" x2="578.90" y2="473.8" stroke="#fff" stroke-opacity="0.3" stroke-width="0.6"/>
<line x1="590.63" y1="251.4" x2="590.63" y2="473.8" stroke="#fff" stroke-opacity="0.3" stroke-width="0.6"/>
<line x1="602.37" y1="251.4" x2="602.37" y2="473.8" stroke="#fff" stroke-opacity="0.3" stroke-width="0.6"/>
<line x1="614.10" y1="251.4" x2="614.10" y2="473.8" stroke="#fff" stroke-opacity="0.3" stroke-width="0.6"/>
<line x1="625.83" y1="251.4" x2="625.83" y2="473.8" stroke="#fff" stroke-opacity="0.3" stroke-width="0.6"/>
<line x1="637.57" y1="251.4" x2="637.57" y2="473.8" stroke="#fff" stroke-opacity="0.3" stroke-width="0.6"/>
<line x1="543.7" y1="261.99" x2="649.3" y2="261.99" stroke="#fff" stroke-opacity="0.3" stroke-width="0.6"/>
<line x1="543.7" y1="272.58" x2="649.3" y2="272.58" stroke="#fff" stroke-opacity="0.3" stroke-width="0.6"/>
<line x1="543.7" y1="283.17" x2="649.3" y2="283.17" stroke="#fff" stroke-opacity="0.3" stroke-width="0.6"/>
<line x1="543.7" y1="293.76" x2="649.3" y2="293.76" stroke="#fff" stroke-opacity="0.3" stroke-width="0.6"/>
<line x1="543.7" y1="304.35" x2="649.3" y2="304.35" stroke="#fff" stroke-opacity="0.3" stroke-width="0.6"/>
<line x1="543.7" y1="314.94" x2="649.3" y2="314.94" stroke="#fff" stroke-opacity="0.3" stroke-width="0.6"/>
<line x1="543.7" y1="325.53" x2="649.3" y2="325.53" stroke="#fff" stroke-opacity="0.3" stroke-width="0.6"/>
<line x1="543.7" y1="336.12" x2="649.3" y2="336.12" stroke="#fff" stroke-opacity="0.3" stroke-width="0.6"/>
<line x1="543.7" y1="346.71" x2="649.3" y2="346.71" stroke="#fff" stroke-opacity="0.3" stroke-width="0.6"/>
<line x1="543.7" y1="357.30" x2="649.3" y2="357.30" stroke="#fff" stroke-opacity="0.3" stroke-width="0.6"/>
<line x1="543.7" y1="367.90" x2="649.3" y2="367.90" stroke="#fff" stroke-opacity="0.3" stroke-width="0.6"/>
<line x1="543.7" y1="378.49" x2="649.3" y2="378.49" stroke="#fff" stroke-opacity="0.3" stroke-width="0.6"/>
<line x1="543.7" y1="389.08" x2="649.3" y2="389.08" stroke="#fff" stroke-opacity="0.3" stroke-width="0.6"/>
<line x1="543.7" y1="399.67" x2="649.3" y2="399.67" stroke="#fff" stroke-opacity="0.3" stroke-width="0.6"/>
<line x1="543.7" y1="410.26" x2="649.3" y2="410.26" stroke="#fff" stroke-opacity="0.3" stroke-width="0.6"/>
<line x1="543.7" y1="420.85" x2="649.3" y2="420.85" stroke="#fff" stroke-opacity="0.3" stroke-width="0.6"/>
<line x1="543.7" y1="431.44" x2="649.3" y2="431.44" stroke="#fff" stroke-opacity="0.3" stroke-width="0.6"/>
<line x1="543.7" y1="442.03" x2="649.3" y2="442.03" stroke="#fff" stroke-opacity="0.3" stroke-width="0.6"/>
<line x1="543.7" y1="452.62" x2="649.3" y2="452.62" stroke="#fff" stroke-opacity="0.3" stroke-width="0.6"/>
<line x1="543.7" y1="463.21" x2="649.3" y2="463.21" stroke="#fff" stroke-opacity="0.3" stroke-width="0.6"/>
<line x1="649.30" y1="251.4" x2="649.30" y2="473.8" stroke="#777" stroke-width="0.9"/>
<line x1="543.2" y1="250.9" x2="543.2" y2="473.8" stroke="#aaa" stroke-width="1"/>
<line x1="541.3000000000001" y1="256.70" x2="542.9000000000001" y2="256.70" stroke="#444" stroke-width="0.8"/>
<text x="541.00" y="259.10" font-family="Liberation Sans" font-weight="bold" font-size="6.6" text-anchor="end" fill="#1a1a1a" stroke="#1a1a1a" stroke-width="0.22">2.1</text>
<line x1="541.3000000000001" y1="267.29" x2="542.9000000000001" y2="267.29" stroke="#444" stroke-width="0.8"/>
<text x="541.00" y="269.69" font-family="Liberation Sans" font-weight="bold" font-size="6.6" text-anchor="end" fill="#1a1a1a" stroke="#1a1a1a" stroke-width="0.22">2.3</text>
<line x1="541.3000000000001" y1="277.88" x2="542.9000000000001" y2="277.88" stroke="#444" stroke-width="0.8"/>
<text x="541.00" y="280.28" font-family="Liberation Sans" font-weight="bold" font-size="6.6" text-anchor="end" fill="#1a1a1a" stroke="#1a1a1a" stroke-width="0.22">3.1</text>
<line x1="541.3000000000001" y1="288.47" x2="542.9000000000001" y2="288.47" stroke="#444" stroke-width="0.8"/>
<text x="541.00" y="290.87" font-family="Liberation Sans" font-weight="bold" font-size="6.6" text-anchor="end" fill="#1a1a1a" stroke="#1a1a1a" stroke-width="0.22">3.2</text>
<line x1="541.3000000000001" y1="299.06" x2="542.9000000000001" y2="299.06" stroke="#444" stroke-width="0.8"/>
<text x="541.00" y="301.46" font-family="Liberation Sans" font-weight="bold" font-size="6.6" text-anchor="end" fill="#1a1a1a" stroke="#1a1a1a" stroke-width="0.22">3.3</text>
<line x1="541.3000000000001" y1="309.65" x2="542.9000000000001" y2="309.65" stroke="#444" stroke-width="0.8"/>
<text x="541.00" y="312.05" font-family="Liberation Sans" font-weight="bold" font-size="6.6" text-anchor="end" fill="#1a1a1a" stroke="#1a1a1a" stroke-width="0.22">3.4</text>
<line x1="541.3000000000001" y1="320.24" x2="542.9000000000001" y2="320.24" stroke="#444" stroke-width="0.8"/>
<text x="541.00" y="322.64" font-family="Liberation Sans" font-weight="bold" font-size="6.6" text-anchor="end" fill="#1a1a1a" stroke="#1a1a1a" stroke-width="0.22">3.5</text>
<line x1="541.3000000000001" y1="330.83" x2="542.9000000000001" y2="330.83" stroke="#444" stroke-width="0.8"/>
<text x="541.00" y="333.23" font-family="Liberation Sans" font-weight="bold" font-size="6.6" text-anchor="end" fill="#1a1a1a" stroke="#1a1a1a" stroke-width="0.22">3.6</text>
<line x1="541.3000000000001" y1="341.42" x2="542.9000000000001" y2="341.42" stroke="#444" stroke-width="0.8"/>
<text x="541.00" y="343.82" font-family="Liberation Sans" font-weight="bold" font-size="6.6" text-anchor="end" fill="#1a1a1a" stroke="#1a1a1a" stroke-width="0.22">3.7</text>
<line x1="541.3000000000001" y1="352.01" x2="542.9000000000001" y2="352.01" stroke="#444" stroke-width="0.8"/>
<text x="541.00" y="354.41" font-family="Liberation Sans" font-weight="bold" font-size="6.6" text-anchor="end" fill="#1a1a1a" stroke="#1a1a1a" stroke-width="0.22">3.8</text>
<line x1="541.3000000000001" y1="362.60" x2="542.9000000000001" y2="362.60" stroke="#444" stroke-width="0.8"/>
<text x="541.00" y="365.00" font-family="Liberation Sans" font-weight="bold" font-size="6.6" text-anchor="end" fill="#1a1a1a" stroke="#1a1a1a" stroke-width="0.22">3.9</text>
<line x1="541.3000000000001" y1="373.19" x2="542.9000000000001" y2="373.19" stroke="#444" stroke-width="0.8"/>
<text x="541.00" y="375.59" font-family="Liberation Sans" font-weight="bold" font-size="6.6" text-anchor="end" fill="#1a1a1a" stroke="#1a1a1a" stroke-width="0.22">4.1</text>
<line x1="541.3000000000001" y1="383.78" x2="542.9000000000001" y2="383.78" stroke="#444" stroke-width="0.8"/>
<text x="541.00" y="386.18" font-family="Liberation Sans" font-weight="bold" font-size="6.6" text-anchor="end" fill="#1a1a1a" stroke="#1a1a1a" stroke-width="0.22">4.5</text>
<line x1="541.3000000000001" y1="394.37" x2="542.9000000000001" y2="394.37" stroke="#444" stroke-width="0.8"/>
<text x="541.00" y="396.77" font-family="Liberation Sans" font-weight="bold" font-size="6.6" text-anchor="end" fill="#1a1a1a" stroke="#1a1a1a" stroke-width="0.22">6.1</text>
<line x1="541.3000000000001" y1="404.96" x2="542.9000000000001" y2="404.96" stroke="#444" stroke-width="0.8"/>
<text x="541.00" y="407.36" font-family="Liberation Sans" font-weight="bold" font-size="6.6" text-anchor="end" fill="#1a1a1a" stroke="#1a1a1a" stroke-width="0.22">6.2</text>
<line x1="541.3000000000001" y1="415.55" x2="542.9000000000001" y2="415.55" stroke="#444" stroke-width="0.8"/>
<text x="541.00" y="417.95" font-family="Liberation Sans" font-weight="bold" font-size="6.6" text-anchor="end" fill="#1a1a1a" stroke="#1a1a1a" stroke-width="0.22">7.1</text>
<line x1="541.3000000000001" y1="426.14" x2="542.9000000000001" y2="426.14" stroke="#444" stroke-width="0.8"/>
<text x="541.00" y="428.54" font-family="Liberation Sans" font-weight="bold" font-size="6.6" text-anchor="end" fill="#1a1a1a" stroke="#1a1a1a" stroke-width="0.22">9.4</text>
<line x1="541.3000000000001" y1="436.73" x2="542.9000000000001" y2="436.73" stroke="#444" stroke-width="0.8"/>
<text x="541.00" y="439.13" font-family="Liberation Sans" font-weight="bold" font-size="6.6" text-anchor="end" fill="#1a1a1a" stroke="#1a1a1a" stroke-width="0.22">9.5</text>
<line x1="541.3000000000001" y1="447.32" x2="542.9000000000001" y2="447.32" stroke="#444" stroke-width="0.8"/>
<text x="541.00" y="449.72" font-family="Liberation Sans" font-weight="bold" font-size="6.6" text-anchor="end" fill="#1a1a1a" stroke="#1a1a1a" stroke-width="0.22">11.1</text>
<line x1="541.3000000000001" y1="457.91" x2="542.9000000000001" y2="457.91" stroke="#444" stroke-width="0.8"/>
<text x="541.00" y="460.31" font-family="Liberation Sans" font-weight="bold" font-size="6.6" text-anchor="end" fill="#1a1a1a" stroke="#1a1a1a" stroke-width="0.22">13.2</text>
<line x1="541.3000000000001" y1="468.50" x2="542.9000000000001" y2="468.50" stroke="#444" stroke-width="0.8"/>
<text x="541.00" y="470.90" font-family="Liberation Sans" font-weight="bold" font-size="6.6" text-anchor="end" fill="#1a1a1a" stroke="#1a1a1a" stroke-width="0.22">17.8</text>
<line x1="549.57" y1="473.8" x2="549.57" y2="475.8" stroke="#777" stroke-width="0.6"/>
<text transform="translate(551.97,482.40) rotate(-30)" font-family="Liberation Sans" font-weight="bold" font-size="6.1" text-anchor="end" fill="#1a1a1a" stroke="#1a1a1a" stroke-width="0.22">ST1</text>
<line x1="561.30" y1="473.8" x2="561.30" y2="475.8" stroke="#777" stroke-width="0.6"/>
<text transform="translate(563.70,482.40) rotate(-30)" font-family="Liberation Sans" font-weight="bold" font-size="6.1" text-anchor="end" fill="#1a1a1a" stroke="#1a1a1a" stroke-width="0.22">ST2</text>
<line x1="573.03" y1="473.8" x2="573.03" y2="475.8" stroke="#777" stroke-width="0.6"/>
<text transform="translate(575.43,482.40) rotate(-30)" font-family="Liberation Sans" font-weight="bold" font-size="6.1" text-anchor="end" fill="#1a1a1a" stroke="#1a1a1a" stroke-width="0.22">ST3</text>
<line x1="584.77" y1="473.8" x2="584.77" y2="475.8" stroke="#777" stroke-width="0.6"/>
<text transform="translate(587.17,482.40) rotate(-30)" font-family="Liberation Sans" font-weight="bold" font-size="6.1" text-anchor="end" fill="#1a1a1a" stroke="#1a1a1a" stroke-width="0.22">SC1</text>
<line x1="596.50" y1="473.8" x2="596.50" y2="475.8" stroke="#777" stroke-width="0.6"/>
<text transform="translate(598.90,482.40) rotate(-30)" font-family="Liberation Sans" font-weight="bold" font-size="6.1" text-anchor="end" fill="#1a1a1a" stroke="#1a1a1a" stroke-width="0.22">SC2</text>
<line x1="608.23" y1="473.8" x2="608.23" y2="475.8" stroke="#777" stroke-width="0.6"/>
<text transform="translate(610.63,482.40) rotate(-30)" font-family="Liberation Sans" font-weight="bold" font-size="6.1" text-anchor="end" fill="#1a1a1a" stroke="#1a1a1a" stroke-width="0.22">SC3</text>
<line x1="619.97" y1="473.8" x2="619.97" y2="475.8" stroke="#777" stroke-width="0.6"/>
<text transform="translate(622.37,482.40) rotate(-30)" font-family="Liberation Sans" font-weight="bold" font-size="6.1" text-anchor="end" fill="#1a1a1a" stroke="#1a1a1a" stroke-width="0.22">SP1</text>
<line x1="631.70" y1="473.8" x2="631.70" y2="475.8" stroke="#777" stroke-width="0.6"/>
<text transform="translate(634.10,482.40) rotate(-30)" font-family="Liberation Sans" font-weight="bold" font-size="6.1" text-anchor="end" fill="#1a1a1a" stroke="#1a1a1a" stroke-width="0.22">SP2</text>
<line x1="643.43" y1="473.8" x2="643.43" y2="475.8" stroke="#777" stroke-width="0.6"/>
<text transform="translate(645.83,482.40) rotate(-30)" font-family="Liberation Sans" font-weight="bold" font-size="6.1" text-anchor="end" fill="#1a1a1a" stroke="#1a1a1a" stroke-width="0.22">SP3</text>
<text x="16.6" y="243.3" font-family="Liberation Sans" font-weight="bold" font-size="13.6" fill="#111" stroke="#111" stroke-width="0.22">e</text>
<text x="183.0" y="243.3" font-family="Liberation Sans" font-weight="bold" font-size="13.6" fill="#111" stroke="#111" stroke-width="0.22">f</text>
<text x="348.8" y="243.3" font-family="Liberation Sans" font-weight="bold" font-size="13.6" fill="#111" stroke="#111" stroke-width="0.22">g</text>
<text x="514.6" y="243.3" font-family="Liberation Sans" font-weight="bold" font-size="13.6" fill="#111" stroke="#111" stroke-width="0.22">h</text>
<text transform="translate(10.8,355.3) rotate(-90)" font-family="Liberation Sans" font-weight="bold" font-size="13.5" text-anchor="middle" fill="#111" stroke="#111" stroke-width="0.22">Target</text>
<defs><linearGradient id="cb" x1="0" y1="0" x2="0" y2="1"><stop offset="0" stop-color="#2a1d4e"/><stop offset="0.06" stop-color="#3b3a8a"/><stop offset="0.12" stop-color="#5b50a3"/><stop offset="0.19" stop-color="#4170b6"/><stop offset="0.25" stop-color="#3390bb"/><stop offset="0.31" stop-color="#4fb0ae"/><stop offset="0.37" stop-color="#7fcba7"/><stop offset="0.42" stop-color="#b4e0a6"/><stop offset="0.46" stop-color="#e3f3a6"/><stop offset="0.5" stop-color="#fdfdbe"/><stop offset="0.54" stop-color="#fee69a"/><stop offset="0.58" stop-color="#fdc576"/><stop offset="0.63" stop-color="#fca45d"/><stop offset="0.68" stop-color="#f67c4a"/><stop offset="0.75" stop-color="#e1504c"/><stop offset="0.82" stop-color="#c82a4c"/><stop offset="0.88" stop-color="#a20844"/><stop offset="0.94" stop-color="#6c022f"/><stop offset="1.0" stop-color="#3a0018"/></linearGradient></defs>
<rect x="659.2" y="251.5" width="12.6" height="115.5" fill="url(#cb)"/>
<text x="675.6" y="253.8" font-family="Liberation Sans" font-weight="bold" font-size="6.4" fill="#111" stroke="#111" stroke-width="0.22">3</text>
<text x="675.6" y="283.1" font-family="Liberation Sans" font-weight="bold" font-size="6.4" fill="#111" stroke="#111" stroke-width="0.22">2</text>
<text x="675.6" y="311.8" font-family="Liberation Sans" font-weight="bold" font-size="6.4" fill="#111" stroke="#111" stroke-width="0.22">0</text>
<text x="675.6" y="341.0" font-family="Liberation Sans" font-weight="bold" font-size="6.4" fill="#111" stroke="#111" stroke-width="0.22">-2</text>
<text x="675.6" y="369.3" font-family="Liberation Sans" font-weight="bold" font-size="6.4" fill="#111" stroke="#111" stroke-width="0.22">-3</text>
<text x="668" y="390.7" font-family="Liberation Sans" font-weight="bold" font-size="9.5" text-anchor="middle" fill="#111" stroke="#111" stroke-width="0.22">Index</text>
<text x="668.5" y="401.6" font-family="Liberation Sans" font-weight="bold" font-size="9.5" text-anchor="middle" fill="#111" stroke="#111" stroke-width="0.22">Change</text>
</svg></body></html>
